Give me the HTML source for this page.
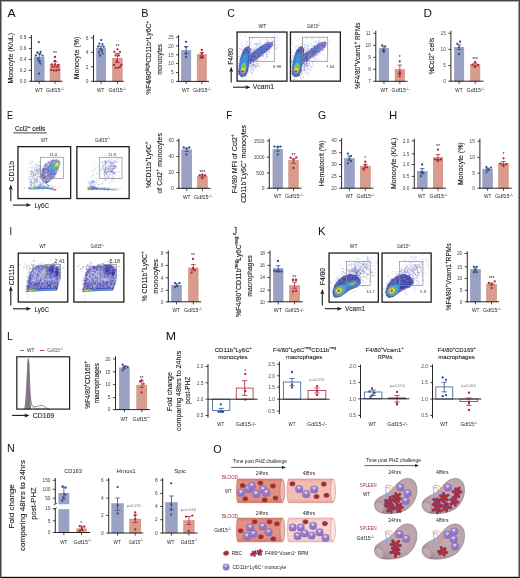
<!DOCTYPE html>
<html><head><meta charset="utf-8"><style>
html,body{margin:0;padding:0;background:#fff;}
svg{display:block;will-change:transform;}
text{font-family:"Liberation Sans", sans-serif;}
</style></head><body>
<svg width="520" height="578" viewBox="0 0 520 578">
<rect x="0" y="0" width="520" height="578" fill="#fff"/>
<defs><filter id="b0_4" x="-100%" y="-100%" width="300%" height="300%"><feGaussianBlur stdDeviation="0.4"/></filter><filter id="b0_6" x="-100%" y="-100%" width="300%" height="300%"><feGaussianBlur stdDeviation="0.6"/></filter><filter id="b0_8" x="-100%" y="-100%" width="300%" height="300%"><feGaussianBlur stdDeviation="0.8"/></filter><filter id="b1" x="-100%" y="-100%" width="300%" height="300%"><feGaussianBlur stdDeviation="1"/></filter><filter id="b1_5" x="-100%" y="-100%" width="300%" height="300%"><feGaussianBlur stdDeviation="1.5"/></filter><filter id="b2" x="-100%" y="-100%" width="300%" height="300%"><feGaussianBlur stdDeviation="2"/></filter><filter id="b3" x="-100%" y="-100%" width="300%" height="300%"><feGaussianBlur stdDeviation="3"/></filter></defs>
<clipPath id="cc1"><rect x="237.40" y="32.40" width="49.20" height="48.40"/></clipPath>
<g clip-path="url(#cc1)">
<path d="M240.4 67.6h0m5.8-6.6h0m-5.2 9.8h0m7.4-8.8h0m-3.8-8.6h0m1-5.2h0m2.6 5.1h0m-3.7-3.7h0m-4.3 22h0m-.3 3.4h0m4.1-11.7h0m-1.4-2.1h0m6.5-7.8h0m-1-.9h0m-.4 17.4h0m-2.1-1.1h0m-5.8-7.9h0m8.8-8.6h0m-5.2 5.1h0m.5 .7h0m.6 3.3h0m.7 8h0m-4.1-4.3h0m4.2 .4h0m-2.6 9.5h0m-.1-10.3h0m-3.5 6.8h0m8.9-13.8h0m-1.2 9.5h0m-3.8-13.5h0m6.3-2.6h0m-10.1 20.1h0m8.8-10.1h0m.8-13.5h0m-7.3 7.5h0m2-3.8h0m4.1 9.7h0m-6.1 15h0m3.4-7.2h0m-1.3-4.6h0m5.3-8.6h0m-3.9-1h0m1.3 18.1h0m-.7-18.6h0m-2.2 21.9h0m6.2-25.8h0m-9.5 22.9h0m6.4-23.1h0m-1.5 6.1h0m-.5-3.2h0m-1.5 15.3h0m5 2.5h0m-8.9-.8h0m1.4-1.6h0m1-.5h0m1.7-12.1h0m6.4-.5h0m-5 8h0m5.6-14.1h0m-4.4 12.8h0m-3.6 6h0m2.7-4.4h0m-5.8 8h0m.1 0h0m8.6-11.5h0m-1.4-.1h0m-1.6-1.7h0m-1.5-5.1h0m-1.9 14.9h0m2.6-14.6h0m-.9 7.8h0m1.3 7.2h0m1.7 1.3h0m.6 3.2h0m.3-5.5h0m-5.6 7.3h0m1.7-9.5h0m-.9-9.4h0m1-5.2h0m2-2.1h0m-3.1 27h0m5.5-15h0m-.5-8.1h0m-4.6 13.7h0m4.3-11.9h0m-5.3 18.3h0m-1.3-5.2h0m.6-2.6h0m1-6.8h0m2 7.4h0m-.7-10.8h0m-2.4 21.6h0m-2-4.7h0m8.4-17.9h0m-3.1 20.5h0m-3.4-15.4h0m4.6-5.6h0m-5.9 21.2h0m8.3-4.4h0m.9-4.8h0m-2.4-4.3h0m2.2-4.1h0m-6.6 .5h0m.3 8.5h0m7.4-17.4h0m-2.6 3.7h0m0 14.5h0m-3.4 1.2h0m4-5.2h0m-8.1 9.5h0m3.4-9.2h0m3.5-11.3h0m1 10.1h0m-6.9 11.1h0m6.5-19.8h0m-1.8 21.6h0m3.2-28h0m-5.5 18.8h0m3.2 4.5h0m.5-18.6h0m2.9 1.4h0m-1.3 16.7h0m1.3-11.9h0m-8.8 5.6h0m8-5.6h0m-4.9 6.9h0m0 1.9h0m4.3 3.4h0m-1.5-15.6h0m-2.7 3.9h0m.7-3.5h0m.6 6.1h0m-6.3 11.4h0m6.9-.7h0m1.9-2.2h0m-.9-4.7h0m.9 7.2h0m-4.6 .5h0m1.6-11.5h0m-1.3 5.3h0m2.6 2h0m-2.8-13.9h0m6.9-1.6h0m-3.7-1.6h0m2.5 3.7h0m-1.9 1h0m-2.3 13h0m-3.5-.8h0m1.5-1.2h0m.4-14.3h0m4.1 6.9h0m-7.2 14.7h0m7.6-9h0m-3.6-2.9h0m2.5 4.2h0m-3.4-9.1h0m4.8 9.1h0m-3.7-3.8h0m-2.9 8.6h0m2.9-17.8h0" stroke="#2c2c9c" stroke-opacity="0.5" stroke-width="0.6" stroke-linecap="square" fill="none"/>
<path d="M241.6 53.6h0m6.4 15.8h0m-2.5 10h0m-4.1-9.3h0m3.2-4.7h0m.2 2.5h0m-2.7-21.9h0m2.2 21.2h0m-1.2-6.8h0m.5 18h0m-.2-17.9h0m-1.2 16.1h0m4.4-10h0m-6.8-15.3h0m-.8 7.3h0m9.6 4.7h0m.9 2.5h0m3.8-14.2h0m-10.1 6.6h0m3.8 2.2h0m6.3-.9h0m-6.6-10.7h0m-1.4 22.1h0m-.7-23.1h0m3.2 17.8h0m-.6 2.2h0m3.5-22.7h0m-5.1 24.8h0m2.2 3.4h0m-6.4-9.2h0m2-11.6h0m-1.6 5.1h0m2.3 16.7h0m-2.4-3.5h0m0-6.1h0m6-.6h0m1.5-8.7h0m-4.4-.5h0m-.6-3h0m3.1-3.1h0m-6.1 18.8h0m-.7-18.4h0m5.1 .9h0m1.9 7.2h0m-2.2-12.7h0m-.1-8.5h0m3.4 20.8h0m.4 5.7h0m-3.8 9.2h0m-1.4-16.4h0m-1.9-6.1h0m9.8-8h0m2.4 9.6h0m-3.6 10.5h0m-4.5-12.1h0m5.9 11h0m-14.2 7.2h0m5.5-.2h0m-.8-1.9h0m4.5-2.9h0m3.1 5.4h0m-2.7 3.2h0m-6 1.8h0m4.9-21.9h0m.4 18.3h0m.1-27.3h0m1.9 19.6h0m-4.9-6.8h0m3-13.2h0m-.6 28.4h0m3.5-11.1h0m-7-12.7h0m-2.9 34h0m9.3-17.1h0m-3.8 7.9h0m-.5-6.6h0m2.5-8.5h0m-5.9-1h0m12.3-8.7h0m-9.6 10.9h0m2.2 .1h0m3.1 1.5h0m-6 10.8h0m9.2-20.6h0m-6.2 5h0m-4.7 16h0m5.3-7.6h0m8.8-3.6h0m-8.7-3.3h0m-7-15.6h0m15.5 7.5h0m-6.3 24.6h0m-3.9 2.5h0m2.6 2.2h0m-2.5-17.3h0m-2.5 8h0m.4-17.6h0m9.5 24.6h0m-2.6-13.8h0m-8-3.9h0m.7-2.1h0m1.8 16.2h0m2.2-16.3h0m4.8 19.4h0m-6.2-2h0m-3.5-2.4h0m-2.6 2.6h0m7.8-.3h0m-.8-8h0m-2.1 6.1h0m-2.9-.7h0m9.8-19.9h0m-5.9 3.9h0m-3.2-4.1h0m-3.5 7.6h0m3.5-14.3h0m-1.1 35.6h0m9.7-16.7h0m-3.5-1.5h0m-1-6.2h0m1.2-2.8h0m-5.3 8.8h0m1.6-10.2h0m2.8 19.2h0m1.7-7.3h0m-9-4.5h0m.4 3.2h0m13.7 .2h0m-10.3 13.4h0m2-19.3h0m.6-3.2h0m2.9 12.6h0m-6.6 2.9h0m10.1-9.6h0m-1.7-4h0m-10.8-4.4h0m8.6 18.1h0m-7.4 1.8h0m2.6-5.1h0m2.1-26.6h0m-1.6 32.2h0m1.2 6.5h0m2.2-29.5h0m4.4 31.8h0m-1.6-25.1h0m1.2-1.1h0m-6 20.4h0m4.2-20.3h0m-2.2 12.6h0m-2.7 11.4h0m-.5-23.4h0m-5.5 22.4h0m5.4 .1h0m1-7.7h0m-2-.7h0m-4.9 5.3h0m.8-17h0m4.2 7.7h0m3.7-11.2h0m4.6-18.4h0m-9.3 27.4h0m-2.3 11.1h0m3.5-4.9h0m-5.4 4h0m13.7-24.3h0m2.1 4.4h0m-15.7 18.6h0m13.1 .9h0m-5.2-16.2h0m-4.6 9.1h0m7.4-11.4h0m3.4-12.9h0m-4.1 13.3h0m.3 6.8h0" stroke="#2c2c9c" stroke-opacity="0.45" stroke-width="0.6" stroke-linecap="square" fill="none"/>
<path d="M258.5 49h0m-14.3 17.7h0m21.6-17.5h0m-17.9 2.8h0m19.1-7.2h0m-7.6-4.4h0m-.6 14.8h0m4.1 1.9h0m5-7h0m-4.1-2.6h0m-11.9 5.9h0m16.1-8.8h0m-23.5 18.7h0m14.4-13.5h0m1.5-2.8h0m16.9-10.3h0m-24.8 20.4h0m10-3.9h0m-.1-.9h0m-3.4-1.5h0m-8.7 4.2h0m6.1-6.6h0m8.2-1.8h0m5 1.2h0m-6 14.2h0m4.7-19.7h0m-6.9 5.3h0m-8.3 9.3h0m4.6-.2h0m-7.8 3h0m19.5-14.1h0m7.9 1.8h0m-27.4 9.5h0m8.6 2.1h0m-7-10.8h0m2.6 5.8h0m3.8-2h0m.1-2.8h0m.2 1.3h0m-2.6 2.6h0m10.3-5.1h0m-3.4-1.9h0m-15.8 13.9h0m18.7-12.9h0m-13.2 2.8h0m7.7-2.3h0m-11.9 13.9h0m14.4-6.6h0m-15-.7h0m16.1 1.3h0m-1.4-3h0m-12.1 7.2h0m-5.2-5.5h0m22-3h0m-12.2 4.6h0m8.3-7.7h0m-2.4 4.3h0m-9.5 .6h0m16.4 3h0m-11.7-3.6h0m16.1-12.6h0m-13.6 21.2h0m7.8-10.9h0m-19.3 16.4h0m13.1-10.7h0m7.5-1.7h0m2.2-1.6h0m-12.2 5.7h0m5.6-11.3h0m-13.6 11.3h0m3.1-3.3h0m2.3-2.6h0m6.1-.9h0m-10 3.2h0m9.3-5.7h0m-5.9 2.5h0m-8.4 9.1h0m6.2-3.8h0m4.5-4.7h0m7.8-7.5h0m4.4 2h0m8.4-11.5h0m-21.5 21.2h0m9.2-9.6h0m.8 1.2h0m-15.7 12.3h0m16.9-11.9h0m-9.7 1.3h0m11 2.3h0m-17.2 9h0m-3.8 .9h0m-7.3 3.5h0m21.6-21.3h0m-11.2 15.1h0m8.3-5.2h0m8.8-13h0m-9.9 3.9h0m-16.6 22.8h0m26.4-19.1h0m-21 9.6h0m.6 2.1h0m7.8 .1h0m5.5-14.5h0m10.9-1.3h0m-4.8 2.6h0m5.5 1h0m-3.1 3.4h0m-3.5-2.3h0m-15.2 .2h0m20.4-2.6h0m-16.6 13.1h0m7.7-8.9h0m14.2-6.3h0m-25.4 14.4h0m19.6-9.6h0m-6.7-1.9h0m-4.4-3.5h0m10.6 .5h0m-14.9 7.9h0m5-4.2h0m-8.8 5.7h0m21.9-12h0m-8 7.9h0m-7.4 7.3h0m.1-7h0m-5.5 5.7h0m7.6 2.2h0m-15.5 10.3h0m30.2-20.1h0m-21 4.7h0m17.7-6.2h0m-10.3 .6h0m-5 2.2h0m19-3.7h0m-15.3 11.1h0m-2.3-12.1h0m5.8 1.4h0m-1.2 2.2h0m-9.5 7.4h0m13.3-13.4h0m-15.6 9.9h0m7.7 5.1h0m9.3-8.2h0m.3 4.1h0m7.6-5.2h0m-22.3 6.2h0m15.2-4.9h0m-11.6 4.2h0m10.7-7.5h0m-11.3 10.3h0m1.9-.3h0m4-6.7h0m-5.4 9.8h0m-1.9-2.7h0m3.7-3h0m1.9 2.9h0m-.8-8.6h0m-6.2 12.5h0m8.7-4.1h0m5.1-3.4h0m-17.2 5.1h0m17.5-16.7h0m-1.3 6.3h0m1.7-2.4h0m-10.5 12.7h0m17-21.3h0m-13 11.2h0m4.2 2.5h0m-12.8 1.2h0m8.8-.2h0m5.9-4.6h0m2 0h0m4.7 0h0m-23.6 11.3h0m13.3-9.5h0m3.5 6.1h0m-13.9-.5h0m3.6 5.2h0m18.8-22.2h0m-.3-2.2h0m-13 16.4h0m-.4-3.5h0m-9.6 9.2h0m15.8-11.6h0m-3.1 5.3h0m4.5-10.2h0m7.4 8.2h0m-21.9 12.2h0m-9.2-2h0m13.2-6h0m-13.1 6.3h0m5.4 3.7h0m3.6-5.7h0m3.7-1.6h0m-16.3 9.4h0m6-8.5h0m17.2-4.6h0m-12.1 2.9h0m22.2-13.5h0m-5.3 8.1h0m-3.8-2.4h0m-4.7 7.8h0m-22.3 8.9h0m25.8-12.8h0m-1-4.1h0m-12.3 5h0m10.4-1.4h0m-5.5-6h0m-1.2 6.1h0m13.7-2h0m-2.5 1.1h0m2.9-3.4h0m-14.6 10.1h0m6.8-4h0m2.6-3.1h0m-2.1 1h0m-5.8-.5h0m-2.2 4.4h0m18.9-12.7h0m-17.8 16.6h0m8.2-9.9h0m1.9-4.5h0m-14.3 12.5h0m6.1-3.2h0m5.2 1.4h0m-.6-1.9h0m-5.3-2.5h0m1.4-.9h0m7-1.9h0m-12.3 9.8h0m7.7-7.5h0m-8.2 6.9h0m3.5-3.5h0m-17.2 11.4h0m40.9-19.2h0m-11.6 .3h0m1.4 2.6h0m-8.4 3.4h0m-3.8-4.9h0m12.8 2.5h0m-6.5 2.3h0m-9.1 4.5h0m-.7-3.6h0m13.8 4.5h0m6.4-14.3h0m-11.9 17.7h0m-9.1-5.8h0m14.9 .8h0m.3-17.6h0m-24 20.8h0m23.2-15.4h0m-9.4 16h0m-1.3 2.6h0m-11.1-1.7h0m22.5-18.1h0m-3.6 11.1h0m2.9-3.9h0m-1.7 2.4h0m-4.9-1.7h0m11.9-11.5h0m-12.7 11h0m1 7.2h0m-15.7-.3h0m18.7-6.4h0m-2.9 1h0m2.5-2.7h0m5-2.6h0m-20.9 10.8h0m14.5-9.5h0m-12.9 15.4h0m13.1-7.6h0m5.6-14.6h0m-5.8 7.3h0m-2.5 7.1h0m1.7-4.1h0m.5 1.7h0m-22.4 19.2h0m27-22h0m-3.7 8.1h0m-3.8-2h0m-8-5.2h0m11.8 1.7h0m-13.5 14.2h0m15.6-16.2h0m-14.5 3.7h0m8.5 .2h0m-1.6 .1h0m6.1-3.1h0m.1-1.6h0m-15.4 13.3h0m16.9-9.3h0m-4.3-6.7h0m5.7 6.6h0m7.7-11h0m-11.9 8.6h0m7.5-3.3h0m10.1-8.3h0m-18.8 18.2h0m3.7-11.4h0" stroke="#2c2c9c" stroke-opacity="0.45" stroke-width="0.6" stroke-linecap="square" fill="none"/>
<path d="M255.4 48.3h0m-8.3 13.8h0m5.5-6.5h0m6.5-10.7h0m2.1 1h0m-3.9 2.3h0m-16.7-4.5h0m8.2 7h0m27.2-12.2h0m-18.8 8.2h0m11.5 4.5h0m-8.9 1.3h0m1.7 11.7h0m11.5-26.1h0m-11.4 13.4h0m12.3-15.1h0m-12.6 17.6h0m-6.7-4.2h0m7.3 2.3h0m-13.1 1h0m9-5.4h0m6.4-8.4h0m-11.3 22.9h0m.7-12h0m9.5-5.3h0m-21.9 14.8h0m22.3-10.6h0m7.1-2.4h0m-5.7 13.4h0m-24.4-24.7h0m23.2 20.3h0m-8.4-11.2h0m11.6 12.6h0m-11.2-12.8h0m-.5 11.6h0m-6.9 9.7h0m3.8 5.1h0m2.5-10.1h0m-2.1-23.5h0m6 7h0m-4.9 11.1h0m-12.1 2.2h0m20.8-1.9h0m4.1-5.4h0m-24.6-5.1h0m21.3 11.7h0m-8.3-6.4h0m-9.8 3.7h0m17.6-4.3h0m-6.6-1.8h0m-7.1 2.3h0m.4 16.8h0m-.7-.1h0m8.6-24.3h0m7.3 9.4h0m-2.4-4.7h0m-10.8 5.1h0m-.9-8.8h0m11.7-1.4h0m9.6 10.5h0m-21.9 2.6h0m-.6 4.8h0m-.4-14.2h0m11.1-3.2h0m8.1 18.3h0m-14.1-11.8h0m-10 14.2h0m8.7-10.8h0m8.6-12.8h0m4.8 18.8h0m-5.8-16.5h0m4.6 2.2h0m4 1.8h0m-10.2-10.8h0m-9.3 1.9h0m6.9 6.6h0m6 7h0m14.1-4.4h0m-20.4-10.2h0m-1.3 8.4h0m.5 7.8h0m9.1 2.3h0m.3-4.7h0m-12.3 4.2h0m7.6-.7h0m-15.3 9.8h0m2.8-1.6h0m.6-18.7h0m7.8 .6h0m6.4 6.8h0m-3.2 7.7h0m-11.7-5.9h0m10.7 4h0m-14.2-23h0m10.2 16.4h0m-7.5-5.1h0m-1.3 11.7h0m14.6-12.8h0m-6 5.8h0m4.6-7h0m7.2 15.4h0m-8.1-13.7h0m0 19.6h0m19.2-23.4h0m-19.1 20.3h0m-2.2-4.3h0m-5.3-2h0" stroke="#8080d4" stroke-opacity="0.55" stroke-width="0.5" stroke-linecap="square" fill="none"/>
<path d="M244.6 64.3h0m-4-6.5h0m12.1 8.3h0m5.1 0h0m-6.4 .3h0m-7.2-14.7h0m8-1.2h0m4.3 10h0m-3.2 10.9h0m-1-6.5h0m-4.9 3.9h0m1.8-9.6h0m4.5 6h0m-5.5-5.6h0m-2.6 1.2h0m-.8-2.3h0m11.4 1.6h0m-7.2 7.5h0m3-1.5h0m-.8-8.4h0m4.8 6h0m-4.6 .9h0m6.1-.6h0m-2.9-10h0m-4.9 7h0m.2-1h0m2.5 7.4h0m.9-2.6h0m.4-2h0m4.3-1.2h0m-6.1-1h0m-1-.6h0m-3.3 2.7h0m5.9-1h0m3.8 1.6h0m-11-1.4h0m9 3.6h0m-4.5-9h0m1 7.1h0m8.3 2.3h0m-8.3-1h0m-.5 1.4h0m-.5-3.7h0m-4.4-1.4h0m.3 .3h0m5.5 6.5h0m-.2-9.1h0m1.2 1.2h0m-9.6 4.4h0m6.7-4.9h0m-.5 6.4h0m2.2-7.8h0m3.2-1.8h0m-.8 1.2h0m-3.6 12.9h0m0-6.9h0m-1.2 .4h0m5.2 .7h0m2.9-3.8h0m-10.5 4.8h0m.9 1.5h0m3.4 5.6h0m1.7-15h0m-4.8 3.5h0m4.6-7.7h0m.7 8.3h0m.6-.8h0m.9 5.2h0m-4.4-5.3h0m-5.3-8.3h0m7.9 1.1h0m.6 13h0m-1.9 1h0m9.9-15.9h0m-10.5 17.5h0m-7.8-14.8h0m6.4 9.2h0m3.7 .8h0m-3.5-1.3h0m.8-3.4h0m7.1 5.2h0m-12.7-.2h0m3-4.2h0m10.6 6.5h0m-8.4-7.7h0m6.2 7h0m1.1-7h0m5.2-3.9h0m-9.4 9.7h0m-3.7-1.8h0m-5.4 .4h0m6.8 8.3h0m.3 0h0m2-8h0m3.2 .7h0m1.1-.8h0m-13.6 4.3h0m1.8 .9h0m5.8-11.1h0m.9-1.9h0m-4.5 3.8h0m6.3 7.9h0m-7-5.6h0m6.6 .3h0m1.9-3.1h0m-.1 7.1h0m-2.4 1.7h0m-8.6-4.3h0m8.1-2.1h0m5.4-7.2h0m-5.7 9.9h0m-2-1.4h0m4.4 3.9h0m-2 2.4h0m.1 .6h0m-2.6-8.6h0m-2.5-9h0m4.8 10.3h0m-2.5-4h0m-2.5 6.9h0m9.2-.7h0m0 5.1h0m-.9-3h0m-5.5-4.6h0m4.5 4.2h0m-5.3-2h0m4.1 .4h0m-1.5-4.7h0m-.7 0h0m2.7-5.3h0" stroke="#2c2c9c" stroke-opacity="0.45" stroke-width="0.55" stroke-linecap="square" fill="none"/>
<path d="M238.3 74.0 L238.8 66.0 L240.3 58.0 L242.8 51.0 L245.8 47.0 L249.0 46.0 L250.8 49.0 L250.0 56.0 L249.0 64.0 L248.0 71.0 L246.0 76.0 L241.5 77.3Z" fill="#2c2c9c" fill-opacity="0.7" filter="url(#b1_2)"/>
<path d="M247.5 57.0 L254.5 51.0 L261.5 45.8 L267.5 42.2 L272.3 41.8 L273.5 45.0 L269.0 49.8 L262.0 55.2 L255.0 60.5 L250.0 63.5Z" fill="#2c2c9c" fill-opacity="0.62" filter="url(#b1_2)"/>
<path d="M239.8 72.0 L240.5 64.0 L242.0 57.0 L244.5 52.5 L247.2 51.5 L248.2 56.0 L247.5 64.0 L246.6 70.0 L244.8 74.5 L241.6 75.3Z" fill="#3a70cc" fill-opacity="0.7" filter="url(#b1_0)"/>
<path d="M239.8 72.0 L240.5 64.0 L242.0 57.0 L244.5 52.5 L247.2 51.5 L248.2 56.0 L247.5 64.0 L246.6 70.0 L244.8 74.5 L241.6 75.3Z" fill="#3aa6e2" fill-opacity="0.75" filter="url(#b1_5)"/>
<ellipse cx="262.00" cy="49.20" rx="6.50" ry="1.90" transform="rotate(-33 262.00 49.20)" fill="#3c86d4" fill-opacity="0.7" filter="url(#b1_0)"/>
<ellipse cx="243.60" cy="67.80" rx="2.70" ry="5.20" transform="rotate(8 243.60 67.80)" fill="#80c84e" fill-opacity="0.95" filter="url(#b1_0)"/>
<ellipse cx="242.90" cy="70.30" rx="1.90" ry="2.60" transform="rotate(5 242.90 70.30)" fill="#efe040" fill-opacity="1" filter="url(#b0_6)"/>
<ellipse cx="242.60" cy="71.20" rx="1.20" ry="1.20" transform="rotate(0 242.60 71.20)" fill="#e2302a" fill-opacity="1" filter="url(#b0_2)"/>
</g>
<rect x="249.30" y="37.40" width="25.40" height="23.90" fill="none" stroke="#8c8c8c" stroke-width="0.7"/>
<text x="277.00" y="67.90" font-size="4.3" fill="#3a3a3a" text-anchor="middle">9.98</text>
<rect x="237.05" y="32.05" width="49.90" height="49.10" fill="none" stroke="#1e1e1e" stroke-width="1.3"/>
<clipPath id="cc2"><rect x="290.80" y="32.40" width="49.20" height="48.40"/></clipPath>
<g clip-path="url(#cc2)">
<path d="M303.7 50.4h0m-3.9 6.4h0m3-3.5h0m-3.6 21.9h0m1.4-27.7h0m1.7 16.7h0m-1.9 1h0m-5.5 10.7h0m.7-5.5h0m-2.1 1.4h0m6.5-20h0m-2 10.4h0m-1.2 4.5h0m6.4-11.1h0m-6.8 8.6h0m-1 .4h0m3.1-5h0m1.6 2.9h0m-4-3h0m.6 15.6h0m6.2-23.7h0m-4.4 5.5h0m-2.7 .3h0m2.6 13.7h0m1.4-18.6h0m.6-4.7h0m-3.6 24.3h0m5.5-10.3h0m-4.1 2.7h0m-.6 4.5h0m2.1-11.7h0m-.4 18.4h0m.3-18.8h0m-5.8 11h0m3.3-13.3h0m5.4-2.7h0m-4.9 .8h0m-1.6 16.5h0m6.3-22h0m-8.1 14.3h0m2.3 8.2h0m4.2-9h0m-.7-9.6h0m-.8-3.6h0m3.1 6h0m-3.9-2.9h0m-2.4 22.6h0m5.9-26.7h0m-5.5 19.7h0m-2.5 5.1h0m2.3 1.5h0m1.9-20.7h0m4.1 10.1h0m-1.8 9.6h0m-3.6 1.8h0m4.4-15.3h0m-1.3-6h0m-3.5 1.3h0m1.8 22.9h0m-4.6-12.8h0m4.7 6.5h0m2 1.2h0m1.7-22.1h0m-4 26.3h0m1.5-6.2h0m-3.6 7.2h0m4-20.3h0m-2.6 .3h0m-3.4 4.5h0m3-3.8h0m5-1.5h0m-3.4 17.9h0m-.4-20.7h0m3.9-3.3h0m-4.3 21.6h0m-1.8-13.2h0m1.5 7.8h0m-5.1 1.8h0m9.5-.5h0m-5.6-12h0m-2.6 5.2h0m7.8-7.4h0m-3.8 13.1h0m-2.1-12.4h0m.4 5h0m2.8-7h0m-1.9 23.2h0m1.9-2.9h0m-3.7 1.4h0m6.5-20.1h0m-3.2 14.2h0m.6-2.5h0m-4.2-1.5h0m1.4 7.7h0m.3 5.7h0m2.6-23.6h0m1.9-5.7h0m-1.6 8.2h0m2.1-5.6h0m-1.2 18.3h0m-3.8-2h0m.8 5h0m-3.5 4.1h0m4.4-24.4h0m-.4 .5h0m-2.8 8.4h0m2.4 7.9h0m1.6-14.7h0m-5 19.8h0m-1.3-1h0m5.9 3h0m1-18.4h0m-2.4 12.4h0m-2.5 2.2h0m1.4-7.6h0m-2.5 10.8h0m4.9-23.4h0m-1.1 7.1h0m-4.7 7.4h0m9.8-7.2h0m-7.1 7h0m6.3-13.9h0m-6.4 14.8h0m-3 5.5h0m3.4 .4h0m1.8-20.8h0m-2.4 18.5h0m6.6-3.9h0m-6.1 1h0m5.4-9.3h0m2-2.7h0m-1.1 7.6h0m1-1.4h0m-7.2 11.9h0m6.5-23.2h0m-7.5 7.3h0m2.3-6.3h0m3 2.9h0m-2.8 16.4h0m-1.1-16h0m-1.4 15h0m1.5-.9h0m-.6-9.8h0m7.6-6.1h0m-8.2 23.9h0m8.4-23h0m-4.3-3.6h0m-2.1 20.6h0m3.4 .5h0m-2.5-10.1h0m.4-10.2h0m-.1 3.2h0m.4-.1h0m.1 8.4h0m.5 5.4h0m1.2-5.3h0m-4.8 9.2h0m1.5 1h0m.9 1.2h0m-1.3-19.5h0" stroke="#2c2c9c" stroke-opacity="0.5" stroke-width="0.6" stroke-linecap="square" fill="none"/>
<path d="M299.6 57.3h0m-5.8 18.3h0m13.4-29.9h0m-12 23.5h0m.9-3.4h0m-2.6 14.1h0m8.6-18.3h0m1.1 9.5h0m3.7-11.5h0m-4.3-15.2h0m-1.9 10h0m-4.4 9.2h0m-3.5-1.6h0m6.9-4.4h0m-6.5 13.6h0m-1.6-10h0m15.7-5.1h0m-14.3-.1h0m2.3-3.3h0m-2 15.3h0m7.7-16.3h0m5.3 1.7h0m-.3 5.3h0m-10.5-1.9h0m9 8.4h0m-2.4-20.4h0m-3 14.3h0m-.4-5.4h0m-5.8 14.2h0m7.7-3.2h0m-3 4.7h0m-.5-8.2h0m2.4 3.6h0m3.7-31.5h0m-2 15.8h0m-.5 27.8h0m-1.8-11.5h0m3.4-25h0m4.6 21.4h0m-9.3 12.8h0m-5-18.8h0m3.6 20.4h0m.2-7.6h0m-1.2-10.8h0m1.7 14.4h0m-2.4-5.7h0m1.2 2.4h0m-2.4 8.2h0m3-26.7h0m9.4 5.5h0m-5.9 14.7h0m-8-12.8h0m4.9 2.9h0m-5.2 2.3h0m10.4-12.2h0m-3.8 14h0m-7-4.7h0m9.6 11.1h0m-5.3-18.1h0m2.2 13.6h0m4.3-2.7h0m1.6-8h0m3.4 6.1h0m-11.4-6.8h0m-3.2-2.8h0m3.7 14.6h0m9.3-13.1h0m-11.7 14.9h0m7.6 2.3h0m1-21.3h0m-2.6-5.1h0m-7.1 29.9h0m13.4-14.2h0m-7.9 16.5h0m-1.2-30.7h0m3.5-7.6h0m1.3 22.8h0m-4.6 .6h0m3.6-.1h0m-9.1 5.5h0m3.9-3.2h0m-.1-3.1h0m-4.1 .4h0m3.4 11.2h0m2.2-21.4h0m9.1-10.3h0m-4.6 20.1h0m-5.2 .9h0m3.1-10.6h0m4.3 1.1h0m-4.2 6.9h0m-2.8-5.5h0m3.8 3.9h0m1.9 14h0m-8.1-.2h0m1.4-25.2h0m11.3-1.5h0m-12.5 19.2h0m9.6-9.6h0m2.9-1.4h0m-3.2 13.9h0m-4.2-8.1h0m-7.8 12.8h0m1.5-11.5h0m7.2 6.8h0m2.4-11.8h0m-10.5 7.3h0m3 10.1h0m5.9-16h0m-10 3.4h0m13.3-5.2h0m-7.9-5.2h0m1.5-8.5h0m14.6 20.7h0m-11.8 13.2h0m-6.3-8h0m8.8 10.4h0m1.1-22.8h0m-9 6.8h0m11.3-6.1h0m-8 19.4h0m3.2-12.3h0m-8 6.2h0m2.2-3.1h0m1.3-9.9h0m1.2-5.1h0m7-2.6h0m-4.6 9.5h0m3.3-12.9h0m-6 17.8h0m4 11.7h0m-2.1-12.6h0m-3.9 11.4h0m6.5-3.3h0m4.3-22.6h0m-6.8 9h0m8.5-12.5h0m-2.4 7.3h0m-3.2-.5h0m1.6 14h0m-8.9-2.8h0m5.1 18.4h0m-1-19.6h0m4.7 5.1h0m-.1 3.5h0m-7 4.2h0m-3.3-11.1h0m1.8 11.8h0m4.3-9.3h0m.6 14.2h0m.3-20h0m10.4-19.9h0m-19 26.5h0m5.7-14.9h0m-4.3 28.9h0m2.9-6.7h0m5-8.4h0m-1.6-7.5h0m-2.5 15.7h0m.1-9.3h0m2.7 1.9h0m3.5-20.5h0m-.1 2.4h0m-2.3 15.7h0m-2.3-12.2h0m4.1 9.7h0m-2.5-16.7h0m5.5 16h0m-14.1 15.7h0m14.1-36.9h0m-11.8 41.2h0m4.5-23.7h0m1.2 16.6h0m-4.1-16.6h0m1 1.8h0m-2.6-2.4h0m10.2-7.4h0m-3.1 21.9h0m-1.7 2.6h0m-1.6-26h0m5.1 17.7h0m-5.3 10h0m-5.2-12.4h0m7.4-8.4h0" stroke="#2c2c9c" stroke-opacity="0.45" stroke-width="0.6" stroke-linecap="square" fill="none"/>
<path d="M308.2 55.8h0m11.3-2.8h0m4.2-2.3h0m-12.1 3.6h0m1.7-3.6h0m.1 7h0m11.6-13.9h0m-32.2 18h0m19-1.4h0m9.8-15.5h0m-1.4 3.5h0m-6.8 3h0m-7.8 1.8h0m5.3-4.2h0m5.4-.5h0m-7.4 8.2h0m-.8-2.5h0m.8 3.8h0m5.8-7.9h0m-1 3.6h0m-6.6-5.1h0m19.3-5.8h0m-8.7 2.2h0m-17.1 11.3h0m16.8-9.1h0m-5.6 3.7h0m-5.4 13.1h0m-1.1-10.6h0m1.3 4.7h0m16.5-12.5h0m-6.7 2.9h0m7.6-3.4h0m-9.2 1.2h0m9.2 .7h0m-14.8 4.9h0m5.3-6.3h0m-1.4 2.9h0m-4.3 11.3h0m-5.9-8.2h0m20.2-9.6h0m-1.4 3.8h0m-17.8 5.9h0m9.2 1.5h0m-4.5 .4h0m-.6 1.5h0m6.3-5h0m-16.4 9.4h0m12-7.4h0m-10.7 7.2h0m.1-4.6h0m15-7.9h0m9.3 2h0m-23.1 13h0m3.1-.8h0m20.2-11.2h0m-4.5-8.7h0m-7.3 4.9h0m6.2 5.5h0m-4.2 3.2h0m-7.6-.3h0m-5.1-2h0m12.7-1.4h0m-9.8 3.4h0m-.2 6.9h0m12.3-14.2h0m-6.6 5.2h0m-1.9 4.8h0m8.2-16.3h0m1.6 3.7h0m-9.8 4.8h0m1.5 4.6h0m7.2 6.4h0m-6.7-7.4h0m2.1 1.6h0m8-4.6h0m-6.5 2.4h0m-16.6 11.5h0m9.9-6.4h0m3.6-1.3h0m2.1-1.3h0m-11.6 10.1h0m5.9-1.7h0m-3.6-4.2h0m3.3-1.9h0m12.4-13.5h0m-1.4 8.6h0m-9.7 7h0m2.8-3.1h0m1.5 9.7h0m-3.8-19.4h0m7.7 1.8h0m-14.6 10.5h0m3.4-.4h0m-.4-4.8h0m10.8-1.9h0m-1.4 .9h0m-.5 .3h0m10.5-4.8h0m-3.3 5h0m-17.1 10h0m-5.2-3.6h0m9.5-1.6h0m14.4-15.5h0m-20 21.4h0m7-15.3h0m20.2-6.8h0m-14.5 9.5h0m-2.7 3.9h0m4.3-.5h0m-14 4.9h0m16.1-16.7h0m-1.5 2.8h0m6 4.7h0m-5.1-2h0m-11.2 5.4h0m8.6-3.5h0m-8.3 6.7h0m.9 4.2h0m11.5-13.7h0m1.5-2.2h0m2.9-.6h0m-23.6 8.1h0m23.2-15.4h0m-8.6 17.3h0m-5.3-3.9h0m3 2.5h0m3.3-1h0m-7.8 8.4h0m9.2-8.3h0m3.8-3.9h0m-17.4 7.2h0m2.3-2.9h0m-.3-2.9h0m8 1.6h0m6.4-6.7h0m5.7-2.3h0m-14.2 11h0m14.4-6.4h0m-10 2.9h0m-8.3 .2h0m4 1.4h0m12.7-9.6h0m-1.2 3.1h0m-10.7 10.3h0m-18.5 2.2h0m33.3-14.2h0m-11.2 5.7h0m-1.7 1.6h0m-1.1 2.1h0m3.4-.9h0m-11.2 3.9h0m19.3-13.8h0m-8.4 8.4h0m-1.4 8.3h0m-.8-15.5h0m4.7-.7h0m-19.8 16.6h0m17-16.5h0m2.2 1.9h0m5.6 3h0m-20.6 1.4h0m5.5-3.2h0m9.4 .6h0m2.6-2.4h0m-13.5 14.3h0m-1.2-1h0m4.9-7h0m-5.9 10.2h0m19.5-18h0m-18.3 13.2h0m-5.6-3.1h0m20.3-5.7h0m-6.5 11.7h0m-1.3-6.8h0m5-6.1h0m-1.7 5.6h0m2.7-2.1h0m5.9-2.3h0m-4.8 3.6h0m-12.9 1.8h0m6.4 4.1h0m-8.8 3.1h0m2.2-5.2h0m-3.4-3.3h0m19.1-7.2h0m-9.3 8.1h0m-17.2 18.2h0m28.4-26.9h0m-8.2 9.2h0m3.2-1.2h0m-1.9-3.4h0m-3-2.1h0m.2 9.9h0m9.2-9.5h0m-6.5 .4h0m1.4 .6h0m-9.8 13.2h0m5.2-8h0m-9.5 5.7h0m12-6.4h0m1-1.2h0m4.2 .3h0m-2.9-6.9h0m-1.9 10.8h0m2.1-8.4h0m-6.3 5.4h0m-2.4-6.6h0m-13.4 16h0m3.5-4.5h0m5.6 .7h0m8.4-.8h0m-1.7-5.6h0m-1.1 1h0m-8.4 1.6h0m17.4-10.4h0m-16.6 9.9h0m.9-1.3h0m-1.5-.6h0m2.5 14.6h0m8.5-13.5h0m8.2-5.5h0m-8.1 2.3h0m3.3-4h0m-8.1 7h0m11.3-6.1h0m-4.4 9.6h0m7.4-9.8h0m-9.9 3.5h0m.5 5.1h0m4.6-1.1h0m-5.2-6.6h0m-10.7 3.2h0m10.8-2.6h0m1.8 .9h0m-2.3 1.7h0m-1.1 4.4h0m-3.2-.5h0m-.5-.4h0m-2-1.5h0m5.8 2.7h0m-.8-4.7h0m-2.7 13.6h0m10.1-20.9h0m-18.4 11.8h0m15.8-12.2h0m-5.7 6.7h0m.3-.1h0m.1 4.1h0m10.4-1.7h0m-5.3-.6h0m4.3-10.9h0m4.3 2.2h0m-12.4 16.1h0m-2.7-3.9h0m11-2.7h0" stroke="#2c2c9c" stroke-opacity="0.45" stroke-width="0.6" stroke-linecap="square" fill="none"/>
<path d="M303.5 60.9h0m8.9-11.5h0m17.8 9.8h0m-12-6.5h0m-14.5 1.1h0m4.6 2.6h0m1.8-9.6h0m-5-.5h0m2.1 7.5h0m3.8-3.1h0m-.1-.1h0m-4.2 9.4h0m-2.8-8.4h0m13.6-3.8h0m.9 12.5h0m-17.8-11.9h0m23.2-8.9h0m-12.1 27.9h0m0-17.9h0m-17.5 10.6h0m12.3-1.6h0m-10.5 3.2h0m26.2-15.6h0m-25.4-5.8h0m7.7 10h0m-6.1-2h0m25.8 6h0m-25-2.2h0m.9-3.2h0m14.5 4.4h0m2.7-5.1h0m-.2 10.6h0m-2.3-6.9h0m-18.7 6.7h0m11.8-4.9h0m9.5-10.3h0m1.2-3h0m.1-1.6h0m-15.5 1.2h0m-10.9 3.2h0m21.1 4.6h0m-20.5 16.9h0m8.4-17.5h0m7 7.7h0m1.4-2.1h0m8.4 2.5h0m-16.4 5.7h0m-5.6-8.2h0m-.9 2h0m24.6-6.1h0m.4-7.3h0m-1.5 13.7h0m-5.2-9.6h0m-8.3 9h0m23.9-5.5h0m-25.9-6.8h0m12.3 .5h0m-2.9-3.8h0m-9.6 19.8h0m13.4-1.8h0m-5.6-6.9h0m3.8-2.2h0m-10.8 7.8h0m18.2-7.8h0m-5 7.9h0m-5.6-11.9h0m-1.8 12.3h0m15.6-11h0m-21.1 11.2h0m2.5-12h0m15.3 21.5h0m-15.7-7.5h0m11.8-11.7h0m-20.7 16.1h0m7.4-12.3h0m8.8 .7h0m9.3 4.2h0m-16.1 5.9h0m4.2-7.2h0m10.5-9.4h0m-19.7 1.9h0m24.5 1h0m-13.8-.9h0m12.9 12.5h0m-.8-11.5h0m-10.1 1.4h0m-5.2 4.2h0m-1.6-.2h0m-2.1 2.1h0m14 2.8h0m-6.8-2.6h0" stroke="#8080d4" stroke-opacity="0.55" stroke-width="0.5" stroke-linecap="square" fill="none"/>
<path d="M304.5 67.7h0m-1.5-10.6h0m-3 2.2h0m4.6 11.2h0m2.4-6.6h0m-6.9-3.8h0m3.4 17h0m7.4-8.1h0m-10.7-7.8h0m3.9 2.6h0m-4.3 2h0m5.2-12h0m-1.1 14.9h0m4.6-2.1h0m-9.3 .7h0m7.3-3.4h0m-6.1-7.1h0m10.5 9.6h0m-.9 4.5h0m-6.4-10.5h0m-3.7 9.2h0m6.5-7h0m-2.8 1.4h0m11.3-3.7h0m-16.3 7.4h0m6.7 4.9h0m1.5-5.7h0m-7.9-5.4h0m4.6 1.9h0m4.2 .2h0m-3.5 6.5h0m4.6 3h0m-5.4-13.6h0m-4.9-.8h0m6.6 11.7h0m-4.5-14.6h0m4.1 5.7h0m2.5-1.1h0m-3.3 1h0m3.3-7.5h0m.3 1.8h0m2.1 4.1h0m-2.2 0h0m-.1 5.9h0m-7.5 2.4h0m6.1-9.3h0m.7-6.4h0m-6 15.4h0m3.7 0h0m2-.6h0m2.6-1.8h0m-2.8-5.5h0m1.3 13.6h0m-3.7-7.4h0m2.2-1.9h0m4.1-6.8h0m3.5 3.3h0m-15-6.3h0m6.8 16.6h0m1-10.7h0m8.6-3.7h0m-9 9.3h0m1.5-.9h0m-5.9 5.5h0m4.4-4h0m-3.6-11.7h0m10.2 8.4h0m-8.6-4.1h0m.2 4.2h0m1-.2h0m.3-6.1h0m1.3 9.1h0m-4.1-5.2h0m3.2-4.5h0m-.2 4.1h0m2.5 14h0m-3.5-16.7h0m2.2 5.2h0m-3.1-1.6h0m.7 4.8h0m0-2.2h0m3.6 5.8h0m-.3-1.7h0m4.6-6.5h0m-1.6 6.2h0m-9.6-7.9h0m7.3-8.9h0m-7.8 19.1h0m6.3-1h0m3.8-11.9h0m-10.1 14.4h0m-2.5-13.8h0m8.7 0h0m-2.7 7.3h0m2.9-3.8h0m1.4 3.8h0m-1.1 .7h0m-3.1-7h0m3.6 .3h0m2.6-3h0m-5.4 13.3h0m-.7-9.2h0m9 5.1h0m-5.3-2h0m2.6 6.7h0m-8-11.8h0m-7.5 4.8h0m12.2 9.1h0m-2.7-5.3h0m-.7-8.6h0m-3.9 1.1h0m9.1 5.4h0m-9.8 3.6h0m6.9-10.6h0m-6.3 10.6h0m5.4-6.8h0m3-7.7h0m-4.2 16.5h0m-1.8-6.8h0m7.7 1.9h0m-5.1-7.5h0m-1.1 2.6h0m4.8-4.7h0m-5.1 7.3h0m6 0h0m-4.1 1.3h0m-3.7 9.2h0m-2.3-11.5h0m2.9 2.7h0m5.7 3.7h0" stroke="#2c2c9c" stroke-opacity="0.45" stroke-width="0.55" stroke-linecap="square" fill="none"/>
<path d="M291.7 74.0 L292.2 66.0 L293.7 58.0 L296.2 51.0 L299.2 47.0 L302.4 46.0 L304.2 49.0 L303.4 56.0 L302.4 64.0 L301.4 71.0 L299.4 76.0 L294.9 77.3Z" fill="#2c2c9c" fill-opacity="0.7" filter="url(#b1_2)"/>
<path d="M300.9 57.0 L307.9 51.0 L314.9 45.8 L320.9 42.2 L325.7 41.8 L326.9 45.0 L322.4 49.8 L315.4 55.2 L308.4 60.5 L303.4 63.5Z" fill="#2c2c9c" fill-opacity="0.527" filter="url(#b1_2)"/>
<path d="M293.2 72.0 L293.9 64.0 L295.4 57.0 L297.9 52.5 L300.6 51.5 L301.6 56.0 L300.9 64.0 L300.0 70.0 L298.2 74.5 L295.0 75.3Z" fill="#3a70cc" fill-opacity="0.7" filter="url(#b1_0)"/>
<path d="M293.2 72.0 L293.9 64.0 L295.4 57.0 L297.9 52.5 L300.6 51.5 L301.6 56.0 L300.9 64.0 L300.0 70.0 L298.2 74.5 L295.0 75.3Z" fill="#3aa6e2" fill-opacity="0.75" filter="url(#b1_5)"/>
<ellipse cx="315.40" cy="49.20" rx="6.50" ry="1.90" transform="rotate(-33 315.40 49.20)" fill="#3c86d4" fill-opacity="0.595" filter="url(#b1_0)"/>
<ellipse cx="297.00" cy="67.80" rx="2.70" ry="5.20" transform="rotate(8 297.00 67.80)" fill="#80c84e" fill-opacity="0.95" filter="url(#b1_0)"/>
<ellipse cx="296.30" cy="70.30" rx="1.90" ry="2.60" transform="rotate(5 296.30 70.30)" fill="#efe040" fill-opacity="1" filter="url(#b0_6)"/>
<ellipse cx="296.00" cy="71.20" rx="1.20" ry="1.20" transform="rotate(0 296.00 71.20)" fill="#e2302a" fill-opacity="1" filter="url(#b0_2)"/>
</g>
<rect x="302.60" y="37.20" width="25.10" height="24.10" fill="none" stroke="#8c8c8c" stroke-width="0.7"/>
<text x="330.30" y="67.90" font-size="4.3" fill="#3a3a3a" text-anchor="middle">7.64</text>
<rect x="290.45" y="32.05" width="49.90" height="49.10" fill="none" stroke="#1e1e1e" stroke-width="1.3"/>
<clipPath id="ce1"><rect x="18.30" y="147.00" width="52.00" height="51.20"/></clipPath>
<g clip-path="url(#ce1)">
<path d="M49.7 173.1h0m1.1 .7h0m-6.2-1.9h0m-1.9 7.4h0m11.7-19h0m-.8 14.2h0m-2.4-13.7h0m-6.5 4.5h0m4.8 14.8h0m1.5-5h0m-.4 .6h0m-.8-9.5h0m-2.7-1.2h0m8.7 4.2h0m1.5-.4h0m-14.9 6h0m13.6-8.8h0m.4-2.3h0m-4.6 6.7h0m-7.1 7h0m-1.2-2.2h0m-.3-5.5h0m1.9-3.7h0m1.8 15.2h0m-1.8-12.2h0m0-3.3h0m10.8 1.7h0m-13.2 6.3h0m3 .5h0m2.5-3.7h0m-2.4-6.5h0m-1 18.8h0m4.3-20.9h0m-3.5 14.8h0m.4 2.9h0m6.5-13.1h0m-8.1 10.6h0m8.5-10.9h0m5.8-1.9h0m-14.3 4.1h0m7.6-5.9h0m-4 18.8h0m6.3-7.6h0m-12.9 1.3h0m8.9 2.3h0m-7.8-4.5h0m5.3 3.4h0m1.3 2.6h0m4-10.1h0m-.9 5.6h0m-9.7 .8h0m12.6-6.2h0m.1 4.7h0m-5.7 6.4h0m-6.9-2.2h0m-1-3.6h0m8.7-9.2h0m4.2 6.6h0m-7.7 4.4h0m2.7 5.3h0m-2.2-5.6h0m-2.5-5.8h0m13.2-1.1h0m-5.7-1.7h0m-8.7 4.5h0m2.7-8.1h0m3.4 2.6h0m-4.6 3.4h0m8 2h0m-6 8.5h0m10.7-19.7h0m-3.1 13.1h0m-7.7 5.5h0m10-13.7h0m-3.9 5.1h0m.1 5.2h0m1-11.3h0m-4-.5h0m4.6 0h0m-8.5 4.1h0m8.2 4.4h0m-1.6 5.8h0m-4.3 .9h0m9.9-17.4h0m-15 9h0m4.8 2.8h0m5.3-8.9h0m-.2 12.6h0m-8.3 4.5h0m6.3-2.7h0m-4.2 3h0m10.3-13.9h0m-14.9 2.3h0m9 8.1h0m5-17.4h0m-.2 2.7h0m-8.9 15.2h0m3.5-1.6h0m8.3-15.8h0m-14 10.9h0m1.3 5h0m6.7-5.1h0m-6.3-3.5h0m-2 11.6h0m7.1-16h0m-.8 7.4h0m1.4-11.7h0m-4 19.1h0m3.2-7.7h0m2.4-10.5h0m-2.9 8.6h0m-5.2 1.5h0m-2.7-1h0m6.7-2.9h0m-5.5 7.5h0m14.2-12.1h0m-2.9-2.6h0m-11.3 5h0m9.6 2.4h0m-6.4 7.3h0m-4.9 2.8h0m.4-5.5h0m2.4-7.7h0m5.4 5.9h0m-2.9-.6h0m2.9-6.3h0m-6.3 11.7h0m8.4-2.5h0m4.2-7.4h0m.9 2.1h0m-11.3 15h0m11-19.5h0m-12.5 14.6h0m11.5-7.5h0m-.9-7.3h0m-7.4 13.8h0m10.9-14h0m-8.9 15.8h0m-.1-1.8h0m.9-4.2h0m.4-9.1h0m6.9-1.2h0m-9 16.5h0m-2.6-7.4h0m3.6-.9h0m-6.4 .6h0m10.8-1.2h0m-2.2 0h0m-.5 2.5h0m-6.6 10h0m10.7-12.5h0m-.9 0h0m-.9-8.3h0m-7.3 9.9h0m5.7 3.8h0m-7.8 7.9h0m8.4-15h0m-.2 5.8h0m-2.4-4.5h0m1.6 8.6h0m-6.9-8.3h0m2.3-7.5h0m-2.5 20h0m5.8-9.9h0m5-10.6h0m-4.1 16.9h0m-8.4-7.1h0m.2 .5h0m8.5-10.8h0m-1.6 13.4h0m-3.1-7.7h0m5.5 6.7h0m-7.1 3.9h0m-2.5 .9h0m4.5 3.6h0m6.9-21h0m-6.1 10.6h0m5.6-.2h0m-2.3-8.8h0m.4 8.5h0m-1.8-8.2h0m-1.7 13.4h0m.3-10h0m2.4 3.9h0m3.8 2.7h0m-.8-7.2h0m-12 16.1h0m4.7-15.3h0m6.3 7.3h0m-1.8 1.6h0m3.1-10.9h0m-9.7 19.5h0m.4-13.7h0m6.8-8h0m-1.5-.7h0m-8.8 14.9h0m8.9-1.1h0m-3.4-3.8h0m-3.1-3.3h0m10.7-3.2h0m-6.6 1.1h0m7.4 2.7h0m-9.3 4.5h0m2-4.5h0m-6.4 12.5h0m9-9.6h0m2.3-4.6h0m1.8-5.5h0m-10.9 14.5h0m9.9 .7h0m-7.1 .8h0m.2-15h0m6.6 11.2h0m1.8-6.6h0m-9.4 2.4h0m-1.3-1h0m2.3 .1h0m.5 .6h0m-3.8 4.3h0m11.6-.5h0m-12 5.3h0m13.6-11.7h0m-16.6 5.7h0m10.1 1.3h0m5-12.4h0m-4.9 17.9h0m-9-3.8h0m1.2 2.7h0m9.7-12.3h0m-8.2 12.8h0m5.8 0h0m-2.5-10.6h0m1.9 5h0m.6 4.2h0m5.4-7.1h0m-7.4-6.8h0m-.9 .5h0m-3.3 6.4h0m1.7 13.5h0m-3.4-8h0m12.8-11.6h0m-13.8 6.9h0m3.3 6.4h0m7-12.2h0m-7.9 1.4h0m-.3 11.8h0m2.7-5.2h0m9.8-1.7h0m-10.8 10.1h0m12.6-13.5h0m-8.3-2.9h0m6.2 4h0m-5.3 3.2h0m2.5-6.8h0m-5.5 13.8h0m6.6-4.7h0m-7.6-8.6h0m-1.1 6.8h0m-2.2 5.8h0m10.9-16.6h0m-4.5 9.2h0m7.2-4.1h0m-1.3 2.8h0m2.5-8.1h0m-1.8 2.9h0m-5.4 7.9h0m-7.5 7.6h0m3-12.9h0m3 10h0m-2.1-.7h0m-4.9-7.3h0m11.7-3.8h0m-2.8 5.4h0m4.5-6.2h0m-3.5 2.1h0m-4.6 6.1h0m-1.5-5h0m1.8 8.2h0m-2.7-11.6h0m9.2 3.2h0m-.1 .1h0m2-5.9h0m-2.9 15.2h0m-9.6-7.6h0m6.4 6.1h0m-2.5-7.8h0m.3 9.1h0m5-2.3h0m-6.1 1.1h0m-4.5-6.8h0m7.7 10.2h0m-6.7-.6h0m3.7-6.5h0m-4.1 5.2h0m1.1 5.7h0m8.3-18.4h0m-1 12.3h0m-4.7 5.7h0m.6-11.5h0m-4.4 10.9h0m7.9-8.5h0m.3-7.3h0m-8.4 13.9h0m3.2 1.8h0m-1-8h0m11.4-9.6h0m-5.4-2.7h0m2.1 5.7h0m.3 10.6h0m-5.6-3.6h0m8.1-14.2h0m-11.6 11.2h0m-1.1-2.1h0m8.2-5.2h0m-1 2.2h0m1 1.7h0m1.4-7.3h0m.6 2.7h0m-3.9 6.6h0m2.9 6.8h0m-4.1-6.3h0m2.3 2.3h0m-1.9 9.3h0m5.8-7.5h0m.4-7.3h0m-3-5.8h0m-9.1 9.3h0m7.3-1.2h0m-8.7 7.4h0m9.2-11.3h0" stroke="#2c2c9c" stroke-opacity="0.5" stroke-width="0.6" stroke-linecap="square" fill="none"/>
<path d="M51.7 174h0m-.4-3.2h0m2.5-14.7h0m-13 14.4h0m6 9.1h0m9.4-7h0m-16.3 4.6h0m18.7-11.5h0m-2.6 2.3h0m-5.9 1.8h0m2.7 2.1h0m-2.4-.3h0m1.4-11.2h0m-2.8 14.5h0m-.5-4h0m10.6-9.8h0m-7.2 13.6h0m3.9-19.3h0m-7.9 18.1h0m6.6 4.9h0m-3.8-11.9h0m-1.4-.8h0m-1.2 7.4h0m3.6-19.9h0m4.1 18.1h0m3-.1h0m-6.7-3h0m-5.3 .3h0m5.5-9.1h0m-4.4 9.9h0m-7.8-1.1h0m8.9 3.9h0m4.2-.7h0m-5.8-2.2h0m5.8 1h0m-11.3 .3h0m7.6 7h0m1.4-14.4h0m2.2 8.4h0m-.3-9.4h0m.8 12.5h0m10.1-12.2h0m-16.5 14.1h0m1.5-5.2h0m-2.7 .7h0m9.6 2.5h0m-1.7-6.8h0m-6.2 .3h0m5.4 6.1h0m6.2-3.2h0m-8.4-2.2h0m-5.6 9.9h0m3.1 3.3h0m-.7-8.9h0m-4.3 2.2h0m6.7 2h0m-2.9-11.3h0m-4.5 13.1h0m2-9.4h0m6.9-2.8h0m-3.1 1.2h0m-2.1 3.6h0m-.3 7.5h0m0-15.2h0m7.9 8.5h0m1-.3h0m-6-.8h0m-6.7 2.6h0m-1.9 2.5h0m12.1-6.3h0m2.2-5.3h0m-7 10.9h0m7.4-.6h0m5.2-12h0m-16.2 11h0m4.4-6.8h0m5.6 1.9h0m-.3-2.6h0m-9.7 5.5h0m9.6 1.8h0m5.2-8.9h0m-5.4 4.9h0m3.6-.6h0m-8.8-7.1h0m6.4 4.2h0m-4.7 7.1h0m.9-5h0m-6.8 9.8h0m7.8-11.1h0m-6.3 11.4h0m7.6-11.6h0m-2.7 .1h0m-1.3 7.3h0m.1-2.3h0m15-15.7h0m-18.9 9h0m7.3 6h0m-6.1 1.3h0m-3.2 9.3h0m6.6-7.5h0m4.5-11.3h0m-.1 2.8h0m-6 4.3h0m2.5 6.9h0m-.8-13.8h0m.7 .8h0m-2.6 15.9h0m.8-1.1h0m4.6-7.7h0m1.9-.9h0m-2.4-.6h0m1.3 1.7h0m-2.6 2.9h0m3.6-11.7h0m-5.4 4h0m-.2 5.3h0m-3.9-2.6h0m4.6 1.2h0m2.9-.4h0m-5.5 11.7h0m-1-13h0m3.1 3.9h0m2.1-7.8h0m-6.5 .3h0m4.7 3.6h0m.9 5.3h0m8.7-10.1h0m-8 13.4h0m-3.3-6h0m.7 2.4h0m3.2-6.2h0m-3.7 2.9h0m2.8 3.7h0m-4-2.2h0m-.7-3h0m-2.4-1.6h0m8.7 1.9h0m.6 5.8h0m-5.1 0h0m1.4-8.8h0m1.8 6.9h0m-.8-2.9h0m4.7-6.5h0m-14.3 12.2h0m11.2-10.3h0m-12.9 4.4h0m16.1 2h0m-17.3-1.6h0m11.5-4.3h0m-2.2 4.3h0m.2 4.7h0m6.4-8.7h0m-3.3 8.6h0m.2-3.3h0m-2.8 4.1h0m8.2-6.3h0m-5.3 1.3h0m-.8 3.9h0m5.5-5.9h0m-11.4-.2h0m4.3 1h0m.1 5.2h0m5.5-8.5h0m.6-.7h0m-10.7 7.3h0m6.3 .2h0m2.9-7.3h0m-2.7-2.7h0m3.2 10.9h0m.6-3.7h0m-17 4.3h0m12.1 1.7h0m4-15.6h0m-10.7 11.2h0m5.2 3.4h0m6.2 .5h0m-4.2-11h0m-.1 3.5h0m5.3 0h0m-4.2 5.3h0m.3-6.7h0m1.3 3.4h0m-6.3-.7h0m7.9-5.7h0m-5.4 9.8h0m-4.5 3.1h0m-1-1.7h0m-2.5 1.2h0m11.4-11.1h0m-1.7 14.4h0m1.3-3.3h0m-8.7-7.6h0m11.8-8.5h0m1.1 8.9h0m-11 7h0m4.3-2.2h0m-3.7-7.1h0m6.5 4.6h0m-1.9 1.1h0m-2.8-.4h0" stroke="#4848b8" stroke-opacity="0.45" stroke-width="0.55" stroke-linecap="square" fill="none"/>
<path d="M31.1 179.5h0m.3-5.6h0m1 9.2h0m1.9-7.9h0m1.7 5.5h0m10.7 1.5h0m-5.8-8.9h0m2.9 4.4h0m2.7 3.9h0m-14.9-9.3h0m9.7 12.4h0m2.1-11.5h0m-1.1-.5h0m6.3 13.1h0m-18.6-6.1h0m5 .4h0m.9-15.5h0m4.5 10h0m-3.6-3.8h0m9 11.7h0m-10.8-9.9h0m7 8.2h0m1.6-4.8h0m-4.3-9.4h0m-3.5-2.2h0m5.1 2.8h0m1.2 2.8h0m-8.3 4.6h0m2.9-4.9h0m2.5 16.2h0m-6-2.8h0m6-10h0m3.6 4.6h0m-8 7h0m12.4 1.2h0m-8.9-3.6h0m-1.8-1.7h0m-1-5.3h0m4.6 6.5h0m5.5-1.6h0m-8.2 1.5h0m9-.8h0m-5.3-11.9h0m-3.9 3.1h0m5.6 9.7h0m-6.1-3.8h0m-.3-7.9h0m-5.4 1.3h0m13.6 4.6h0m-8.2-2.5h0m1.1-2.4h0m2.8 13.9h0m-7-1.6h0m2.4-2.8h0m-4.4 5.1h0m6.7-.5h0m-4.4-12.2h0m1.1 5.9h0m-1.8-7h0m9.4 .4h0m.2-3.6h0m-.6 14.8h0m-2.3-7h0m-8.2 5.9h0m12.1-8.4h0m-.5-.8h0m-5.9-4.1h0m4.5 7.5h0m.6-2.8h0m-.7 3.3h0m-2.7 8.7h0m5.7 0h0m-7.1-2.7h0m-5.7 2.7h0m7.6-16.6h0m-5 12.6h0m4.2-6h0m-3.6 2.4h0m-4.4-2h0m3.6 5.4h0m6.4 2.3h0m-3.8-17.7h0m10.5 16.1h0m-10 .4h0m4.8 1.1h0m-11.5 1.9h0m2.8-7.9h0m-.2 .9h0m3-7.8h0m6.1-.8h0m-.5 9.2h0m1.9-5h0m-7.1-6h0m-1 4.7h0m-3.4 4.9h0m5.8 4.1h0m-.3-8h0m2 10.7h0m-3.3-5.2h0m-2.4-2.8h0m1.1 6.5h0m0-.4h0m8.2-8.8h0m1.4 3.2h0m-6.2-11.8h0m-.6 4.8h0m.5 14.8h0m-3.1-5.7h0m2.4-12.4h0m.2 4.6h0m8.4 11.2h0m-4.8-6.7h0m-10.3 7.7h0m-.2-11.7h0m6 7.9h0m6.2-8.3h0m4.8 13.3h0m-9-12.9h0m-.1-1h0m4.3 6.3h0m6.3 8.2h0m-5.7 .4h0m-6.3-7.5h0m-3.8 7.4h0m-.2-13.7h0m-1.4 .6h0m.5 5.6h0m9.6 2h0m-7.8 1.5h0m10-.7h0m-12.8-6.8h0m8.8 1.4h0m-9 5.7h0m4-6.2h0m-3.7 1.3h0m8.2-6h0m-2.1-5.3h0m-4.1 8.7h0m7.1 .2h0m-3.2 3.4h0m9.6 7.7h0m-14.9-3.2h0m12.2-2.3h0m-12.1-4h0m3 9.6h0m7.2-2.7h0m-11.2 1.6h0m4.6-9.4h0m6.8 8.7h0m-3.2 .4h0m-2.2-13.3h0m-.6 2.8h0m2.3-1.5h0m-1 2h0m-8 8.5h0m10.5-9.6h0m-3.7-1.9h0m2.4-1.8h0m2.3 16h0m-4.8-7.9h0m0-6.6h0m5.1 6.4h0m-6.2-2.1h0m4.2 5.7h0m-5.5-10.7h0m.7 9.1h0m-4.2 6.7h0m4.9-3.7h0m-5.5-1.2h0m10.4 3.6h0m2.7 1.2h0m-4.9-12h0m-6.9-2.6h0m-.1 11.3h0m11.6-6.2h0m-7.5 8.9h0m5.3-.7h0m-7.4-11.2h0m6.9 9.4h0m-8.7 .7h0m6.5-10.9h0m5.1 12.1h0m-3.8-5.2h0m-2.3 1.9h0m-5.9-.8h0m1.3-3.4h0m.7-5.3h0m-.8 .1h0m9 3.7h0m-4.2 1.2h0m4.1-2h0m-6.8 5.5h0m6.6-10.4h0m-10.8 12.4h0m6.6-2.3h0m1.2-2.2h0m2.7 7.9h0m-1.6-16.4h0m-3.8 13.5h0m5.5-6.5h0m-4.9-8.8h0m-2.8 8.5h0m8.6-9.1h0m3.3 10.1h0m2.8 7.5h0m-4.4-12.3h0m-8.4 10.9h0m5.2-13.3h0m-5.1 0h0m-3.4 5.1h0m2.9-4.4h0m.1 4.9h0m12.3 7.6h0m-5.3-6.8h0m2.6-.2h0m-1.5 8.4h0m-12.8 .4h0m6.5-3.3h0m-2.7-7.3h0m2.9 6h0m4.1-8.3h0m-7 13.2h0m-2.6-.2h0m9.6-18.1h0m-1-.9h0m.2 2.4h0m0 3.7h0m-.6-3.5h0m4.3 4.9h0m-4.6-7.5h0m0 10.6h0m-7.4-5.7h0m4.2 8.8h0m12.7 6.1h0m-1.7-.9h0m-5.6-5.5h0m.5-1.6h0m-2 7.6h0m7.4 0h0m-7.4-8.3h0" stroke="#4848b8" stroke-opacity="0.5" stroke-width="0.55" stroke-linecap="square" fill="none"/>
<path d="M37.6 180.6h0m.5 4.7h0m.6-15.9h0m-7-1.7h0m-1 6.7h0m3.7-7h0m2 3.3h0m-6.1 12h0m-.8-20.5h0m1 9.2h0m7.5-4.1h0m-7.7 9h0m.3-3.7h0m0 10h0m-1-18.1h0m1.6 2.7h0m6 9.7h0m.9-3.8h0m-10 6.3h0m2.3-15.3h0m2.4 21.6h0m-.6-17.7h0m7.6 17.7h0m-7.4-23.9h0m5.7 18.1h0m-6.4 .2h0m.6-14.1h0m3 12.8h0m-1.6 2.1h0m-1.4-21.1h0m7.5 2.2h0m-9.9 20.6h0m10.5 1.5h0m-8.6 0h0m-2.8-6.1h0m-.1-1h0m10.5 1.3h0m.9-7.6h0m-8.1-9.3h0m-1.4 22.9h0m.5-21.2h0m-2.6 9.7h0m5.9 1.1h0m3.1-1.2h0m-7.6-12.6h0m1.2 19.2h0m8.6-7.2h0m-10.7-4.8h0m5.8-1.1h0m3.1 19h0m-4.7-10.3h0m5.4-3.9h0m-9.1 13.4h0m8-15.2h0m-8.3 9.4h0m.7 1.8h0m3.9-4.1h0m-.5-13.2h0m2.2 5.2h0m-2.1 7.2h0m-2.2-7.5h0m8 6.3h0m-6.6-1.2h0m.6-5.8h0m6.4-2.8h0m.3 17.4h0m-.8-19.3h0m-5.2 23h0m-3.1-22.8h0m6.1 1.8h0m-1.9-2.2h0m5.1 3.6h0m-11.9 11.2h0m3.5-3.5h0m2.1 10.1h0m.2-15.2h0m-3.4 5.5h0m5-3.2h0m-7.5 1h0m5.4 4.1h0" stroke="#8080d4" stroke-opacity="0.55" stroke-width="0.5" stroke-linecap="square" fill="none"/>
<path d="M48.4 187.3h0m-9.5 .8h0m4.9-.9h0m4.9-1h0m-7.1 3.4h0m-8-1.4h0m-9.8-.1h0m9.1 .2h0m5.3 1.2h0m-3.5-1.3h0m9.2 0h0m5.3-2h0m10.5 .4h0m-23.4 .2h0m2.2-.2h0m5.1 .6h0m1.1-.2h0m-1.9 2.6h0m8.7-2.2h0m-17.3 2h0m-5.8-2h0m24-.6h0m.5 .9h0m6.7 .6h0m-12.9-1.2h0m.2 1.6h0m-3.8-3.3h0m-4.1 2.3h0m2.6-.2h0m9.6-1.2h0m-5.7-.3h0m-20.9 1.9h0m11.4-.5h0m.4 1.2h0m10.3-1h0m-3.1-.4h0m-9.5-.1h0m4.6 0h0m.8 1.4h0m7 .1h0m-12-2.2h0m-1.3 3.5h0m14.4-2.7h0m5-.3h0m2.8-.1h0m-16.6 1.7h0m-6-.4h0m24.7-.8h0m-24.3 .8h0m8.6-.9h0m3.6 1.4h0m-3-.1h0m2-.7h0m-8.4 1.1h0m16.8-2h0m-17.8 1.7h0m7.9 .1h0m3-1.2h0m-15 1.4h0m11.8-2.2h0" stroke="#2c2c9c" stroke-opacity="0.45" stroke-width="0.5" stroke-linecap="square" fill="none"/>
<path d="M42.0 181.0 L41.0 173.0 L43.5 166.0 L48.5 161.5 L54.5 159.3 L59.0 159.8 L60.3 163.0 L58.5 170.0 L55.5 176.0 L50.5 181.0 L45.5 184.0Z" fill="#2c2c9c" fill-opacity="0.25" filter="url(#b1_8)"/>
<path d="M28 187.6 L40 186.2 L47 186.8 L57 189.6 L56 190.6 L46 188.8 L29 189.4 Z" fill="#2c2c9c" fill-opacity="0.55" filter="url(#b0_5)"/>
<path d="M28.5 187.9 L40 186.7 L46 187.3 L56 190 L46 188.5 L30 189 Z" fill="#3aa6e2" fill-opacity="0.95" filter="url(#b0_3)"/>
<ellipse cx="33.00" cy="187.70" rx="3.00" ry="0.85" transform="rotate(-6 33.00 187.70)" fill="#80c84e" fill-opacity="1" filter="url(#b0_4)"/>
<ellipse cx="32.30" cy="187.80" rx="1.40" ry="0.60" transform="rotate(-6 32.30 187.80)" fill="#efe040" fill-opacity="1" filter="url(#b0_2)"/>
<ellipse cx="44.00" cy="187.20" rx="2.50" ry="0.60" transform="rotate(0 44.00 187.20)" fill="#80c84e" fill-opacity="0.8" filter="url(#b0_3)"/>
<ellipse cx="53.50" cy="189.60" rx="2.40" ry="0.65" transform="rotate(15 53.50 189.60)" fill="#f08a30" fill-opacity="0.95" filter="url(#b0_3)"/>
<ellipse cx="54.80" cy="189.90" rx="0.90" ry="0.40" transform="rotate(15 54.80 189.90)" fill="#e2302a" fill-opacity="0.9" filter="url(#b0_1)"/>
<ellipse cx="53.50" cy="167.20" rx="6.20" ry="3.50" transform="rotate(-52 53.50 167.20)" fill="#3aa6e2" fill-opacity="0.8" filter="url(#b1_1)"/>
<ellipse cx="55.80" cy="165.30" rx="4.00" ry="2.30" transform="rotate(-52 55.80 165.30)" fill="#80c84e" fill-opacity="0.92" filter="url(#b0_8)"/>
<ellipse cx="56.80" cy="164.60" rx="2.20" ry="1.30" transform="rotate(-52 56.80 164.60)" fill="#efe040" fill-opacity="1" filter="url(#b0_5)"/>
</g>
<rect x="40.60" y="157.30" width="22.90" height="21.30" fill="none" stroke="#8c8c8c" stroke-width="0.7"/>
<text x="53.40" y="155.70" font-size="4.3" fill="#3a3a3a" text-anchor="middle">11.6</text>
<rect x="17.95" y="146.65" width="52.70" height="51.90" fill="none" stroke="#1e1e1e" stroke-width="1.3"/>
<clipPath id="ce2"><rect x="77.20" y="147.00" width="51.60" height="51.20"/></clipPath>
<g clip-path="url(#ce2)">
<path d="M103.1 169.2h0m2.3-3.6h0m2.5 2.7h0m-2.4 8.7h0m-.5-15.3h0m-1.7 3.7h0m4 6.9h0m1 5h0m1.1-6h0m-.7 .1h0m-3.8 .9h0m1.3-5.1h0m3.9 4.9h0m-5-4.2h0m5.7-.9h0m-3.2 4.4h0m-.5-.2h0m-2-5.3h0m.7 .6h0m1.9 9.6h0m-3.4-5.1h0m-.2-6.2h0m1.5 4h0m-.4-13.7h0m3.7 11.8h0m-4.1 4.8h0m.1-10.7h0m2.2 9.4h0m-2.7 2.1h0m2.5-10h0m2.8 7.1h0m-5.9 1h0m2.6 2.6h0m-3 .4h0m4.6-1.8h0m-.7 3.1h0m.3-6h0m-3.2 5h0m3.7-4.1h0m-1.7 2.1h0m-5.4-2h0m0-.4h0m7.2 8.4h0m-3.1-7.5h0m.9-13.4h0m1.6 11.2h0m-1.4-4.7h0m-.2 5.2h0m2.7 1h0m4.5-3.5h0m-7.6 1.8h0m-1.1 7.9h0m2.9-14.1h0m-1.1 12.3h0m-3.1-5.1h0m2.4 11.1h0m1.3-13.9h0m-1.9 11.6h0m.2 2h0m-2.3-12.5h0m2.7-2.6h0m.1 7h0m-1-10.7h0m4.1 14.7h0m-4.1-5.9h0m-3.8 3.7h0m2.5-8.1h0m7.1-3.6h0m-4.4 1h0m-3.8-.5h0m4.3-.7h0m-1.7 10.3h0m.9-10.3h0m3.3 7.2h0m-.2-5.9h0m.6-1.5h0m-6.9 4.7h0m2.7 3.5h0m-.3 1.8h0m3.8-6.5h0m-5.5 1.3h0m4.5 6.2h0m-2.4-9.2h0m.7 9.9h0m-1.5 1.7h0m1.9-5.1h0m-1.7 5.4h0m1.4-14.4h0m1.5 5.4h0m.6 3h0m-3.5 0h0m.3-5.1h0m1 8.4h0m.1-4.6h0m-1.2 3.3h0m1.6 2h0m.2 5.9h0m-3.9-11.1h0m4.3 4.9h0m-4.2-10.8h0m3 11.5h0m2.3-13h0m-1.9 13.7h0m-.3-11.2h0m-1.5-1.5h0m3.9 5.4h0m-3.3-3.1h0m.6-.2h0m-1.7 4.4h0m1.5 2.5h0" stroke="#4848b8" stroke-opacity="0.55" stroke-width="0.55" stroke-linecap="square" fill="none"/>
<path d="M112.9 174.2h0m-.4-4.7h0m.5-5.4h0m2 1.3h0m-5.6 9.1h0m4.5-9.1h0m.6 7.7h0m-.5-10.8h0m-1.1 .7h0m-1.6 2.4h0m-.4 5.3h0m.1 .6h0m1.9-6.2h0m0 6.6h0m2-4.8h0m1.2 4.2h0m-1-9.7h0m-4.7 12.9h0m1.7-3.7h0m2.9-9.7h0m-1.5 17.1h0m.7-9.3h0m-.5-.5h0m.4 6.6h0m-2-3.7h0m1.1 .9h0m1.1-9.2h0m.6 9.8h0m-4.5-5.8h0m-.8-.1h0m3.6-4.3h0m-2.2 1.4h0m.2 .5h0m-.8 6.8h0m1.7-7h0m2.5 1.3h0m-.2-3.4h0m1 3.9h0m-4.7 4.4h0m-.8-7.5h0m3.2 3h0m.3 3.1h0m-.3 0h0m.9-.7h0m.8 4.8h0m-6.2-13.6h0m7.1 6.6h0m-2.7 1.6h0m.1 11.7h0m-1.9-10.8h0m1.4-5.7h0m-1.8 4h0m1.7 3.3h0m-3.9-9.8h0m7.3 7h0m-1.7-1.2h0m-3.1 12.7h0m-1-15.2h0m3.8 4.7h0m-4.6 .6h0m4.7-8.4h0m-2.5 11.6h0m4.9-15.6h0m-5.2 11.8h0m-.5-4.7h0m.9 7.2h0m-1.2 1.7h0m3.8 0h0m1.5-6.9h0m-3.2 7.6h0m2.6-.3h0m-3.4-7.2h0m-1.8 .3h0m.9-.3h0m1 6.7h0m2.5-4.5h0m-4 0h0m3.1 4.6h0m-.4-.3h0m-1.7-.8h0m2.8-5h0m-3 8h0m-.5-2.8h0m1.4-5.2h0m.1-.4h0m.4 11.1h0m3-9.6h0m-2 5.2h0m-1.8 4.7h0m.9-6.1h0m-1.9-8.7h0m-.1 2.3h0m4 1.7h0m-.3-.5h0m-3.6 2.9h0m1.1-9.1h0m.9 14.2h0m-.5-11.9h0m-1.1-.1h0m1 1.3h0m.2 5.6h0m2.9-6.6h0m-6.7 13.9h0m4.9-9.9h0m.2-2.9h0m-1.7 8.1h0m0-2.8h0m1.5 0h0m-1.3 1.9h0m3.1 3.8h0" stroke="#4848b8" stroke-opacity="0.55" stroke-width="0.55" stroke-linecap="square" fill="none"/>
<path d="M100.1 171.7h0m17.7 1.1h0m-18.1-9.5h0m17.4 16.1h0m-11.4 .8h0m-9.4-7.3h0m20.7-11.9h0m-9.2 2.2h0m7 18.3h0m-6.2-11.3h0m-9.1-1h0m-9 14.6h0m14.2-10.1h0m.9-.5h0m9.5-4.8h0m1.7-9.7h0m-3.3 14.1h0m-18.5-3.4h0m18.6 9.5h0m-8.8 .9h0m4.9 2.5h0m-.9-14.1h0m10.4-6.3h0m-11.9-.1h0m11.6 11.1h0m-25.2 8.2h0m1.4-11.8h0m14-3.4h0m-2.9 11.7h0m5.8 3.5h0m0-15.1h0m.2 4.1h0m-4.3-2.1h0m-16.9 3.7h0m10.3-4.6h0m4.8 6h0m10.9-6.7h0m-1.1 .4h0m2.1-7.2h0m-19.8 24.5h0m11-6.3h0m9.5-18h0m-25.1 10.3h0m20.6 6.9h0m5.7 2.8h0m-17.9 3.7h0m7.1-12.1h0m-14.6-7.3h0m8.8 19h0m14.5-10.7h0m-8.2-1.3h0m3.2 6.7h0m-3.1-3.3h0m-16.3-3.3h0m8.9-8.9h0m-7.8 7.2h0m-.9 6h0m4.9 10.2h0m11.4-13.2h0m-8-3.5h0m-7.5 16h0m22.8-8.8h0m-8.4-14.2h0m-3.5 .7h0m-6.9 11.7h0m13-2.8h0m5.1-9.1h0m-25.7 21.8h0m16.7-6.9h0m-1.7-15.2h0m13.5 9.7h0m-2.2-9.8h0m-20.3 11.3h0m-.9 8.7h0m-2.7-16.5h0m16.2 4.3h0m-20.1 11.4h0m12.6 .8h0m9.6-20.2h0m-13.9 1.9h0m4.4 20h0m12.9-10.8h0m-17.4 7.2h0m19.8-21.5h0m-18.6 26.2h0m-2.2-2h0m-.1-4.7h0m-4.6-1.8h0m1.6-1.7h0m7.6 9.9h0m9.3-1.8h0m-14.1-3.3h0m-.9 4.6h0m14.4-1.9h0m7.6-13.2h0m-7 7.3h0m-.2-15.7h0m6.3 1.8h0m-14.1 14.9h0m9.5 3.8h0m-13.8-14.8h0m13.3-7h0m4.7 7.5h0m-15.4 0h0m10.2-3.9h0m-18.6 12.5h0m27.4-17.2h0m-16.8 9.8h0m-4.9-.4h0m-6.4 2.3h0m.8 14.1h0m21.7-5.3h0m5.5-1.5h0m-8.4-15.2h0m2.2 11h0m5.7 2.4h0m-7-7.5h0m-8.7-6.1h0m-9.6 10.1h0m8-8.7h0" stroke="#8080d4" stroke-opacity="0.55" stroke-width="0.5" stroke-linecap="square" fill="none"/>
<path d="M107.4 189.5h0m-2.5-.5h0m-4.1-.2h0m1-1.4h0m-3.6-.5h0m8.5 2.6h0m-6-.5h0m3.6-.4h0m9.1 .1h0m-7.9 .1h0m11.6-1.3h0m-12.5 .3h0m-6.4 .3h0m10.4-.1h0m-12.4 .6h0m.4-.6h0m17.6 .3h0m-16.6 1.6h0m6.2-.2h0m-11.9-1.1h0m14.6 .4h0m.5 .8h0m.3-.1h0m1.1-1.5h0m-3.8 1.7h0m-8-.6h0m11 .6h0m-16 .8h0m.8-1.9h0m28.5-1.1h0m-2 1.3h0m-2.3 1h0m-12.3-1.8h0m-3.2-.4h0m-7.5 1.3h0m-.5 0h0m9.6-.4h0m-6.7-.9h0m12.8 .3h0m-9.6 .6h0m8.8 1.7h0m8.9-.9h0m-9-.1h0m-6.1-.7h0m-10.6 .6h0m8.5-.2h0m19.2 .4h0m-7.6 0h0m-12-1.2h0m-6.3 .1h0m11.4 1h0m2.8-.9h0m-11.9 .4h0m10.1-1.7h0m-1.6 .5h0m-3.8 1h0m-3.7-.3h0m6.9-.4h0m4.8 1.3h0m-1-1.3h0m-5.2 .6h0m2.2 .8h0m-4.5-.6h0m9.4-.2h0m-.7 .2h0m-14.9 0h0m10.9-.3h0m12.3 0h0m-23.6 .2h0m8.7 .5h0" stroke="#2c2c9c" stroke-opacity="0.45" stroke-width="0.5" stroke-linecap="square" fill="none"/>
<path d="M98.4 184.4h0m-4.3-1.9h0m-4.4 0h0m1.9 .6h0m.4-.5h0m-2.9-.3h0m4.9-.8h0m0 6.1h0m-4.3-1.6h0m4.4-7.8h0m.1 7.3h0m-4.1 2.4h0m-2.5-1h0m5.1-5.1h0m-.4-1.1h0m1.3 4.5h0m1.5 1.9h0m-4.8-2h0m.2-7.4h0m3.9 8.9h0m-1.8 1.3h0m-.7-7.7h0m-1 3.2h0m1.8-.3h0m-6.2-1.8h0m5.2 5.2h0m-1.3-5.3h0m.4 4.8h0m4.4-4.1h0m-1.5 5h0m.3-5.3h0m-.5 1.3h0m-2.7 5.4h0m1.1-3.2h0m3.2 2.6h0m-2.4-5h0m-.8-.2h0m-.2 1.3h0m-3.4-1.5h0m.2 1.6h0m5.5 1.7h0m-1.5-3.7h0m-.6-.9h0m1.6-.4h0m-3.1 7.2h0m2.7-5.9h0m-1.6-.1h0m-1.5 1.3h0m-.1 1.3h0m4.8-2.3h0" stroke="#4848b8" stroke-opacity="0.5" stroke-width="0.5" stroke-linecap="square" fill="none"/>
<path d="M87 188.8 L91 186 L95 186.8 L100 188.4 L116 189.6 L116.5 190.6 L100 189.6 L88 190 Z" fill="#2c2c9c" fill-opacity="0.55" filter="url(#b0_5)"/>
<ellipse cx="90.50" cy="187.60" rx="2.60" ry="1.10" transform="rotate(-20 90.50 187.60)" fill="#3aa6e2" fill-opacity="0.9" filter="url(#b0_4)"/>
<ellipse cx="90.00" cy="188.00" rx="1.60" ry="0.75" transform="rotate(-20 90.00 188.00)" fill="#80c84e" fill-opacity="1" filter="url(#b0_3)"/>
<ellipse cx="89.30" cy="188.40" rx="0.80" ry="0.50" transform="rotate(0 89.30 188.40)" fill="#efe040" fill-opacity="1" filter="url(#b0_2)"/>
<ellipse cx="88.60" cy="188.70" rx="0.70" ry="0.40" transform="rotate(0 88.60 188.70)" fill="#e2302a" fill-opacity="0.9" filter="url(#b0_1)"/>
<ellipse cx="111.50" cy="189.30" rx="2.40" ry="0.60" transform="rotate(8 111.50 189.30)" fill="#f08a30" fill-opacity="0.85" filter="url(#b0_3)"/>
<ellipse cx="104.00" cy="188.90" rx="5.00" ry="0.60" transform="rotate(5 104.00 188.90)" fill="#3aa6e2" fill-opacity="0.6" filter="url(#b0_4)"/>
</g>
<rect x="99.30" y="157.30" width="22.70" height="21.30" fill="none" stroke="#8c8c8c" stroke-width="0.7"/>
<text x="112.00" y="155.70" font-size="4.3" fill="#3a3a3a" text-anchor="middle">11.8</text>
<rect x="76.85" y="146.65" width="52.30" height="51.90" fill="none" stroke="#1e1e1e" stroke-width="1.3"/>
<clipPath id="ci1"><rect x="18.60" y="253.50" width="48.80" height="48.20"/></clipPath>
<g clip-path="url(#ci1)">
<path d="M40 282.4h0m-5.5 1.9h0m-2.9-.4h0m17.6-15.4h0m-4.3 7.9h0m13.8-1.1h0m-25.4-1.9h0m5.7 16h0m-5.3-18.9h0m12.9 8.5h0m-7.9-8.8h0m-11.2 13.5h0m28.8-2.1h0m-22.3 3.7h0m17.5-15.4h0m-3 .7h0m-10.5 4.5h0m10.7 11.2h0m-11.7-16.8h0m10.9 9.4h0m1.7-11.5h0m-16.5 21.1h0m14-5.8h0m-17.3-7.5h0m27.9 6.4h0m2.8-11.6h0m-18.4 15.4h0m-.3-.3h0m4-17.1h0m-15.9 22.1h0m8.1-6.9h0m17.8-6.1h0m-12.2 8h0m-7.6-10.6h0m11.5 6.7h0m-16.3 2.3h0m21.6-12h0m-13.4 .7h0m-8.6 14.9h0m-2.6-6.4h0m5.4-10.8h0m21.1 2.7h0m-21.9 4h0m17.5 1.8h0m5.7-3.2h0m-11.5 8.1h0m-2.2 0h0m.2-14.9h0m-11.8 16.6h0m21.3 4h0m-1.8-9.2h0m-18 7h0m-1.6-11h0m.7-1.1h0m5.7 1.2h0m13.9 2.9h0m-16.1 6.1h0m16.9 1.2h0m5.5-14.5h0m-23.8 14.2h0m5.6-10.6h0m15.5-.4h0m-21.2-4.3h0m5.1 12.3h0m.7 1.9h0m8.8-7.5h0m-4.3 11.7h0m-7.6-19.3h0m.7 7.5h0m2.8 7.2h0m-2.7 4h0m9.6-13h0m6.8-4.4h0m-5.9 15.7h0m-2.2-13.4h0m-15.3 6.4h0m3.1-5.1h0m12.2 14.5h0m4.5-10.8h0m6.3-5.3h0m-16.1 9.4h0m5.7-11.6h0m-4.9 15.3h0m-5.8-3h0m-6.6 6.3h0m21.8-16h0m-9.5 5.4h0m1.1-10.1h0m-14.3 16.9h0m14.3-8.3h0m1.3 5.3h0m14.5 3.6h0m-6-12.5h0m4.6-7.1h0m-10 21.7h0m-8.4-13.3h0m3.2 14.2h0m9.2-2.7h0m-22.2-2.8h0m14.2-8.4h0m12.5 8.6h0m3.2 0h0m0-7.9h0m-12.1 9.1h0m-3.5-16.5h0m4.5 18.7h0m9.8-19h0m-16.8 2.6h0m-1.4 18.7h0m2.7-16.5h0m-5.1 3.2h0m13.7-2.5h0m-16.6-2.9h0m2.5 17.3h0m-3.1-3.9h0m-2.1 .8h0m5.4-.1h0m5.7-17.9h0m-11.6 18.4h0m15.4-8h0m-6.5 5.2h0m4.4-16h0m4.1 6.4h0m8.4 6h0m-2.5-10.9h0m-2.2 12.5h0m4.9 6.9h0m-10.3-7.4h0m7.4-8.4h0m-7.6 13.4h0m1.7-6.3h0m.6-10h0m12.3 8.3h0m-15 8.7h0m11.5-17.2h0m-14.2 1h0m.2-1.2h0m14.3 5.7h0m-16.7 13.8h0m14.8-14.3h0m-11.1 8.3h0m12.3-12.8h0m-5.1 14.7h0m-4-10h0m9.1 11.3h0m-27 2.8h0m19.4-15.5h0m6 14.2h0m-15.9-17h0m-1.7 16.3h0m7.4-16.8h0m-12.7 20.7h0m24.7-6.8h0m1.3-9.7h0m-22.3 13.9h0m12.2 1.3h0m-8.5-13h0m12.3 12h0m-18.9-15.8h0m26 7.8h0m-26.6 3.1h0m17.2-14.9h0m9.1 14.1h0m-14.6-8h0m-11.3 3.1h0m7-6h0m9.7 11h0m-6.2 1.4h0m-3.1-7.2h0m-1.4 9.4h0m21.1-8.5h0m-29.9 3.2h0m17.5 2.2h0m6.4-5.6h0m-7.8 7.8h0m13.6-12.4h0m.9-.1h0m-17.8-3.1h0m5.2 6h0m2.8 14.4h0m-19.1-7.6h0m16.2-9.8h0m-19.4 16.9h0m22.6-8h0m-20.3 7h0m10.2-11h0m5.4-.5h0m13.6 .5h0m-9.5 7.8h0m8.8-15.4h0m-20.3 19.9h0m9.1-14.7h0m9.4-6.5h0m-7.2 9.4h0m-12.6-1.2h0m-1.7 6.9h0m17.4-8.4h0m3.7-8.6h0m-10.4 2.8h0m-15.4 10.3h0m.6-4.6h0m23.9-2.2h0m-24.3 12.2h0m14.3 2.9h0m-10.8-10.5h0m15.9-6.2h0m-5.7 15.2h0m10.1-3.2h0m-7.2-11.4h0m10.7 8.2h0m-10.8 7.7h0m3-12.3h0m-3.6-7.9h0m-11.4 6.7h0m18.6 8.1h0m-6.6-6.8h0m-8.6-.3h0m19.1 11h0m-22.7-8.1h0m17-7.6h0m-13.3 9.9h0m-5.8 8.2h0m-5.7-.7h0m22.3-12.4h0m-13.1 12h0m14.5-16.7h0m-13.5-3h0m10.7 8.4h0m-10.7 7.1h0m-2.2-14.3h0m18.6 19h0m.4-8.4h0m-3.1 7.8h0m-12.4-3.3h0m-.7 .8h0m-2.7 4.6h0m6.1-9h0m6.7 5.9h0m-2.3-15.6h0m-4.2 8.9h0m-12.6 6.8h0m8 2.4h0m2.3 .8h0m12-14.3h0m-.7-10h0m-21.2 14.9h0m7.7-4.5h0m13.6 1.7h0m-3.2 6.8h0m7.7-16.2h0m-.3 16.3h0m-11.7-12h0m-10.9 17.8h0m12.9-18.7h0m12.5 4.6h0m2.6 2.3h0m-25.1-8.2h0m-8.1 16h0m10.6-2.2h0m17.7-8.3h0m-11.4 8.1h0m4.5-9.1h0m-15.2-2h0m15.2 12.4h0m-6.9-1h0m4.1 3h0m-.3-4.5h0m1.7-12h0m-18 15.7h0m21.1-7.9h0m7.6-8.4h0m-6.2 8.2h0m1.5-.6h0m-16.3 .1h0m2.3-6.4h0m10-5.3h0m-6.4 23.1h0m9.7-7h0m2.6 7.6h0m-19.2-.2h0m21.4-11.5h0m-26.1 1h0m3.8 4.7h0m17.6-3h0m-16.3 7.8h0m-.9-1.2h0m21.7-8.3h0m-18.3 1h0m15.4-13.4h0m-2.1 1.6h0m-1-2.5h0m-12.3 23.3h0m17.8-22.2h0m-16.7 21.9h0m-7.2-11.6h0m2.9-4.2h0m7.8-4h0m-11.5 21.4h0m20.9-9.7h0m-4.9 .5h0m-20.9 8.9h0m12.5-17.7h0m8.9 16.4h0m-9.8-10.3h0m0 8.9h0m22.1-14.2h0m-4.8-.5h0m4 3.2h0m-9.8 7.6h0m-3.5-16.7h0m2.9 19.2h0m-.9 2.5h0m11-6.7h0m-20.8-3.4h0m-6-7.2h0m27.4 5.6h0m-17.6 11.3h0m11.3-21.5h0m-13.2 12.5h0m-6 5.9h0m13.2 2.1h0m-10.8-8.4h0m-1.8-.1h0m3.2-11.5h0m16.4 12.2h0m2.6-.5h0m-1.4 2.2h0m-12.5 8.5h0m-4.6 .9h0m7.8-.7h0m-17-10.4h0m7.6 7.1h0m20.4 1h0m-17.9-20h0m20.1 3.4h0m-5.1 9.8h0m-3.2 2.9h0m-17-8.2h0m5.1 8.1h0m5.2-9h0m-14.3 2.4h0m16.3 6.2h0m1.4 2.5h0m10.5-16.5h0m-7.3 7.9h0m-4.7 6h0m-6.3-1.9h0m16-9.1h0m-3.2 16.9h0m-12.8-9.3h0m-7.7 3.9h0m22.9-6.8h0m-14.8-1.5h0m-3.1-1.3h0m8.3 2.3h0m1.1 .4h0m3.8 7.6h0m-11.5-.8h0m-4.7 3h0m11.4-14.9h0m-12.5 4h0m4.7 7h0m4-16h0m-4.7 10.7h0m9.9 13h0m-15.9-18.1h0m4.4 7.3h0m20.8-4.8h0m-19.3 3h0m21.4 .9h0m1.2-5h0m-14.8 8.2h0m5.8 5.2h0m-21.1-1.6h0m13.3-7.1h0m-15.7 7.8h0m32.7-8.1h0m-9.9 8.1h0m-9.9 1.8h0m-2.6-13.8h0m19.3 4.5h0m-16.1 7.8h0m.1-12.8h0m-2.9 7h0m12-2.3h0m1.3 11.3h0m-23.6-6.1h0m6.6-1.2h0m-1.7-13h0m22.6 13.1h0m-7.2-5.7h0m3.9-9h0m-22.3 13.6h0m7.1 4.2h0m-5-7.1h0m8.5-6.8h0m-2.7-1h0m-1 6.4h0m3 5.5h0m16.8-3.9h0m-23.4 .1h0m-1.6 8.4h0m26.6-6.6h0m-25.7 6.5h0m-3.5-3.6h0m3 1.6h0m1.1 5h0m24.5-7.1h0m-20.6-11.6h0m8.7 13.7h0m11.6-3h0m-15.9 7h0m-9.2 .2h0m27.9-9.7h0m-8.1 1.9h0m-1.7 1.6h0m-.2 0h0m-7.1-12.5h0m-5.2 3.5h0m12.2-4.9h0m.1 8.6h0m7.9-1.2h0m-6-7.1h0m-20.7 18h0m23.3-15.5h0m-13.8 13.3h0m-11.6-2.1h0m21 6.8h0m-19.8-3.4h0m1.5-13.7h0m22.5 5.5h0m-13.5 10h0m14.6-15h0m-5.7-2h0m-5.1 8.7h0m-8.5 4.7h0m22.8-10.4h0m-27.5 11.3h0m22.4-8.7h0m-27 11.8h0m32.1-4.7h0m-9-8h0m-13.2 8.3h0m16.7-16.5h0m-2.9 10.2h0m-21.6 .5h0m29.5 6.8h0m-7-3.3h0m-18.3-2.4h0m8.5 10h0m-4.5-7.6h0m15 4.3h0m-23-10h0m17.3-2h0m-10.8-4.2h0m2.6-1.9h0m-8 14.2h0m29.6-6.4h0m-22.8-.2h0m17.8 .7h0m-10.2-1.5h0m-2.4 10.8h0m7.4-16.2h0m-14.2 12.8h0m8.3-3h0m-2.3 9.3h0m-.5-18.2h0m-.4 10.5h0m11-.3h0m-3.9 .1h0m-15-10.3h0m10.6-3h0m-3.9 14.1h0m6.8-12.3h0m-.2 13.7h0m-12.1 3.8h0m-.9-4.6h0m19.3-9h0m-11.6 15.2h0m2.5-17.5h0m-5.2-3.4h0m21.2 7.9h0m-16.3-8.2h0m4.9 2.5h0m-14.5 15.7h0m9.7-5.5h0m-5.2-4.4h0m19.2 8.5h0m-14.9-4.2h0m8.5 4.9h0m1.8-11.7h0m-12.5 0h0m-.6 13.7h0m2.5-19.8h0m9.9 7.5h0m-.9 14.6h0m6.6-9h0m-30.4 8.8h0m28.9-5.7h0m-8.4-12.7h0m-12.6 3h0m19.2-1.8h0m-7.7 15.8h0m-16.7-11.4h0m5.2 4.6h0m2.8 9.6h0m0-2.5h0m2.5-9.3h0m11.8 5.9h0m-3-12.7h0m-7.1-4h0m-7.9 9.9h0m22.9 10.3h0m-21.4-3.8h0m20.6-6.8h0m-2.1 4.1h0m-9-3.9h0m1.5 1.3h0m-1-11.9h0m5.5 3.6h0m-20.8 18.2h0m24.6-2.5h0m-13.8-16.5h0m-1.7-.7h0m2.4 3.2h0m-.5 16.5h0m17.5-18.9h0m-11.8 18h0m13.1-8.2h0m-7.8-10.9h0m-15.5 15.7h0m19.8-15.2h0m-.6 18.1h0m-26.4-5.5h0m7.1 5h0m2.9 1.9h0m11.3-16.3h0m-7.5 7.8h0m-2.7 7h0m-9.7 1.2h0m27.4-14.7h0m-8.6 8.2h0m7.9-11.7h0m-1.9 14.7h0m-3.6-6.7h0m-7.1-12h0m-14.2 16.9h0m26.4 2.4h0m-26.1-11.6h0m14.8 4h0m9 5.2h0m2.1 4.9h0m-4.2-2h0m6.2-15h0m-18 18h0m-3.2-14.3h0m-8.3 8.2h0m26.7-12.4h0m-21.6-.7h0m20.5 1.3h0m1.6 18.9h0m-8-.3h0m7.8-11.2h0m-10-9.1h0m10.6 20.1h0m-27.4-5.9h0m30.6-11.5h0m-15 12h0m-15.1-9.4h0m17 11.9h0m9.6 2.2h0m-6.7-17h0m6.4 11.2h0m-9.2-10.3h0m-11.6 17.2h0m9.1-11.5h0m-10-6.1h0m-3.2 12.5h0m15.6-10.1h0m-10.4 5.6h0m1.2 6.9h0m21.9-11.3h0m-6.2 0h0m-2.3 5.9h0m8.4-11.9h0m-24.6 9.7h0m19.3 3.3h0m-20.4-3.5h0m20 9.1h0m-7.2-9.9h0m-11.2 1.4h0m2.8 5.5h0m18.7 .9h0m-26.2 2.3h0m-3.6-1h0m7.7-18.1h0m-3 6.7h0m16.4-7.9h0m-2.3 4.3h0m-13.3-3.3h0" stroke="#2c2c9c" stroke-opacity="0.5" stroke-width="0.6" stroke-linecap="square" fill="none"/>
<path d="M32.6 289.7h0m14.3-23.2h0m7.6 8.3h0m-6.4 3.2h0m-17.1 .6h0m7.5 9.9h0m1.4-17.5h0m-1.4-2.9h0m19.6 14.7h0m-19.9-16.2h0m-5.1 18.5h0m16.2-5.9h0m-1.7-5.5h0m-5.7-5.8h0m-4.3 12.5h0m19-10.3h0m-12.2 7.5h0m11.4 4.4h0m-15.8-15.7h0m17.8 4.2h0m-9.1 15.5h0m-3.8-8.9h0m2.5-8.8h0m11-1h0m-3.4-1.5h0m-.2 11.2h0m-.3 3.4h0m-1.6-9.1h0m-4.6-.6h0m-2.2-4.4h0m11 19.7h0m-6.7-17.8h0m1.5 3h0m1 17.9h0m-11.9-9.8h0m-9.8-6.4h0m13.1 .7h0m14.1-.9h0m-7.3 15.3h0m2.1-1.1h0m1.1-4.5h0m-21.7-2.7h0m26.4 .7h0m-21 4.1h0m-3.7-11.3h0m6.5-.2h0m-8.8 14.7h0m8.8-15h0m6.5 15.2h0m-2-12.3h0m14.1-2.4h0m-20.8-2h0m13.7 8h0m4.9-10.3h0m-26.4 13.2h0m2.5 6.9h0m7.9-5.1h0m8.8-16.5h0m-11.5 14.8h0m6.1 2.8h0m-12-10.5h0m14.3 8.3h0m1.3-15.3h0m-13.2 22.2h0m6.4-11.7h0m15.7 2.5h0m.3-11.4h0m-10.4 8.7h0m-3.2 5.8h0m12.9-15.3h0m-21.4 .2h0m-4 20.7h0m2.9-16.2h0m12.7-6.1h0m-14.2 2.2h0m-2 7.8h0m15.4 1.1h0m12.5-3.1h0m-6.1 .2h0m-14.9 4.6h0m7.2 7h0m-6.3-13.2h0m8.1 4.4h0m-6.5 8.6h0m-6.7-14.2h0m-.8 15h0m27-8.1h0m-27.7 6.1h0m27.3-4.2h0m-5.8 7.3h0m-12.4 .9h0m11.4-12.7h0m-1.9-5.9h0m6.9 14.7h0m-2.5-11.1h0m-26.6 11.4h0m7.1-17.6h0m16.4 1.3h0m.6 4.2h0m-19.4 15.9h0m7.7-.6h0m10.9-10.3h0m-12.8-9.3h0m13.3-1.5h0m2.7 7.6h0m-18.7 9.5h0m19.7-.6h0m-12.5-3.2h0m9.3-13.4h0m-5.5 12.9h0m-1.5-8h0m-8.3 1.9h0m18.7 .4h0m-17 2.8h0m1.1-1.5h0m9 4.7h0m-1.7-9.3h0m-7.1 8.6h0m6.6 4.3h0m-8.9-10.2h0m1.3 11.8h0m11.6 3.1h0m.4-4.5h0m-6.6-16.7h0m11.9 11.9h0m-6.2-4.5h0m-2.7 14.3h0m-12-16.2h0m13.7 11.8h0m-20.7 2.1h0m21.4-9.4h0m-12.6-11.5h0m-2.8 20.6h0m1.5-3.5h0m.3-3.9h0m9.5-14.6h0m.4 16.9h0m-2.7-.3h0m17-8.8h0m-30.2 3.3h0m-2.3 11.5h0m25.9-.6h0m-20.5-11h0m24.2 9.1h0m-12.4-17.3h0m11.5-1.1h0m-18 5.6h0m-10.3 15.6h0m23.3-4.1h0m1.8-11.8h0m-5.9 9.5h0m-.2-14.3h0m.2 6.9h0m6.9 2.3h0m-25.8 13.8h0m22.3-5.5h0m-22.2-4.3h0m8.1 6.8h0m7.1-20.1h0m4 10.8h0m-1.7 0h0m-2.3 2.4h0m15.1-12.1h0m-22.2 3.5h0m13.4 4.4h0m-6.8 7.1h0m-1.9-14h0m5.5 0h0m-.3 14.4h0m-1.7-7.5h0m2.3-10.2h0m-16 4.9h0m8.8-.7h0m3.3 13.9h0m-6.2-12.8h0m.4 16.7h0m10.2-3.8h0m-10.4-9.5h0m8.2-6.1h0m-15.1 7h0m-.4-3h0m4.5 15.8h0m-3.9-11.3h0m25.5-5.3h0m-12.6 14.7h0m-5.1 1.9h0m3.2-6.1h0m-11.9 2.1h0m12.6-6.5h0m2 6.9h0m-11.3-6.1h0m6.9 6.1h0m11.6-3.7h0m-16.3-7.9h0m6 10.6h0m-6.6-15.1h0m9.3 18.4h0m-11.2-11.8h0m22.3 4h0m-.8 1.5h0m-5.5 .8h0m-.8 7.3h0m-2.5-8.7h0m.7 3h0m-4-2.6h0m-5.5-12.8h0m15.9 2.7h0m-10.6 19.3h0m10.4-4.1h0m-9.4-.8h0m-6.5-10.9h0m19.9 3.3h0m-20.5 5.9h0m.3-3.4h0m17.1-12.1h0m2.8 20.4h0m-12.6-.3h0m4.2-21.7h0m-15.6 10.9h0m9.8 10h0m18.4-12.2h0m-14.5 .8h0m-8.8-8.7h0m9.8 4.7h0m-8.7 15.5h0m-.6-3.6h0m4.4-6h0m15.5-10.8h0m-10.4 6.6h0m-10.1 13.2h0m15.9-15.8h0m-.6 12.9h0m-21.6-6.2h0m2.9 12.4h0m14.2-3.6h0m-.2 0h0m-5.4-19.5h0m-10.1 12.6h0m21.3 1h0m-16-6.1h0m3.5 6h0m16.5-12.9h0m-7.1 7h0m2.6-7.7h0m-11 10h0m.6-2.1h0m8-8.6h0m4.7 7.1h0m-11.5 6.9h0m5.9 7.7h0m5.4-.1h0m-22.6-16.6h0m11 3.8h0m9.4 10.6h0m-11.3-.9h0m15.2 4.2h0m-2.6-7.9h0m-10.7 3.3h0m-3.9-15.8h0m-1.2 20.8h0m-2.2-21.5h0m7.3 8h0m-1 14.1h0m-6.8-18h0m0-.6h0m-6.9 6.7h0m28.4 11.2h0m-17.5-14.7h0m-10.9 15.1h0m18.2-15.3h0m-3.9 14.1h0m.5-21.8h0m-4.1 15.2h0m2.5-9.7h0m-2.9 13.6h0m19.3-4.3h0m-11.7 6.4h0m-7.4-16.3h0m3.1 12.1h0m8.8 2.9h0m5.9-3.6h0m-7.2-7.3h0m7.7 .8h0m.9-3.6h0m-18-6.4h0m10.9 6.9h0m1 6.1h0m-3.5 2.9h0m2.7-4.9h0m5.1-9.4h0m-14.1 16.1h0m-13.3-.4h0m7.2-1h0m17.7 .1h0m-16.4 .2h0m6.9-8.9h0m4.5 10.6h0m-3.1 .5h0m-10-2.6h0m-6.5-3.9h0" stroke="#4848b8" stroke-opacity="0.5" stroke-width="0.55" stroke-linecap="square" fill="none"/>
<path d="M30.8 288.4h0m5.6-3.2h0m-2.4-.4h0m21.6-.1h0m-3.6 3h0m4.3-3h0m-26.4 5h0m17-4.9h0m-15.5-1.1h0m24.8 4.1h0m-3.9-5.3h0m-25.3 7.1h0m19.9-1.2h0m-16.2-6.6h0m4.7 6.5h0m-7.9 .2h0m27.3-6.4h0m-10 7.5h0m12.5-3.1h0m-22.2-1.4h0m20.1 2.9h0m-17-5.9h0m12.1 6h0m-15.2-4.6h0m12.3 .3h0m-14.1-.1h0m19.7 1.9h0m-17.3 3.5h0m-5.5-4.9h0m24.8 3.9h0m-17.1-3h0m1.9-1.4h0m-.2 .1h0m-2.5 .9h0m8.1-1.7h0m-15.3 1h0m14.8-3.3h0m-3.3 3.9h0m-12.9-2.7h0m19.1 2h0m-13 5.9h0m-4.2-8.1h0m23.4 6h0m-20-2.6h0m22.9-.5h0m-.4-1.4h0m-13.2 3.4h0m-13.2-.5h0m8.1-.4h0m2.8-3.9h0m-.1-.9h0m12.5 1.2h0m-2.9 7.4h0m-17.1-2.6h0m22.2-.3h0m-5.5-2.5h0m-13.2 4.7h0m19.1-2.3h0m-6-.3h0m-12.1-2.9h0m-10 6.5h0m21-3.8h0m-.8-1.4h0m-4.3 3.7h0m9.3 .5h0m-13.4-5.2h0m10.6 1.1h0m-17.2-2.7h0m-2.8 3.3h0m5 1.4h0m21.4-2h0m-23.1 1h0m8.6 3.3h0m3.4 .6h0m-3.2-2.2h0m-13.9 2.4h0m9-9.3h0m10.1 1.5h0m-6.3 4.4h0m11.8 1.7h0m-22.1 1.5h0m25.2-1.1h0m-12.5-1.4h0m4.1-3.9h0m-8.7-.8h0m-6.7 3.2h0m10.4-2h0m7.2 .2h0m-14-1h0m7.2 5.6h0m5.1-2.5h0m-15.4 .4h0m24.7-.7h0m-11.1 2h0m-12.1 .4h0m10.4-6.3h0m-4.3 7.9h0m-.7-1.4h0m17.9-5.8h0m-20.9 3.7h0m16.9-.9h0m.1 .9h0m-.3 .4h0m-3.5-3.1h0m-16.1-.3h0m20 4.8h0m-4.4-2.8h0m4.4-1.6h0m-5.2 2.8h0m7-2.4h0m-8.8 3.9h0m-10.3 .3h0m14-.5h0m-19.7-1.5h0m8.2 3.5h0m-2.9-1.7h0m11 .7h0m-18.5-.6h0m26.8-2.6h0m-7.4-3.4h0m-8.2 6.1h0m12.1-3.3h0m-6.6-3.6h0m.4-.5h0m-16.9 6.4h0m19.2-4.2h0m-16.1 7h0m3.3-5.2h0m.7-1h0m21.2 4.5h0m-23.6-.7h0m12.3-.9h0m-6.6-.5h0m18.7-2.2h0m-22.6 .4h0m-6.4 3.3h0m8.5-1.3h0m11.7 .7h0m-.7-1.9h0m3.1-2.1h0m-14 4.6h0m16.7-3.3h0m-19.3-.4h0m16.7-1.7h0m.5 6.5h0m-1.7-1.3h0m.8-2.1h0m3.9 2.1h0m-.1-4.9h0m-5.7 7h0m.1-2.9h0m5.7-.6h0m-13.1-.3h0m11.3-4.1h0m-19.5 .7h0m18.3 .3h0m-.8 5.4h0m-10.9-.4h0m-1.4-5.1h0m11.3-.9h0m-2.2 6.2h0m-14.1 .7h0m1.1-.6h0m10-5.8h0m-.5 5h0m-4.5-1.2h0m7.6-1.1h0m-10.1-.4h0m1.3 5.1h0m-10.5-4.3h0m11.9 0h0m-10 3.6h0m7.2-6.8h0m19.5 2.1h0m-24.3-1.7h0m18.3 2.7h0m6.5 1.2h0m-22.9-.1h0m13.3-.7h0m-8.3-5.1h0m-.4 4.6h0m-8.3 4.3h0m17.1-5.6h0m-6.3-1.1h0m3.5 5.5h0m5.4-2.1h0m-13.8-5.1h0m3.2-.4h0m-4.1 2.3h0m-.7 2.7h0m-6.3 2.4h0m16.1-1.9h0m13.1-3.7h0m-29.2 4.1h0m9.4 3.4h0m7.7-5h0m-14.2-.6h0m9 4.9h0m-11.9-3.1h0m8.7-.8h0m10 2.5h0m-12-2.1h0m7.1 2.9h0m-13.6-5h0m20.5 3.1h0m3.9-2.5h0m3.3 3.3h0m-27.1-1.1h0m8.2-1h0m2.9 3h0m10.8-1.6h0m-16.1-3.3h0m13.5 1.4h0m4.1-2.1h0m-10.5 .6h0m-1.2 6.1h0m16.1-2.9h0m-6.9-2.8h0m-.9 .9h0m-15.9-1.6h0m16.7 2.7h0m-18.4 3.4h0m9-8.3h0m13 5.9h0m-4-3.9h0m-7.5 2.8h0m-.8 4h0m-.7-1.6h0m-11.5-1h0m18-3.2h0m-15.7 3.7h0m12.4-1.1h0m-1.4 3.1h0m-2.2-6.9h0m17.2 1.7h0m-21.9-3.6h0m5.4 3.8h0m-2.9 2.4h0m7.3-5.4h0m1.4 1.5h0m-11.9-1.4h0m5.6 7.9h0m12.9-2.5h0m1.9-4.5h0m-13.5 4.2h0m-1.5-.4h0m-8.7-1h0m10.1-1.6h0m-2 3.8h0m15.4-1h0m-4.8 .9h0m-.3 .1h0m-.3 .8h0m.1-6h0m6.6 5.4h0m-.7 1.2h0m.9-2.6h0m-2.9-1.4h0m-17.2-.4h0m.4 2h0m11-2.3h0m.2 2.3h0m7.3 1.1h0m-17.9 .6h0m10-3.6h0m-5.8 .6h0m3.3 1.8h0m7.3-3.7h0m-4.1-1.6h0m1.6 2.7h0m.5 5h0m4.1-2.5h0m-17.2-3.9h0m-9 5.1h0m15.5-1.9h0m-14.7-2.8h0m19.8 2.9h0m.5-.7h0m-15.5-1.3h0m2 4.2h0m-7.7-1.2h0m6 1.1h0m.6-2.8h0m-5.6 3.5h0m24-5.9h0m3.7 5.5h0m-13.7-6h0m-3.7 7h0m3.2-6h0m-2.2 5.4h0m-2.7-.2h0m14.9-5.3h0m4.3-1.7h0m-23.6 6.1h0m-.4-5.4h0m23.4 5.4h0m-11.1 .7h0m-11.4-1.2h0m-2-6.1h0m5.1 7.2h0" stroke="#2c2c9c" stroke-opacity="0.55" stroke-width="0.6" stroke-linecap="square" fill="none"/>
<path d="M54.9 264.4h0m-2 8.7h0m-.2-2.7h0m-1.8 4.8h0m4.7-6.7h0m-2.2 7.3h0m-2.1-1.8h0m-3.5-9.5h0m9 14.2h0m-5.5-7.9h0m3.3 4.9h0m-1.6-4.7h0m1.2-7.2h0m-1 5.9h0m-2-.9h0m.8-4.2h0m.8 12.9h0m-5.2-8.4h0m3.4-2.4h0m0 2.7h0m-3.2 .9h0m4.8-3.4h0m1.6 5h0m-.8-4.3h0m-2.5 3.1h0m1.7-1h0m-.2 8.7h0m-.3-8.6h0m1.4-5.5h0m-2.7 5.4h0m3.1 1.7h0m-5.3-.8h0m3.8 6h0m.8-7.1h0m5.2 8.5h0m-5.7-9.8h0m1.3 6.7h0m-2.4-8.4h0m3.8 2.1h0m-5.1-2.7h0m1.2 5.7h0m-.3 4.4h0m-1.6-1h0m3.1-9.1h0m-.1 2.4h0m.4-.5h0m-5.3 3.6h0m.4 .6h0m9.4-4.8h0m-4.8 .4h0m-2.1 4h0m.9-5.6h0m-.2 4h0m-1.8 1.7h0m2.5 .3h0m-3.2-4h0m1.9 7.2h0m4.9-3.9h0m-7.3-1.7h0m5.6-1.5h0m-4.6 5.6h0m.4-4.8h0m5-7.1h0m-5.5 14.9h0m3.5-6.5h0m-2.3 .4h0m5.4 .3h0m-4.3 2.2h0m-.7-6h0m1.6-1h0m-.5 2.8h0m-1.2-9.3h0m2.4 3.8h0m-2.4 9.5h0m.8-3.7h0m2-3.3h0m-2.1 2.1h0m-1.2 7.9h0m1.3-8.3h0m-2.3-.1h0m4.4 5.6h0m-4.8-3.7h0m-.4 4.5h0m6.1 1.3h0m-4.9-4.5h0m3.6-.5h0m-.1-1.1h0m-3.7 .9h0m4.3-5.4h0m-3.6 3.3h0m2.5-2.7h0m.8 6.8h0m1.4-6h0m-4.8 4.8h0m-.2 1h0m6.8 7.8h0m-5.8-5.3h0m2.4-5.3h0m-5.7 4.5h0m6.3 2.4h0" stroke="#2c2c9c" stroke-opacity="0.6" stroke-width="0.6" stroke-linecap="square" fill="none"/>
<path d="M54.1 264h0m2.3 11h0m1.3-1.1h0m-2.9 .4h0m2-1.3h0m2.3-4h0m-3 .2h0m1.1 3.7h0m.1 5.7h0m-3.1-5.3h0m2.4 3.2h0m.4-4.9h0m2.5 1.5h0m-4.9-.9h0m2.4 1.2h0m-.2 .6h0m.3 2h0m.7-4.4h0m0 .7h0m-2.7 .2h0m2.8-1.2h0m-.6 4.2h0m-.4-5.8h0m2.5-4.4h0m-3.8 5h0m1.2-2.4h0m-.1 3.5h0m-1.2 .5h0m3.1-.9h0m-2.5-.1h0m1.3 2.2h0m-1.1 .2h0m.8-5.2h0m-.5 3.4h0m1.1 4.9h0m-.2 .5h0m-.7-2.8h0m.2 .2h0m.3-1.4h0m.3 .5h0m-2.2-10.9h0m.1 14.8h0m.6-1.8h0m1.5-3.6h0m1.3-6.4h0m-.5 6.4h0m-3.5 4.1h0m3-3.1h0m-2.2 1.7h0m3.8 3.7h0m-4-9.8h0m4.3-1.9h0m-.3 10.6h0m-1.4-7.6h0m-1.9 2h0m.7 4.1h0m.6 .1h0m.4-2.2h0m-.8-1.1h0m-.5 7.3h0m2.7-5.4h0m-4 2.3h0m.6-3h0m1.2 3.5h0m-.7-13.8h0m-1.1 13.5h0m1.8-2.6h0m-.7 4.5h0m-.1-9.4h0m1.9 5.7h0m-1.4-6.9h0m-1.2 3.8h0m0 6.4h0m-1-3.6h0m1.7 .7h0m1.9-3.5h0m-.9-1.6h0m-.6 4.7h0m.3-2h0m1.4-5.1h0" stroke="#2c2c9c" stroke-opacity="0.6" stroke-width="0.6" stroke-linecap="square" fill="none"/>
<path d="M43 263.1h0m-14 2.2h0m21.5 3.9h0m-5.1-2.2h0m4.7-.7h0m-4.2 .1h0m-20.2 1.7h0m9.2-1.1h0m-1.6-1.9h0m17.3 1.8h0m-.7 1.6h0m-5.1-1.5h0m1.6 .6h0m-10.2-2.2h0m-16.8-1.4h0m17.1 5h0m19.2-6.4h0m-22.5 2.3h0m30 2.2h0m-7.1 .8h0m-14.6-.8h0m-7.2-.4h0m17.6 1.1h0m-22.9 .8h0m-1.8-1.2h0m15.8 0h0m-5.4-.9h0m-6-2.3h0m16.6 3h0m-12.6 .4h0m-1 .3h0m1.1-2.6h0m9.3 4.6h0m12.9-1.9h0m-16.8-2.6h0m1.9 .8h0m16 1.3h0m-25.6-.3h0m16.5 .2h0m2.2-1.4h0m-10 0h0m-6 .2h0m13 3.7h0m-11.6-2.5h0m17.2 .6h0m-15.9-1.9h0m14.2 2.5h0m-15.6-2h0m3.9 3.4h0m-2.4-6.6h0m-12.2 6.3h0m12.2 1.1h0m6-6h0m-3.8 2h0m17.7-.2h0m-15.6-2.4h0m.8 1h0m6.5 2h0m-5.4-.7h0m-8.5 0h0m18.5 2.6h0m-20.8-.4h0m6.2 1.5h0m2.2-5.1h0m9.7 6.3h0m2.2-5h0m-15.6-.8h0m-.5 2.1h0m20.8-1.3h0m-13.8 1.9h0m9.4-3h0m-3.1-2.2h0m-19.5 4.3h0m.9-1.5h0m4.3 2.3h0m6-2.8h0m-16.3 1.2h0m18.4-1.7h0m.2 1h0m-7.1 2h0m-14.9-.9h0m14.7-1h0m-3.3 2h0m13.9 .9h0m-16.1-3.1h0m-3.6 .1h0m21.9-.5h0m-10.5-2.8h0m6.1 2.7h0m-2.2 1.6h0m-6.1-1.3h0m-2.4 .7h0m5.3-.9h0m-3.9 1h0m.5 .9h0m-2.1 1.3h0m16-2.6h0m-14.2 1.6h0m11.3-3.6h0m2.6 2h0m3.3 1.3h0m-.8-2h0m-15.3 1.2h0m14-2.3h0m-12.9 3.9h0m6.8-1h0m-.8-.3h0m.8 2.4h0m-13.6-1h0m-7.1-2.8h0m25.3 3.9h0m-14.2-3.3h0m.8 3.8h0m11.8-3h0m-9.6 1.6h0m-11.1 .7h0m21.7-.5h0m-3.9-1h0m-6.6-.4h0m0-2.1h0m-15.5-.9h0m14.8 4.9h0m-4.5-2.5h0m-3.1-1.3h0m7 0h0m13.9 0h0m0 1.5h0m-.8 3.4h0m-20.7-2.4h0m8.7-3.1h0m-19.8 .5h0m32.4 4.5h0m-13.2-1.5h0m7.4-.3h0m-19.8-1.8h0m32.6 2.6h0m-27.1-2.3h0m30.2 1.8h0m-24.6-2.9h0m19 3.2h0m-28 2.8h0m18.5-5.1h0m-8.7-.9h0m-14.7 2.1h0m17.7-1.9h0m4.9 1.9h0m-5.2 2.2h0m1.8-.8h0m-6-.9h0m7.7-.3h0m15.1-.8h0m-6.7 .9h0m-9.2-.7h0m-3.5-1.1h0m6.8 2.2h0m7-2.7h0m-11.7 2.1h0m2.4-2.1h0m-15.9 2.3h0" stroke="#2c2c9c" stroke-opacity="0.5" stroke-width="0.55" stroke-linecap="square" fill="none"/>
<path d="M29.5 277.5h0m1.7 2.6h0m.3-1.3h0m-2.1 9.7h0m5-27.8h0m-5.7 25.7h0m3.9-18.4h0m-.9 3.7h0m-2.4 3.2h0m-.9 15.7h0m-1.3-8.6h0m5.3-12.4h0m-6.5 19.3h0m3.2-3h0m-.6-9.5h0m2.1-.1h0m-.8 13.1h0m.5-15.1h0m-3.9 2.4h0m.9-.5h0m1 6.3h0m2-6.1h0m-4.5 9.7h0m4.5-18.1h0m.4 10.3h0m-.8 2.4h0m-.7-8.9h0m1.7-7.7h0m-2.5 16.6h0m-.5-.2h0m-.2 7.4h0m0-15.2h0m-.3 8.3h0m2.6-.9h0m.9-.4h0m-1.9 3.2h0m-.8-9.1h0m-1.7 12.2h0m2.6 8.6h0m-1.5 3.3h0m1.1-18.8h0m.2 7.7h0m1-8.7h0m1.4-8.2h0m-1 10.8h0m-2.3 5.1h0m2-3h0m.9-6.7h0m.1 3.2h0m1.6-4.5h0m-1.6 4.7h0m-1-5h0m1.9 5.4h0m-3.8 6.6h0m.1 3.2h0m3.2-17.5h0m-1.3 4.3h0m1 .9h0m-1.4 5.4h0m.9-7.6h0m-.8 1h0m-.5-3.1h0m.1 17.6h0m4.6-29h0m-6.3 20.4h0m1.5-4.6h0m.4 13h0m1.8-14.9h0m-4.4 12.2h0m2-9.1h0m-2.7 13.4h0m5.5-17.8h0m-3.6 12.8h0m3.3-14.1h0m-2.3 12.2h0m-.1-3.7h0m1.8 6.4h0m-4.6-4.7h0m.9 3.1h0m2.2-8.4h0m.9-8.7h0m.6 3.4h0m-.7 11.7h0m3.2-8.1h0m-3.5 1.6h0m-.5-.2h0m.6 4.2h0m.7-3.8h0m.6 4.8h0m-3.8-5.2h0m.2 3.9h0m6-20.9h0m-4 17.4h0m-4.1 12.4h0m2.7-2.5h0m2.6-14.5h0m-4.1 7.1h0m0 5.7h0m5.8-15.3h0m-1.4 11.4h0m-1.3 7.4h0m.1-16.9h0m-3.1 15.4h0m1.7-3h0m-.1-6.3h0m.7 5.7h0m-1.3 1.9h0m5.9-22h0m-5.8 15.2h0m.9 .6h0m.4-2.5h0m.1-5.7h0m.7 11.2h0m3-7.9h0m-2.8 8.3h0m-.6 3.8h0m.4-12h0m3.4-7.3h0m-4.1 12.2h0" stroke="#2c2c9c" stroke-opacity="0.5" stroke-width="0.55" stroke-linecap="square" fill="none"/>
<path d="M26.5 290.5 L27.2 284.0 L28.3 278.0 L30.0 272.5 L33.0 268.5 L38.0 266.0 L45.0 265.0 L52.0 265.0 L58.5 266.5 L60.8 270.0 L60.5 279.0 L58.5 286.0 L57.0 289.5Z" fill="#4848b8" fill-opacity="0.3" filter="url(#b1_0)"/>
<ellipse cx="51.50" cy="270.50" rx="2.80" ry="4.60" transform="rotate(10 51.50 270.50)" fill="#2c2c9c" fill-opacity="0.55" filter="url(#b0_8)"/>
<ellipse cx="57.00" cy="272.50" rx="1.50" ry="3.80" transform="rotate(0 57.00 272.50)" fill="#2c2c9c" fill-opacity="0.6" filter="url(#b0_7)"/>
<path d="M26 291.6 C32 288.6 45 288.2 57.5 287.8 L57 290.6 C45 291 32 291.6 26 292.2 Z" fill="#2c2c9c" fill-opacity="0.75" filter="url(#b0_5)"/>
<path d="M26.5 291.3 C32 289.1 45 288.8 56.5 288.5 L56 290.1 C45 290.4 32 291 26.5 291.7 Z" fill="#3aa6e2" fill-opacity="0.95" filter="url(#b0_3)"/>
<ellipse cx="31.50" cy="290.40" rx="5.00" ry="1.00" transform="rotate(-3 31.50 290.40)" fill="#80c84e" fill-opacity="1" filter="url(#b0_35)"/>
<ellipse cx="29.80" cy="290.80" rx="2.40" ry="0.65" transform="rotate(0 29.80 290.80)" fill="#efe040" fill-opacity="1" filter="url(#b0_25)"/>
<ellipse cx="28.40" cy="291.00" rx="1.00" ry="0.50" transform="rotate(0 28.40 291.00)" fill="#e2302a" fill-opacity="1" filter="url(#b0_1)"/>
</g>
<rect x="46.60" y="264.50" width="14.00" height="13.10" fill="none" stroke="#8c8c8c" stroke-width="0.7"/>
<text x="59.70" y="262.70" font-size="5.4" fill="#3a3a3a" text-anchor="middle">2.41</text>
<rect x="18.25" y="253.15" width="49.50" height="48.90" fill="none" stroke="#1e1e1e" stroke-width="1.3"/>
<clipPath id="ci2"><rect x="74.20" y="253.50" width="49.30" height="48.20"/></clipPath>
<g clip-path="url(#ci2)">
<path d="M93.1 288h0m6.6-4.6h0m-13.6-5.4h0m25.5 .3h0m-3-10.1h0m3 18.1h0m3.8-16.2h0m-20.6-.9h0m-1.5 19.5h0m-4.9-2.9h0m19.6-6.3h0m-5.6 5.1h0m.4-13.8h0m-8.8 .4h0m3.3-4.4h0m1.8 18.9h0m-1.1-2.8h0m7.4-16.7h0m-12.3 8.6h0m-10.2 14.5h0m23.4 0h0m-6.7 0h0m12.7-8.5h0m-11.6-2.8h0m-10.3-3.4h0m17.1-4.6h0m4.4 8h0m-8.5 8h0m1.5-17.5h0m-21.3 20.8h0m19.4 .4h0m6.5-16.6h0m-11.1-6h0m-4.8 2.1h0m1.6-2.1h0m-5.3 17.8h0m12.8-7.6h0m11.1-2.7h0m-2.9-8.7h0m4.9 3.8h0m-8.4 12.5h0m1.6-7.6h0m-22.4-1.5h0m4 3.2h0m7.6 11.8h0m-6.8-9.1h0m21.6-1.2h0m-4.5-10.9h0m-8.5-.2h0m-11 23.5h0m27.2-18.9h0m-22.6 11.9h0m6.5-13.5h0m.1 14.5h0m7.3 4.3h0m-11.9-11.4h0m8.9 1.2h0m-17.4-6.3h0m2.7-2h0m-4.1 5h0m4.5 11.6h0m3.5 3h0m16.8-17.7h0m-22.5 7.7h0m11-1h0m-12.1-.1h0m21.8-2.1h0m-17.2 12.1h0m14.8-23.4h0m-8.3 3.7h0m11.7 6.9h0m-24.1 13.6h0m24.5-8.8h0m-7.9-13.6h0m14.2 5.8h0m-15.7 4.8h0m-1.8-12h0m14.4 12.1h0m-17.1 9.3h0m16-3.6h0m1.6-9.4h0m-27.5 0h0m17 11.2h0m4.6-4h0m-4.6 .9h0m-.9-16.6h0m-1 6.6h0m-16.2 8.6h0m26.3-8.4h0m-5.8 8.8h0m.4 6.2h0m.5-20.2h0m-2.7 6.9h0m-6.9 8.3h0m-8.3-1.2h0m26.2-14.1h0m-3 16.2h0m-15.3 1.4h0m1.4-5.6h0m18.7-9.2h0m-12.2 6.5h0m-2.7 12.8h0m-15-2.7h0m21-14.5h0m-21 12.2h0m25.2-10.2h0m-24.6 5.4h0m18.3-5.1h0m-8.9-6.5h0m11.9 .5h0m-19.2 8.7h0m.4-5.7h0m18.1-.1h0m-6-3.8h0m-1.5 15.6h0m-2.4-13h0m-1.4-2.2h0m.6 10.4h0m-12.4 3.9h0m30.6 1h0m-17.4 3.3h0m17-1.8h0m-21.3-16h0m5.6 14.5h0m-7.5-8.7h0m-.3 12.4h0m4.8 3.1h0m-7-18.8h0m15.1 3.5h0m7.9 12.4h0m2.8-3.7h0m-17.7-9.7h0m-8.1 2.8h0m7.6 12.7h0m-7.4-6.1h0m18.2-1h0m-4.1-15.7h0m-16 12.1h0m15.7 11.3h0m6.3-19h0m-21.9 14.2h0m-4.7 3.6h0m2.6-8h0m26-13.2h0m-25.5 14h0m21.2-15.8h0m-8.6 19.9h0m10.5-10.2h0m-8.2 .8h0m2 4.1h0m-3.9-.9h0m2.8 5.7h0m7.8-19.1h0m-.2 5.6h0m-12.4-.7h0m-3.9 4.7h0m5-7.5h0m-5.5 8.9h0m3.1 1.9h0m-10.8 .7h0m28.6 4.6h0m-11.9 1.7h0m-6.1-16h0m8 1.7h0m-11.6 13.4h0m8.1-15.1h0m-10.1 14.2h0m14.9 4.2h0m3-15.6h0m-1.2 15.2h0m6.1 .8h0m-25.2-16.9h0m.9 14.4h0m17.9-6.6h0m-17.1-3.7h0m17-9.7h0m6.9 17.2h0m-12.9-10.3h0m-4.7 4.7h0m7.8-5.4h0m-10.9 6.1h0m15.5-12.7h0m5.5 16.2h0m-13.7-2.5h0m11-3.2h0m-17-8.6h0m.3-.8h0m-2.8 14.9h0m3.6 6.8h0m3.8-1.9h0m-9 3.6h0m22.1-1.8h0m-1.6-9.9h0m-22.3 8.3h0m27.5-9.8h0m-6.5 4.2h0m.1 7.3h0m-4.1-19.5h0m-7.3 10.1h0m-7.3 4.2h0m3.5-15.8h0m1.1 16.5h0m9.5-10.4h0m-7.4 9.3h0m14.8-14.9h0m-22.4 7.8h0m.7-5.9h0m2.9-1h0m4.6 12.1h0m1.3-8.5h0m4.9 4.1h0m-.9 12.4h0m7.5-4.2h0m-2.2-2.4h0m7.6-3.5h0m-19.8 2h0m-6.9 4.5h0m11.4-11h0m5.3 9h0m-2.2-10.1h0m-3.2-7.7h0m2.6 1.7h0m-12.4 17.9h0m16.2-14.2h0m-23.2 18.7h0m13.8-22.9h0m3.2 19.3h0m2.4-13.4h0m-2.8 2h0m-10.5 6.2h0m20.6-10.4h0m-22.8 9.3h0m17-3.7h0m-3.4 4.5h0m5.4-12.8h0m-12.3 1.3h0m-4 19.5h0m13.7-2h0m-7.4-15.8h0m-11 14.3h0m26.6-1.1h0m-21.9 .8h0m23-11.7h0m-23.7 8.8h0m19.7-2.2h0m4.8-1.6h0m-25.8-3.6h0m5.2 3.7h0m2.1 8.3h0m8.6-.8h0m-.9-18.6h0m3.9 7.4h0m3.7 13.5h0m1-5.9h0m-12.3 3.5h0m13.3-18.3h0m-9.4 6.2h0m2.9 11.1h0m4.8 4.4h0m-22.6 .3h0m-3.5-8.5h0m24.2-12.6h0m-17.5 14.6h0m5.5-14.7h0m-12.9 12.7h0m7.3-1.9h0m.7-7.2h0m16 5.4h0m1.2 11.9h0m5.6-17.7h0m-9.2-2.5h0m-5.1 .7h0m-8.1 14.1h0m10.8-15.5h0m-7 12.8h0m-5.7-11.6h0m9.7 19.1h0m-7.4 1.5h0m-9-9.4h0m20.7 9h0m-17.6-5.1h0m10.1 3.7h0m17.3-7.1h0m-10.5-12.8h0m-10.9 20.3h0m11.4-16.6h0m-15.4 14.2h0m20.6-4.4h0m.7-11.1h0m-11.2 16.9h0m8.1-12.3h0m-11.5 12.2h0m10.2-17.4h0m-11.9 1.6h0m.5 5.3h0m13.1-.4h0m-3.1-2.5h0m-15.1 13.5h0m20.7-9.4h0m-4.7 4.3h0m-3.4-8.6h0m-6.6-2.5h0m-.9-4h0m15.2 5.6h0m.6 7.4h0m-14.3-.8h0m7.1-10.9h0m5.7 18h0m-7.9 3.4h0m-10.5-18.6h0m-1 16.6h0m22.4-17.3h0m-4.5 3.4h0m2.8-1.2h0m-6.5 8.1h0m-.6 6.2h0m.3-15.9h0m-8.4 .9h0m5.2 4h0m-.6-2.8h0m10.5 3.4h0m-11.5-.1h0m1.1-2.4h0m-1.1-8.5h0m1.3 5.1h0m-4-2.8h0m7.9-2.7h0m10.2 5h0m-20.8 1.4h0m15.9-3.9h0m-17 20.3h0m5.6-18.9h0m-1.6 7.9h0m9.5 5.4h0m-6.1-11.4h0m3.1 11.1h0m-4.5-14.7h0m-2.5 11.1h0m-1.4 6.4h0m12.8-8.6h0m.4 9h0m-24.7 4.2h0m25.8-3.7h0m-18.4-14h0m22.8 5.7h0m-.1 3.3h0m2.7 .6h0m-20-8.9h0m5.9-1.2h0m12.1 13.5h0m-1.5-3.8h0m-22.3-3.8h0m15.5 7.4h0m9.5-1h0m-1-11.1h0m-22.6 4.7h0m2.7 3.1h0m19.2-3.4h0m-10-7h0m11.3 13.7h0m-6.3-8.7h0m1-4.3h0m3.5 10h0m-12.3-4.9h0m-7.7-1.7h0m1.4 5.2h0m16.2-10.4h0m-19.2 15.7h0m2.4 5.1h0m11.8-20.2h0m-10.5 6.2h0m15.9 6.1h0m-11.7-9.9h0m-13.8 18.3h0m9.6-22h0m2.4 .1h0m-.9 2.3h0m7.8 7.6h0m-10.8 2.1h0m-5.9 10.1h0m24.6-14.1h0m-4.1-5.7h0m-14.3 7.5h0m-2.3-7h0m15.7-.1h0m-14.1 2.8h0m-9.2 15.3h0m21.3-22.6h0m-17.5 5.2h0m20.9 15.4h0m.5-21.4h0m-1.6 17.1h0m-4.1-12.8h0m.2-1.6h0m-2.8 17.6h0m7.5 .5h0m6.2-13.6h0m-23.8 1.2h0m16.4-2.2h0m-20 9.3h0m22.8-15.3h0m-7.5 8.1h0m-6.8 8.6h0m15.4-8.3h0m-21.6-3.5h0m26.6-1.5h0m-14.3 5.4h0m8 .8h0m-22.7 4.3h0m27 6.3h0m-1.4-3.8h0m-11.4-9.9h0m.5-4.7h0m1 9.5h0m-4.7-2.4h0m14.6 1h0m-9.6-5.8h0m8.3 11.5h0m-15 5.4h0m-3.9-9.7h0m-2.6 7h0m7-17.8h0m3 3.6h0m11.4 14.4h0m-9.5-8.3h0m-15.7 14.2h0m7.3-11.3h0m.4 4.7h0m19.6-9.6h0m-21.2-6.6h0m6.4 5.9h0m-12.7 7.3h0m29.6 3.3h0m-24.5 .3h0m12.7 2.1h0m-.7-16.2h0m-14.1 1h0m11.8 15.6h0m3.9-9.5h0m-.1-3.7h0m-11.1 7.6h0m7.9-13.2h0m13.6 4.7h0m-23.1-.5h0m21.4 15.9h0m-8.2-22.5h0m-3.9 4.8h0m-10.3 14.2h0m-5.4 2.4h0m3.3 2.8h0m17.3-3.2h0m-12.6-6.6h0m14.1 8.3h0m-7.4-20.3h0m3 7.7h0m2.3-6.8h0m-18.8 4.3h0m2.5-3.8h0m6.8 9.1h0m20 2.6h0m-30.3 7.9h0m22.3-8.3h0m-1.7 2h0m-12.2 .6h0m17.1-9.4h0m-23.1 11.9h0m13.8 4.1h0m3.7-12.6h0m-13.3 1.8h0m22.1-6.1h0m-5.2 .8h0m-.3 4h0m-20.7 5.1h0m11.4 3.8h0m-1.9-1.1h0m3.1-3.6h0m4.4-4.9h0m-.4-6.1h0m2.5 3.4h0m-17.2 12.9h0m10.2 1.6h0m-4-11.2h0m18.9 .2h0m-22.6-8.5h0m18.2 3.5h0m.7 5.8h0m-19.3 10.6h0m15.5-2.7h0m-20.8-.1h0m2.8-12.8h0m-4.8 5.4h0m21.6 5.3h0m-9.4 1.5h0m-5.4 2.3h0m.3-12.3h0m14.4-5.3h0m7 16.9h0m-13 1.6h0m-11.1-5.2h0m15.4-.6h0m3.9-13.5h0m-3.5 13.4h0m7.2 5.3h0m-23.2-5.6h0m7.6-14h0m14.8 4.1h0m-18.8 9h0m-4.2 5.7h0m5.9-14h0m11.3-4.4h0m5.1 16.3h0m-12.2-3.5h0m1.4-12.9h0m13.3 12.2h0m-.3 6.8h0m-.9-4.9h0m-14.9 2.4h0m-4.1 2.4h0m11-18.2h0m-10.5 11.3h0m-3.9 1.3h0m6-13.4h0m13.9 20.4h0m1-8.4h0m-12.8-3h0m10.9 10.2h0m.3-11.9h0m-23.9 9.4h0m8.3 3.8h0m13-12.6h0m-14.1 2.9h0m21.6-2.5h0m-1.2 6.8h0m-5.8-2.2h0m-18.9 6.8h0m-4.2-1.3h0m8.4-5.3h0m18.4-13.5h0m-23.4 14.4h0m15.4 5.2h0m1.8-7.1h0m-10.6-11.2h0m6.6 4h0m14.2 10.1h0m-4.2-.4h0m-18.3 6.6h0m7.9-11.7h0m-4.9-6.5h0m13.7 10.4h0m4.9-1.7h0m-20-5.8h0m11 14.7h0m-10.2-18.3h0m1.4-2.6h0m18.3-.8h0m-1.1 14.9h0m2.1-.9h0m.3-1.9h0m-1.5-.1h0m-15.6 7.8h0m11.3-8.5h0m-12 7h0m7.5-10.8h0m-7.5 .4h0m-7.3-5.6h0m23.9 16.4h0m-12.3-7.1h0m-3.8-6.2h0m-13.4 12.2h0m1.9-9.6h0m9.1-1.5h0m19.2 7.8h0m-3.9 5.3h0m2.5-17.7h0m-6.5 2.3h0m-15.5 11.1h0m-8.4 6.9h0m20.1-20.9h0m11.8 15.6h0m-12.5-9.7h0m2.7-2.3h0m6.7-1.8h0m-9.8 13.9h0m2.2-13.9h0m.8 12.3h0m3.8 3.9h0m-22.9-7.8h0m19.1-14.3h0m-4.7 10h0m12.8 10.5h0m-15.4-1.8h0m15.6-6.3h0m-23.8-8.1h0m19.5-3.3h0m-14.2 6.5h0m6.4-2.4h0m-8.7 11.2h0m8.1 3.6h0m.4-9h0m-7.7-2.2h0" stroke="#2c2c9c" stroke-opacity="0.5" stroke-width="0.6" stroke-linecap="square" fill="none"/>
<path d="M112.2 266.5h0m-4.8 11.9h0m-7.1-10.8h0m8 7.6h0m-1.8-4.3h0m4-4.7h0m-17.3 2h0m19.1 9.9h0m3.6-3h0m-16.8 14.1h0m12.2-16.9h0m-4.4 9.1h0m-.8 4.6h0m-20-13h0m6.6-2.3h0m-1.1 18.9h0m11-7.5h0m-1.7 7.3h0m10.2-6.1h0m-5.7-13.4h0m-6.6 16.9h0m-4.6-15.4h0m14.5 16.1h0m-9.1-16.2h0m-7.3 8.6h0m.7-12h0m10.3 13.7h0m5.7-15h0m-7.7 11.5h0m4 .4h0m-14.1 2.5h0m8.8 3.8h0m-7.5 2.4h0m18.7-6.4h0m-20.6 .7h0m24.5 1.3h0m-1.9 4h0m-18.8-10.4h0m-1.6-1.6h0m23.8 3.2h0m-13.1-2.9h0m-8.8 14.1h0m14.5-5.3h0m-16.7-2.5h0m-7.3 2.3h0m13.3 1.6h0m-10.1-6.5h0m16.7 3.5h0m-11.7-2.9h0m17.6-5.5h0m-27.3 12.4h0m10-19.9h0m1.2 11.7h0m2.2-2.7h0m-7.5-2.6h0m20.5 7h0m5.1-9.6h0m-27.5 4.8h0m.7-3.4h0m-1.9 8.9h0m13.4-15.1h0m-.1 3.7h0m4.3 8.5h0m5.7-9.9h0m1.2 12.6h0m-.6-13.9h0m-.6 5.3h0m-22.5 11.5h0m-2-7.4h0m14.3 9.4h0m12.9-5.9h0m-3.2-7h0m-10.3 16.9h0m2.2-1.6h0m8.1-15.8h0m3.7 8.4h0m-15.9-7.6h0m2.3 11.9h0m11.3 .9h0m-19.2 3.7h0m16.2-6.8h0m1.9-4.2h0m2.4-1.8h0m-23.8 3.2h0m13.9 8.1h0m-14.6-3.5h0m19.3-2.5h0m7.4 4.6h0m-29.5 .6h0m22.7-11.1h0m-7.4 4h0m7-12.2h0m-17 21.2h0m15-21.3h0m-21.1 14.7h0m7.4-7.9h0m7-1h0m-1.2 10.6h0m8.6-16h0m-8.9 9.9h0m-6.7 1.3h0m7.4 .5h0m14.2 9.6h0m-2.4-22h0m1.7 12.8h0m-1.6 7.2h0m-7.9-18.3h0m6.4 2h0m-7.2 3.2h0m-8.2-.3h0m13.5 15.9h0m-5.2-23.4h0m1 6.1h0m6.4 5.2h0m-11.1-9.1h0m9.8 15.1h0m6.8-5.4h0m-9.5-1.9h0m-4.3 13h0m8.2-4.9h0m2-16.2h0m-16.7 .6h0m-3 4h0m15.6-1.6h0m-6.1 17.3h0m-4.3 .5h0m14.5-9.5h0m-1.5-14.1h0m2.4 12.1h0m3.7 1.5h0m-2.8-7.7h0m-17 16.1h0m3.7-16.4h0m-12 4.9h0m9.5 2.4h0m18.3 1.8h0m-7-12.7h0m-10.3 2.7h0m6.3 19.5h0m8.9-12.1h0m-27.2 6h0m8.4-7.3h0m11.8 12.7h0m11-9.2h0m-16.2 4h0m7.6-5.8h0m7.2-.5h0m-4.1-10.6h0m-2.8 12.2h0m-3.5-10.3h0m7.7 6.9h0m-13.7 12.9h0m6.3-11.6h0m3.1 8.4h0m3.9-17.7h0m-11.6 10.8h0m-8.1-4h0m11 10.1h0m-3 1.6h0m0-13.5h0m3.2-1.4h0m-17.7 13.3h0m20.7-12.7h0m.8 .5h0m-17.8-3h0m16.5 2.9h0m-22.2 16.7h0m15.3 .9h0m5-6.1h0m-4.4-9h0m9.1 13.3h0m-10.3 1.8h0m-11.5-2.8h0m2-17.7h0m13.4-1.9h0m-.1 12.9h0m-11.8-.1h0m7.2-3.4h0m-6.1 3.1h0m11.6-10.9h0m4.8 6.6h0m-6.3 2.2h0m2.2 5.3h0m-16.9-10.2h0m7.7-6.1h0m2.8 10.4h0m-10.1 10h0m21.7-16.5h0m1.6 18.9h0m.1-7.5h0m-11.8-14.7h0m9.6 2.9h0m-19.2 16h0m-.9-3.3h0m3.4-13.6h0m17.6 4.5h0m-20.2 6.7h0m17-9.1h0m4.6 12.2h0m-23.3-12.6h0m2.6 13.1h0m5.3-12.1h0m12.9-.3h0m-1.1 17h0m-19.6-3.3h0m15.4 0h0m4.4-15.1h0m8-.7h0m-3.3 8.8h0m1.2 11h0m-25.7-14.6h0m20.4-5.1h0m-7.1 6.2h0m1.2-8.1h0m-16.7 14.4h0m6.8-14.6h0m-6.6 22.7h0m25.9-16h0m-8.1 8.7h0m-11.7 6.4h0m21.5-21.4h0m-28.2 16.9h0m4.6-1.9h0m20.7 3.8h0m-25.4-1.4h0m10.6-10.2h0m5.6 2.5h0m-1.4-.2h0m8.5 .1h0m-16-3.6h0m-1.6 3.4h0m-2.7-6.8h0m22.1-1.5h0m-20.7 4.4h0m-2.6 13.5h0m21-1.6h0m-7.9-4.2h0m2.4 7.5h0m-11.2-12.9h0m-3.6-3.2h0m.1 13.6h0m22.4-11.5h0m-16.5 14.7h0m-6.7-16.1h0m9.5-4.8h0m6 19.6h0m1.4-22h0m-13 23.5h0m3.6-1.9h0m.8-15.4h0m-3.3 14.9h0m9.4 .5h0m7.8-1.6h0m-13.5-9.3h0m-4.9-6.7h0m2.8 4.4h0m-.4 11.6h0m19.1-7.2h0m-10 9.3h0m-1.5-20.6h0m9.3 19.4h0m.3-19.3h0m-4.9 19.7h0m9.3-14.2h0m-7.5 4h0m5.6-3.1h0m-9 12.6h0m3.4 .3h0m-10.8 2.4h0m-3.5-22.2h0m-5.5 15.6h0m5.3-11.5h0m-5.5 1h0m10.5 15.9h0m6-21h0m-6.7 2.5h0m.8-.9h0m-1.5 2.9h0m-3.5 15.4h0m11.8 .6h0m-7-10.1h0m4.2 3.1h0m-12.6-8.2h0m25.6-1.7h0m-28.5 9.9h0m6.3 8.6h0m5.9-15.3h0m2 .8h0m-7.1-6.7h0m-7.9 19.7h0m29-4.1h0m1-8.5h0m-19.8 8.4h0m-11.8 .6h0m28.4-11.7h0m-12.2 3.9h0m-5-.7h0m14.7 12.6h0m4.8-6.3h0m-14.6 5.9h0" stroke="#4848b8" stroke-opacity="0.5" stroke-width="0.55" stroke-linecap="square" fill="none"/>
<path d="M96 284.3h0m11.4 .2h0m-16 .1h0m7.1 4.7h0m-11.3-4h0m19.3 .1h0m2.5-.5h0m-5.1-1.8h0m1.6 0h0m-9.9 .5h0m7.4-1.3h0m-15.9 7.5h0m11.2-1.9h0m-4.9-7.1h0m-.4 8.6h0m-1.1-2.8h0m8.8 2.7h0m4.9-4.6h0m-6-1.5h0m2.2 1.1h0m-11.9 1.8h0m15.4 2.1h0m-17.3-1.9h0m8.7 .7h0m-6.6 1.6h0m17.3-1.7h0m-9.8 1.9h0m-3.5-5.5h0m2.2 3.5h0m-11.4-3.1h0m28.8-1.8h0m-10.9 1.7h0m.2 .2h0m-18.7-.1h0m-.2 5.1h0m9.6 .6h0m6.6-6.6h0m-7.9 6.9h0m-4.9-3.4h0m19.4-1.6h0m-18.2-.1h0m2.1 3.8h0m-5-1.6h0m9.4 .4h0m2.4-3.3h0m-8.1 3.8h0m19.5 .7h0m-23.2-1h0m19.1-4.5h0m8.7 4.7h0m-15-2.5h0m-1.3-1.5h0m-9.4 .8h0m18 2h0m.9-2.4h0m-3.1-2.8h0m-8.3 1.6h0m-4.6 2.4h0m15.9-1.3h0m-14.9 1.1h0m-6.6-1.7h0m3.5 5.4h0m-.2-1.9h0m24.5 2.6h0m-10.8-6.9h0m-9.7 4.1h0m13.4-3.5h0m.6-1.1h0m.3 4.8h0m-16.3-.5h0m10.1-5.5h0m-1.5 2.9h0m12.8 0h0m-13.4 4.6h0m5.7-2.7h0m-.5 1.4h0m-9.8 2.5h0m5.7-4.3h0m-2.9 3.1h0m-11.8-2.5h0m21 3.6h0m1.9-.5h0m-21.4-.4h0m1.1-1.3h0m12-3h0m12.1-1.9h0m-11.2 3h0m2.8-3.9h0m-9.5 7.2h0m-6.3-.3h0m4.7-.1h0m11.3-5h0m-9.6 0h0m6.4 1.3h0m9.2 2.9h0m-1.6-.2h0m-19.4-4h0m10 1.6h0m-1-1.7h0m-8.4 6.4h0m20.1-6.9h0m-21.9 6.6h0m4.2-.6h0m5.8-6.7h0m-1.4 7h0m14.7-1.2h0m-10.6-6.7h0m-.2 3.9h0m-6.8 2.9h0m4.1 1.6h0m-9-4.9h0m8.4 4.5h0m16.7-2.5h0m-11.7-2.7h0m13.1-.6h0m-18.1 3.1h0m3.4 .8h0m-5.5 1.7h0m11.7-4.5h0m7.8 1.2h0m-1.1 3h0m-14.8-6.5h0m-7.5 2.6h0m-5-1.7h0m25 1.3h0m-20.5 2.4h0m10.2 .9h0m-10.3-6.1h0m8 2h0m5.7 2.6h0m-8-2h0m-10.9 1.2h0m17.8 1.2h0m-1.4-5.8h0m-9.5 2.1h0m-4.6 2.8h0m-2.2-3h0m9.2-.8h0m13.3 2.2h0m-2.3 3.9h0m1.1 1.6h0m-19.4-5.2h0m14.2 2.6h0m2.8-2.5h0m-3.8-.7h0m-2.5-1.3h0m-.9 6.1h0m-10.9-5.8h0m17.7 4.2h0m4 2.2h0m-22-6.6h0m23.8 .5h0m-20.7 1.3h0m-2 2.1h0m-2 .6h0m12.7 .7h0m-2.8-4.4h0m11.3 .9h0m6-1.5h0m-7.1 3.9h0m-16.9 2.7h0m6-3.9h0m-4.3-2.9h0m13.4 .9h0m-1.9-2.7h0m-12.2 6.5h0m5.3-1.6h0m2.6 2.6h0m15.1-2.8h0m-7-.3h0m-18.2 3.7h0m8.6-1.2h0m-6.9-.1h0m15.4 .8h0m-12.7 .3h0m3.3-5h0m15.3-.7h0m-7 2.7h0m7.3 1h0m-18.4 2.2h0m5.5-.3h0m17-2.9h0m-1.4-2.9h0m-28.1 2.8h0m13.7 2.2h0m9.6-.4h0m-3.3-1.4h0m-9.9-2.2h0m16.4-2h0m-22.1 5h0m18.1-3.6h0m-11.2-2.2h0m18.1 6.3h0m-23.6 1.6h0m-4.8-5.7h0m6.1 2.7h0m16.6 3.7h0m-7.2-6h0m-17.2 4.1h0m23.3-2.7h0m-4.4 2.6h0m-16.1 1.3h0m27.7-3.4h0m-5 2.4h0m-7.6-1.2h0m-3.7-2.4h0m10.8 3.7h0m-16 .8h0m.6-4.3h0m-3.7 4.7h0m-3 0h0m25.2-3.8h0m-16.6-2.6h0m8.3 5h0m.5-6.3h0m-14.9 2.9h0m7.6-4h0m16.8 7.4h0m-20.4-6.7h0m17.6 3.8h0m-15.1-3.4h0m3.5 1.6h0m-9.5 5h0m13.2-1.8h0m-10.3-3.2h0m1.5 .4h0m14.7-1.9h0m-22.8 5.1h0m13.9-2.7h0m8.5-.9h0m-10.4-1.9h0m4.4 1.3h0m-8.9 5.1h0m-6.4-5.4h0m1 5.3h0m21.4-4h0m-23.9 .3h0m21.5 3.1h0m-15.4-3h0m-4 5.3h0m9.4-8.8h0m16.3 4.2h0m-12.1 2.7h0m10.2-2h0m-10.8 .7h0m-13 2h0m14.1-2.6h0m-8.8 1.3h0m-2.1 1.9h0m4.7-4.1h0m-3 4.7h0m10.3-3.7h0m5.7-3.6h0m-1.6 1.5h0m3 .9h0m-2.4-.7h0m-21.4 1.8h0m-.9 2.4h0m25.8-4.6h0m-18.6 4.7h0m2.3-5h0m15.6 4.6h0m-8-4.2h0m-5.4 2.4h0m-.7 3.3h0m-3.7-3.2h0m2.5-4.2h0m.6 2.5h0m9.6 3.3h0m-15.7 1.3h0m3.4-3.3h0m1.2 .2h0m6.8 3.1h0m-.5-1.3h0m-7.5-1.8h0m2.3-3.2h0m-5 3.4h0m14.5-1h0m6.6-2.6h0m-19.5 2h0m3.6-2.8h0m13.7 8.3h0m-2.6-6.6h0m.4 2.7h0m-4.2 3h0m-9.7-5.1h0m-1.4-2.5h0m6.7 6.1h0m-5.7 .8h0m6.3-5.6h0m15.5 2.5h0m-5.1 .1h0m-5 0h0m6.9-2.2h0m-3.8-.2h0m-22.2 2.8h0m12.6 .1h0m12.8-.7h0m1.1-1.2h0m-3.2 4.5h0" stroke="#2c2c9c" stroke-opacity="0.55" stroke-width="0.6" stroke-linecap="square" fill="none"/>
<path d="M112.5 268.1h0m-2.3-1.3h0m-4.9 1.8h0m3.1-1.2h0m.2 .4h0m-1.1-2.6h0m3.4 .2h0m-.3-2.4h0m-2.9 8.5h0m5.1 1.5h0m-2.8-8.8h0m-4.7 6.5h0m1.8-.4h0m3.3 10.8h0m-5.3-8.4h0m7.7-.4h0m-2-7.6h0m-4 12.7h0m-.6-5.9h0m1 4h0m2-5.6h0m1.9-1.9h0m-4.5-1.5h0m3 6.8h0m1.9 3.2h0m-.8-11.9h0m-1.5 5.5h0m-2.5 1.4h0m-1.3 1.6h0m2.1 1.1h0m5.2-5.2h0m-3.1-4.4h0m3.4 1.6h0m-7.6 3.2h0m1.1-3.9h0m1.7 .1h0m6.3 4.7h0m-2.3 2.9h0m-6.1 3.7h0m.4-11.2h0m.2 3.4h0m.5 .4h0m-1.2 .6h0m.7 4.8h0m-.8-1.2h0m-3-6.4h0m7.3-1.9h0m-4.7 4.6h0m3.4-.2h0m-1.8 .2h0m2.7-8.8h0m-.7 12.1h0m-1.3 .5h0m.3 2h0m-3.7-3.8h0m4-1h0m-2.8-.3h0m4.6-3.9h0m-5.4 2.5h0m4.6-1.6h0m1.7 2.7h0m-5.1-5.2h0m1.3 2.6h0m3.8-1.4h0m-6.2 7.1h0m2.4-4.4h0m.7-2.4h0m1.7 7.4h0m-1.6-.9h0m0-3.8h0m.1 5h0m-2.6-9.4h0m2.4 0h0m-1.3 10.3h0m1.7-3.7h0m2.3-5.1h0m-5.7-.1h0m3.1-1.3h0m-3.8 9.7h0m2.2-8.2h0m2.9 5.6h0m-1.1-1.7h0m1.5-8.1h0m-3.9 8h0m1.8 2.3h0m.1-10.9h0m2.4 12.3h0m-.7-2.1h0m-.7-10.7h0m3.6 7.7h0m-5 .2h0m1.7-4.9h0m4.3 2.1h0m-2.7 2.7h0m-.9-3.9h0m-2.1 3.9h0m-3.1 7.1h0m3.3-6.9h0m2.1-1.4h0m-4.2 5.3h0" stroke="#2c2c9c" stroke-opacity="0.6" stroke-width="0.6" stroke-linecap="square" fill="none"/>
<path d="M111.6 274.6h0m3.4 7.6h0m-.9-9.4h0m.2 1.1h0m-1 .7h0m-.3-2.5h0m-1.5-3.5h0m1 5.4h0m-.9-.4h0m.7-3.1h0m-1 3.6h0m2.2 4.2h0m.2-13.4h0m-1.4 8h0m-.2 3h0m-1-3h0m1.9 .3h0m-.1 .4h0m1.2 3.9h0m-.8-7h0m-2.4 7.4h0m1.6 2.5h0m-2-17.3h0m5.3 8.2h0m-4 8.9h0m-.5-8.2h0m1.3-1.3h0m1.9-.9h0m1 2h0m-1.5 2.4h0m-2.5 3.5h0m2.5-2.9h0m.5-1.3h0m-1.3-9.4h0m-1.7 2.9h0m4.6 8.7h0m-4.8-8.7h0m3.6 12h0m-.8-5.7h0m-1 3h0m1 2.7h0m-1.1-5.7h0m.5 2.2h0m0-3.2h0m0 1h0m-1.4-3.3h0m3.2 2.6h0m-2.9-5.1h0m-1.3 4.6h0m-.8 3.8h0m3.9-5.2h0m-1.4-2.7h0m-1.5 2.4h0m4.7 4.8h0m-.6-3.8h0m-1.4 .8h0m-1.5-4.9h0m1.1 2.5h0m-1.8 .1h0m2.7 2.5h0m-.5-.2h0m-1.4-.1h0m.8-2.7h0m-1.8-1.2h0m1.1 6.2h0m-.2 .8h0m2.7-5.7h0m-1.7 5.4h0m.6-7.6h0m-.5 8.9h0m.6-3.8h0m-2.4 .2h0m2.5 1.3h0m-.7-5.2h0m5.1 2.6h0m-2.4 4.2h0m-4.1-2.1h0m.9 4.6h0m1.6-10.5h0m.2 2h0" stroke="#2c2c9c" stroke-opacity="0.6" stroke-width="0.6" stroke-linecap="square" fill="none"/>
<path d="M83.6 266.6h0m22.6 0h0m6.6-.3h0m-19 1.2h0m13.2 .4h0m-17.6-.3h0m8.5-1.6h0m3.5 1h0m3 4h0m-3.3-6.7h0m-5.9 7h0m-3.2-.8h0m1.7-4h0m21.4 2.6h0m-29.8-2.5h0m26.8-3h0m-24.7 2.4h0m9.6 2.2h0m18.4-2.4h0m-11.7 2.2h0m-21.1 .2h0m23-.4h0m-6.7-.7h0m11.3 2.1h0m-3-1.9h0m2-1.2h0m-8.4 1.3h0m6 .8h0m-9.5 1.1h0m9.9-.7h0m-20.1-3.3h0m6.8 1.7h0m-13.2 1.7h0m22.7-4.8h0m-4.3 2.7h0m12.1-.1h0m-.3 1.5h0m-24.6 .5h0m18.6-3h0m-7.8 1.9h0m-14.8 4h0m-4.1-4.8h0m24.5-3.1h0m3.9 3h0m-7.3-.5h0m-6.3 .9h0m1.8-.4h0m6.4 2.6h0m-2.6 1.4h0m5.8-3.7h0m-9.9 .1h0m-4.4 1h0m13.5-4.4h0m-6.8 6.1h0m12.1-3.2h0m.6-1.7h0m-22.9-.5h0m11.3 .3h0m10.6 .8h0m-18.7 .5h0m-9.8 3.6h0m36.1-2.5h0m-15.8 2.1h0m.3 .8h0m20.9-1.6h0m-34.4-.2h0m19.5-1.4h0m2.5 1.7h0m-14.1-.6h0m-3.6-3.7h0m14 3h0m-18.1 2.5h0m9.8-3.9h0m14.7 0h0m-.5-.2h0m-5 .8h0m12.7-.5h0m-36.4 1.5h0m24.9-1.6h0m-7.8-.8h0m2.5 1.6h0m-11.7 1.8h0m27.9-2.1h0m-13.5 .9h0m-22-.8h0m17.2 .6h0m-19.2 2.6h0m9.3-2.4h0m2.3-.3h0m8.7 1.2h0m-4.3 2.8h0m2.7-6.1h0m.4-.7h0m-8.7 1.6h0m-.1 .7h0m-1.2 .9h0m15 .9h0m1.5-1.2h0m-2.8-1.3h0m-1 2.2h0m-4-2.4h0m-.2 1.3h0m-2.5 2.6h0m1.3-4.5h0m-3.2 2.6h0m7.2-1.5h0m3.7-.5h0m-15-2.9h0m-10.4 2.7h0m13.4 1.7h0m1.3 2h0m6.2-2.3h0m-17.2 .6h0m5.8-.4h0m30.3 .4h0m-24.5 1h0m-2 .3h0m-4.8-1.7h0m9.6-.7h0m6.7-.6h0m.9 3.5h0m1-3.6h0m-9.9 4.3h0m5.2-5.6h0m-8.1 1.9h0m-15.6 .9h0m16.2-.1h0m-2.8 1h0m-.5-1.2h0m6.6-1.2h0m-1.6 1.6h0m1 .8h0m14.5-1.3h0m-19.6 1.9h0m9.8 .2h0m-14.7-1.6h0m5.8-3.9h0m14.4 3.6h0m6.1 2.1h0m-6 .8h0m-12.3-2h0m3.1-1.5h0m-3.2 .1h0m-2.1 1.2h0m5.1 .7h0m3.2-1.2h0m4.4-5.1h0m-10.1 6.2h0m-9.6-1.2h0m19.5-1.5h0m-5.4 1.9h0m2.4 3h0m2.5-2h0m2.2-1.8h0m-3.8 3.3h0m-2.2-2.9h0m14.3 2.5h0m-23.2-3.7h0m-3 .3h0m7.2 1.8h0" stroke="#2c2c9c" stroke-opacity="0.5" stroke-width="0.55" stroke-linecap="square" fill="none"/>
<path d="M85.7 289.5h0m3.5-16.2h0m-4 5.1h0m-1.6 1.8h0m.7 18h0m2.8-17.9h0m-2.5-2h0m3.7-7.7h0m-3.3 10.2h0m1.1-.7h0m4-16.4h0m-4.3 24h0m-1.7 1.9h0m-1.4 .4h0m3.7-18.7h0m-1 20.7h0m.7-12.4h0m3.9-9.6h0m-3 3.2h0m-2 7.9h0m2.6-2.6h0m-2.7 4.5h0m.5-2h0m3.7-14.2h0m-1.6 3.8h0m-.8 11.5h0m-3.3 5.6h0m1.9-6.9h0m3.6-12.9h0m-1.5-3h0m-.5 10.6h0m2.2-5.8h0m-3.3 6.2h0m1.4-.1h0m1.1-3.8h0m-1.3 .9h0m2.5-2.3h0m.2-1.8h0m-3.2 8.4h0m2.6-6.3h0m-4.3 29.6h0m1.4-22.9h0m1.8-2.6h0m.8-3.5h0m-2.9 11.6h0m-.4-8.1h0m2.2 7.1h0m-1.4-7h0m-3.8 9.8h0m3.9-7.5h0m-1.7-1.3h0m-1.5 4.9h0m3.1-11.2h0m-.5 17.7h0m3.1-10.9h0m-2.6-7.3h0m1.2 4.9h0m-2.2 10h0m1.6-5h0m1.1 1.3h0m.8-7.2h0m-.7 10.7h0m-1.4-8.6h0m-1.1-2.9h0m.1 2h0m-1.4 21.1h0m3.2-24h0m-1 1.5h0m-2.3 15.6h0m4.6-18.5h0m-2.1 1.3h0m1.6 .6h0m-3.2 8.8h0m0 3.8h0m.7-7.9h0m1.7-11.3h0m-.4 8.9h0m-2.2 10.8h0m1.4 0h0m1.2-10.9h0m-4 3.4h0m6.3-6.5h0m-1.2 8.5h0m1.2-2.5h0m-2.2 5.4h0m-4.6-4.3h0m-3.7 11.4h0m7.6-11.2h0m.5 5.2h0m-1.5-9.5h0m3.1-4.2h0m-5.5 20h0m5.5-20.9h0m-3.6 13.7h0m1.1-14h0m-3.2 15.8h0m5.5-20.1h0m-2.5 10.8h0m.8-.9h0m-1.1 8.3h0m-.1 3.9h0m-.7-11h0m0 8.5h0m1.2-3.6h0m-.6 3.5h0m-.6-.6h0m5.5-21.2h0m-2.4 10.4h0m-.8-3.2h0m-1.6 4.2h0m-.2 2.7h0m1-6.9h0m-1.2 10.8h0m4.1-7.8h0m-8.1 8.3h0m7.9-3.5h0m-3.7 13.3h0m-3-1.8h0m3.8-10.9h0m-3.5 5.4h0" stroke="#2c2c9c" stroke-opacity="0.5" stroke-width="0.55" stroke-linecap="square" fill="none"/>
<path d="M82.7 290.5 L83.4 284.0 L84.5 278.0 L86.2 272.5 L89.2 268.5 L94.2 266.0 L101.2 265.0 L108.2 265.0 L114.7 266.5 L117.0 270.0 L116.7 279.0 L114.7 286.0 L113.2 289.5Z" fill="#4848b8" fill-opacity="0.3" filter="url(#b1_0)"/>
<ellipse cx="107.70" cy="270.50" rx="2.80" ry="4.60" transform="rotate(10 107.70 270.50)" fill="#2c2c9c" fill-opacity="0.55" filter="url(#b0_8)"/>
<ellipse cx="113.20" cy="272.50" rx="1.50" ry="3.80" transform="rotate(0 113.20 272.50)" fill="#2c2c9c" fill-opacity="0.6" filter="url(#b0_7)"/>
<path d="M82.2 291.6 C88.2 288.6 101.2 288.2 113.7 287.8 L113.2 290.6 C101.2 291 88.2 291.6 82.2 292.2 Z" fill="#2c2c9c" fill-opacity="0.75" filter="url(#b0_5)"/>
<path d="M82.7 291.3 C88.2 289.1 101.2 288.8 112.7 288.5 L112.2 290.1 C101.2 290.4 88.2 291 82.7 291.7 Z" fill="#3aa6e2" fill-opacity="0.95" filter="url(#b0_3)"/>
<ellipse cx="87.70" cy="290.40" rx="5.00" ry="1.00" transform="rotate(-3 87.70 290.40)" fill="#80c84e" fill-opacity="1" filter="url(#b0_35)"/>
<ellipse cx="86.00" cy="290.80" rx="2.40" ry="0.65" transform="rotate(0 86.00 290.80)" fill="#efe040" fill-opacity="1" filter="url(#b0_25)"/>
<ellipse cx="84.60" cy="291.00" rx="1.00" ry="0.50" transform="rotate(0 84.60 291.00)" fill="#e2302a" fill-opacity="1" filter="url(#b0_1)"/>
</g>
<rect x="103.00" y="264.50" width="13.50" height="13.10" fill="none" stroke="#8c8c8c" stroke-width="0.7"/>
<text x="114.70" y="262.70" font-size="5.4" fill="#3a3a3a" text-anchor="middle">5.18</text>
<rect x="73.85" y="253.15" width="50.00" height="48.90" fill="none" stroke="#1e1e1e" stroke-width="1.3"/>
<clipPath id="ck1"><rect x="329.40" y="253.40" width="48.60" height="48.40"/></clipPath>
<g clip-path="url(#ck1)">
<path d="M343.4 279.5h0m-6.2 16.4h0m11.8-5.3h0m-.7-7.4h0m5.1 4.6h0m3-3.3h0m-3.3-6.5h0m-1.9 10.9h0m-17 3.9h0m-.8 2h0m23.1-15.6h0m-20.4 10.9h0m-.1 5.8h0m14.2-7.3h0m-12.5 6.7h0m18.9-14.1h0m-19.9 8.8h0m7.4-.1h0m2.5-6.4h0m-1 8h0m-1 .4h0m6.6-10.2h0m-17.6 13h0m2-4.8h0m.5 5.4h0m13.8-11.3h0m-10.5 .5h0m4.8 .3h0m15.9-4.2h0m-21.6 9.9h0m1.9 5h0m11.1-20h0m-12.2 12.1h0m-2.4-5.7h0m2.1 8.3h0m9.2-4.3h0m2.5 .4h0m.3-8.1h0m-16.5 8h0m15-3.8h0m8.8-1h0m-21.5 13.1h0m20.5-13.8h0m-8.1 .6h0m-9.9 4.7h0m10.1-6.4h0m-11.7 5.8h0m-3.1 .5h0m-.6 7.9h0m-.7-1.6h0m4.8 1.1h0m3.6-10.5h0m-4.3 12h0m1.4 .1h0m8.3-17.3h0m4.1 9.1h0m-17.9 7.1h0m10.2-15.3h0m4 9.6h0m4.7-2.4h0m-5.9 6.4h0m-1.3-1h0m-10.6 2.9h0m19.5-11.1h0m1.3-6.9h0m-12.1 6.4h0m14-4.2h0m-.6 3.4h0m1.7-.1h0m-1.9-2.8h0m3.7 1.9h0m-17.6-2.6h0m15.7 7.3h0m-11.8-5.2h0m5.8 6.7h0m-11.8 3.8h0m18-10.7h0m-10.9-1.3h0m4.1 2.2h0m-11.9 13.7h0m1.6-10.8h0m-2 12.6h0m6.1-6.6h0m-4.4-6.8h0m-3.5 1.2h0m-2.4 3.5h0m10.5-11.6h0m3.2 8.9h0m-3.9-4.4h0m-11.3 8.3h0m16.6-12.7h0m7 10.8h0m-13.6-1.6h0m3.8 1h0m4.8-5.4h0m-11.9-.4h0m6.3-4.4h0m.9 1.7h0m8.7-1.8h0m-.7 4.4h0m-8.8-4.4h0m-8.8 9h0m10.2-5h0m-1 4h0m-4.5 1.5h0m-.1-2.2h0m11.9-5.7h0m-19.1 7.1h0m5.6 .7h0m-1.7-3.1h0m.8-2.5h0m11.7 8.4h0m-4.7-8.7h0m-11.6 4.8h0m8.8-7.2h0m1 2.8h0m-1 14.2h0m15.9-10.5h0m-19.2-.1h0m.3 12h0m-3.3-5.2h0m12.7-15.5h0m-8.7 19.3h0m4.1-7.1h0m0-2.9h0m-.7 .6h0m9.2-5h0m-8.2 12.5h0m-12.3-2.1h0m16.3-15.3h0m-7.3 10.3h0m-.8-5.1h0m1-.5h0m-8.6 8.2h0m9.4 5.7h0m8.7-8.4h0m-19.9 6.1h0m11.1-4.3h0m-8.3 2.2h0m.8 1.1h0m1.5 1h0m16.5-13.3h0m.3 .5h0m-19.9 18.6h0m24.3-16.7h0m-1.7 2.2h0m-1.5-5.4h0m3.5 7.7h0m-20.1 0h0m6.8 3.6h0m-3.9-8h0m-9 15.7h0m19.3-15.7h0m-1.7 4.5h0m3.4-6.3h0m-8.9 11h0m1-13.9h0m5.6 3.5h0m-11.1 7.4h0m19.3-4.5h0m-18.9 10.6h0m3.2-16h0m2.9 13.7h0m2-16h0m-9.3 16.2h0m13.5-8.7h0m-.2 .2h0m-13.9 11.4h0m4.3-1.3h0m6.1-11.1h0m-9.2 15.2h0m7-5.2h0m3.1-7h0m1.6 3.3h0m-8.3-.2h0m-8.4 2.4h0m-.7 7.4h0m24.4-17.9h0m-7.8 6.4h0m-15.8 2.5h0m22.5-2.1h0m-9.9-8.3h0m4.3 10.4h0m1.1 .2h0m-13.9-4.5h0m18.3-4.6h0m-12.3 9h0m-6.8-7.4h0m18.8-2.2h0m-1.5 6.9h0m-4.1-1.9h0m-7.6-2.2h0m.2 10.7h0m-2.2-1.2h0m4.5-11.3h0m10.9 3.7h0m-15.5-5.4h0m12.9 .5h0m-19 13.3h0m16.2-15.3h0m-10.4 10.5h0m2.1-7h0m-7.1 10.2h0m3 4.9h0m1.2-10.9h0m3.5-.1h0m11.1-5h0m-17.4 4.6h0m16.4-5.2h0m4.2 0h0m-20.5 6.9h0m2.2 11.1h0m5.6-7.6h0m-10.3 6.4h0m22.2-11.4h0m-17.9 10.5h0m6.3-5.7h0m.5-3.4h0m-2.2-5.7h0m-.4-.3h0m-8.6 16.6h0m4.2-14.7h0m-2.6 8.4h0m11.7-7.3h0m-13.9 10.9h0m24.1-11h0m-18.1 4.7h0m1.8 5.3h0m3-6.3h0m-2.9-5.6h0m-4.8 3h0m14.5-.5h0m-7.9 5h0m-4.9-4.2h0m-5.9 11.7h0m.7-5.2h0m-1-2.7h0m5 6.3h0m6.1-3.8h0m-.7-10.7h0m10.4 7.2h0m5-3.9h0m-18.6 3h0m-.3 5.4h0m12.9-5.2h0m-9.7-2.3h0m-5.8 7.4h0m18.8-5.9h0m-21.3 2.8h0m4.9-5.6h0m14.8 5.6h0m-5.3-5.3h0m-9.2-4.2h0m-2 10.8h0m5.4-1.7h0m8.1-9.5h0m-1.3-1.4h0m-2.2 10.6h0m3.4-7.4h0m-5.9 4.7h0m-3-4.6h0m-4.7 9.4h0m7.9-3.7h0m1.1-7.2h0m-10.3 18.5h0m8.3-10.7h0m-7.1 3.4h0m4.6-1.5h0m6.7-7h0m-7.8 5.7h0m5.2 1.6h0m-2.4-11.3h0m6.5 2.5h0m1 2.9h0m-9.8 12.4h0m16.6-11h0m-18.3-.1h0m-2.7 1h0m6.3 1.2h0m-10.8 7.1h0m10.8 .9h0m-10-1.4h0m6.4-8.4h0m8.6-1.8h0m-7.8 11.9h0m9.1-7h0m-9.7-3.8h0m-1.1 4.6h0m15-12.3h0m-16.1 17h0m-4.5 4.4h0m10.4-7.5h0m-9.3-4.5h0m10.2 8h0m3.6-15.1h0m-.3-.8h0m-12.2 5.6h0m2.4 6.2h0m14.3-11.1h0m-3.2 5.6h0m-4.4-4h0m-.3 3.6h0m-6.1 3.4h0m1.5-1.6h0m13.6-1.2h0m-18.9 1.6h0m21.6-1.5h0m-16.2 3.4h0m-6.7 4.6h0m11.9-3.3h0m10.1-6.9h0m-10.8-4h0m7.9 4.3h0m3.9 4.6h0m-17.4-4h0m.8 9.9h0m4.4-1.8h0m2.4-1.4h0m-7.6 6h0m2.3-10h0m-6.5 1.6h0m2.5 10.4h0m6.8-17.2h0m6.2-2.3h0m-4 7.5h0m2.2 5.3h0m-12.3 2.4h0m5.5-.2h0m-3.8-12.5h0m-4.1 6.5h0m22.4-3.8h0m-20.5 7.2h0m6.1-1.2h0m2.5-9.7h0m-7.7 6.2h0m-4.3 11.1h0m13.2-10.8h0m3.4-3.8h0m-5.9 2.5h0m-5.4-2.7h0m14.1-1.1h0m-9.9-1.3h0m8.1-4.4h0m-9.5 13h0m14.6-5.3h0m-3.9-5.3h0m-3 8.6h0m-7.7-2.6h0m1.6-1.9h0m14.5 .3h0m-16 2.5h0m2.5 1.1h0m-7.4 .8h0m8.7 4.3h0m11.2-4.5h0m.8-6.9h0m-15.2-1.6h0m7 3.7h0m1.3-1.6h0m-11.5 1.7h0m16.1 .1h0m-6.3-4.5h0m6.3 6.5h0m-13.9 6.6h0m8.8 .1h0m-.1-3.2h0m1-6.1h0m-8.6-.9h0m5.9 8.1h0m8.8-3.8h0m.2-5.9h0m-10.9 11.4h0m-2.7 2.2h0m6.4-14.9h0m-1.3 3.7h0m-6.2 6.7h0m-4.8 2.3h0m2.5 4.6h0m-.9-3.2h0m13.9-6.1h0" stroke="#2c2c9c" stroke-opacity="0.5" stroke-width="0.6" stroke-linecap="square" fill="none"/>
<path d="M345 285.5h0m19.6-2.3h0m-7-4.4h0m3.2-5.9h0m-14.1 8.6h0m-5.9-1.1h0m2.5-4.1h0m5 12h0m-14.8 2.5h0m29.7-26h0m-19 14h0m22.5-5.5h0m.4-4.6h0m-11.9 11.1h0m-8.8-1.6h0m-1.2 8.8h0m9.4-11h0m.1 8.3h0m-8.6-5h0m9.7-4.7h0m.2 4.9h0m1.8-2.1h0m-1.2-2h0m-6.2 0h0m-10 7.1h0m7.4-5.5h0m8.9-4h0m-2 1.2h0m1.2 12.6h0m-15.4 2.8h0m12.6-20.7h0m-10.2 3.8h0m13.2 2.4h0m3.9-8.5h0m7.6 7.4h0m-20.5 .9h0m-1.3 10.6h0m4.7-11.3h0m-8.4 14.3h0m-2-3.1h0m20.4-6.8h0m-6.9 13.2h0m9.2-5.4h0m-15.7-4.5h0m-2.1 3.8h0m10.9-3h0m-18.6 2.4h0m7.2-3.5h0m9.2-10.3h0m9.7-.7h0m1.1-3.8h0m-16.1 4.2h0m5.9 8.2h0m-2-11h0m-9.5 13.9h0m-11.2 .9h0m25.3-5.5h0m-13.7 4.3h0m4.3-5.1h0m7.5 2h0m3.9-4.8h0m-26 18.7h0m25.3-16.5h0m-2.8-3.2h0m-1.9 3.9h0m-12.8 .6h0m-4.9 2.7h0m19.4-14.1h0m-7.5 9.5h0m-8.2 13.3h0m7.4-6.9h0m.9 3.8h0m2.3-4.5h0m-6.4 .1h0m-.9-1.1h0m-4.6-2.9h0m4.1 5.8h0m2.5-4.9h0m-2.1-9.2h0m9.1 1.7h0m4.9-.5h0m-8 8.9h0m-2.1 5.8h0m6.2-7.4h0m-8.1 3.1h0m-6.9 13h0m19.5-17.8h0m-20.9 7.7h0m12.4-2.6h0m-2.4 .1h0m8.5 2.6h0m-2.8-4.6h0m.6-3.2h0m-5-5.7h0m2.6 8h0m17.9-3.3h0m-27.4 12.2h0m15.8-10.8h0m3.2-3.5h0m-8 15.2h0m-2.3-13.5h0m7.3-1.3h0m-.2 4.4h0m-5-6.2h0m3.3 2.7h0m-5.3 .5h0m-10.6 .8h0m-7.1 15.8h0m8.3-10h0m9.2-7.3h0m.6 9.5h0m3.6-4.9h0m-16.6 6.9h0m35-12.6h0m-26.3 9.5h0m10.5-7.9h0m-1.9 1.6h0m-4.1-3h0m5.2 2.7h0m-11.6 7.5h0m-3.5 1.3h0m17.6-7.1h0m-4.7-2.7h0m-7.6 4.6h0m.5 1.8h0m-10.4 16.5h0m18.9-19.4h0m-5.7-.8h0m5-5.1h0m-23.2 10.6h0m18.2 4.8h0m7.2-1.5h0m-16.1-6.3h0m9.1-5.5h0m-5.7 6.9h0m-3.1 7.2h0m25.2-21.4h0m-23.9 7.4h0m-4.2 16.6h0m19.2-8.2h0m-5.4-8h0m-8.9 9.3h0m10.9-12.6h0m.1 11.4h0m16.1-2h0m-14.7-.6h0m-4.1-8.5h0m6.4 6h0m.3-5h0m5-9.8h0m-21.8 21.1h0m8.6-5h0m11.7 .3h0m-9.3-9.6h0m2.1 2.1h0m2 18.2h0m-9.3-9.4h0m-1-5.5h0m4.2 1h0m-8.8-8.8h0m.5 25.2h0m-2.8-14.4h0m8.7 5.6h0m-4.6-10h0m9.2 5.2h0m-8.3 11.3h0m22.3-13.2h0m-15.1-.1h0m-1.4 5.6h0m-.3 2.9h0m20.9-12.4h0m-16.4 8h0m4.8-5.3h0m-3.4 4.8h0m-1-10.3h0m-8.9 13.8h0m-10.2 2.6h0m10.7-7.7h0m2.6-1.5h0m-4.9 6.9h0m18.8-7h0m-6.9 5.7h0m1.5-11.8h0m-11 5.3h0m3.3-2.8h0m11.6 9.5h0m-17-1.1h0m-2.1-1.4h0m5.7-3.1h0m5.5 8.6h0m-8.2-4.1h0m-1 2.1h0m13-12.2h0m-7.3-.6h0m-17.4 16.5h0m10.8-9.9h0m1.5 6.6h0m-5.1-1h0m3.8-12.2h0m7.8 7.1h0m12.3-8.4h0m3.2-2.8h0m-29.6 18.4h0m19.2-10.2h0m-12.2 5.5h0m-5.3-2.9h0m11.6 7.8h0m1.6-15.3h0m-8.1 5.2h0m3.9 12.9h0m-3.1-1.8h0m19.2-11.2h0m-5.6 1.8h0m-5.5 .9h0m-7.7-5.3h0m15.2 2.3h0m-5.6-5.9h0m-2.7 10.2h0m-7.1-3.8h0m-7.7 7.8h0m18.1 12.1h0m-3.7-15.9h0m-1.2-11h0m4 2.1h0m-8.4 3h0m12.8 3.9h0m-10.9 6.5h0m-1.3 3.6h0m12.2-9.3h0m-2.1 7.5h0m-5.5-9.6h0m5.6-8.8h0m3.4 8h0m-15.4 4.6h0m-9.8 11.8h0m9.5-14.9h0m17.1-4h0m2.4-.2h0m-11.7 9.2h0m5.8-10.6h0m2.4 3.3h0m-9.7 4.1h0m1.4 9.5h0m-15.1-5.1h0m15.4-2.1h0m6-6.2h0m-2.4-7.3h0m-11.8 12.1h0m-4.3 1.1h0m4.2 3.9h0m11.3-.3h0m-11.5-3h0m24.1-6.9h0m-25.9 14.3h0m26-21.8h0m-11 13.5h0m6.7-15.9h0m-8.3 18.1h0m3.5-18.5h0m-15.2 6.7h0m29.7 3.8h0m-28.2 4.5h0m16.1-11h0m-6.2 10.8h0m-1.6 9.2h0m.2-16.9h0m-.7 2.5h0m17-16.8h0m-15.6 22.3h0m2.3-4.3h0m-5 8.5h0m-7.5-15.5h0m6.5 12.5h0m-4.5 .7h0m-6-1.1h0m18.8-13.7h0m-27.7 22.2h0m16.8-12.4h0m.5 3.7h0m10.4-10h0m-7.6 8.9h0m13.3-7.4h0m-9.2-4.2h0m8.5 8.8h0m-15.5 4h0m-11.1-1.4h0m13.4 7.5h0m14.5-14.7h0m-11 7.4h0m2.4-21h0m-.3 11.7h0m-11.8 17.5h0m3.2-5.1h0m18.3-18.2h0m7.2 8.1h0m-17.5 12.8h0" stroke="#2c2c9c" stroke-opacity="0.45" stroke-width="0.6" stroke-linecap="square" fill="none"/>
<path d="M356.9 266.1h0m.9 9.7h0m1.6-7.4h0m12.1 1.3h0m-19.6-5h0m5.3 10.9h0m-11.2 1.3h0m22.4-8.2h0m-9.2-.3h0m-7.4 5.6h0m11.3-5.1h0m2.2-3h0m-10.4 3.3h0m-6 2.9h0m4.7 5.7h0m-4.1 8.4h0m2.8-11.4h0m9.4-6.8h0m-.3 3.4h0m-1.1 2.2h0m-.9-2.2h0m-.6-2h0m0 6.1h0m9-10.4h0m-12.8 3.4h0m5.9-6.6h0m3.9 4.2h0m-6.2 4.2h0m8.7-10.1h0m-8.8 5.8h0m-1 8.2h0m-8.1-12.7h0m6 11.2h0m-5.2 6.1h0m4.8-15.9h0m.3 14.4h0m-.2-6.8h0m1 2.9h0m-6.6 .8h0m9.7-3.1h0m-2.6 5.5h0m14.1-9.3h0m-15.6 12.3h0m-.6-3h0m1.8-3.6h0m-7 5.9h0m16.1-10.9h0m9 5.2h0m-19.1-1.8h0m21.8-8.8h0m-19.5 15.7h0m-2.3-13.6h0m11.2 .4h0m-15.6 8h0m16.1-14.6h0m-17.7 23.3h0m8.8-10.1h0m7.7-8.4h0m1.8-7h0m-4.9 25.1h0m3.2-.3h0m.3-25h0m-9.8 25.3h0m-3.7 4.3h0m2.4-10.5h0m-7.9 0h0m15.4-4.1h0m-8.6-6.5h0m-1.3 5.8h0m.2 5h0m-2.6-.2h0m3.9-7.6h0m1.9 12.1h0m20-17.2h0m-20.8 7.8h0m11.4-1.8h0m-1-1.2h0m-4-3h0m-2.8 21.8h0m-8.3-22.3h0m.1 1.1h0m-2.1 4.9h0m7 .5h0m2.5-7.1h0m10.1 2.4h0m4.8 9.9h0m-18.9-4h0m8.5-.7h0m-10 1.3h0m4.4 3.4h0m-7.9-10.5h0m-4.3 7.7h0m23-6.3h0m-20.4-1.1h0m8.9 2.9h0m-7 11.8h0m14-9h0m.3-7.3h0m-3.4 9.4h0m-10.8-1.9h0m7.3-3.4h0m-1.5 .3h0m.3 3.8h0m16.2 0h0m-12.4-1.6h0m5.9-7.9h0m.4 2.9h0m-19.9 16.9h0m5.6 .9h0m1.3-13.3h0m4.2 3.8h0m3.5-5.6h0m6.8 11.1h0m-3.9-14h0m-6.5-2.9h0m-.9 7.8h0m4.9-2.9h0m-4.5 9.7h0m1.8-14.1h0m-8.7 7.6h0m19.4 3.6h0m-13.9 8.3h0m2.7-10h0m2.6-6h0m11.4 5.9h0m-2-5.8h0m-2.8 3.2h0m-10.6 8h0m-5-1.5h0m12.3-11.1h0m-12.9 5.6h0m2.6-1.1h0m6 1.7h0m9.5-12.5h0m-14.9 6.3h0m5.6 13.3h0m12-6h0m-13.6 1.9h0m9.7 2.2h0m3.8-15.1h0m-22.1 10.8h0m9 4.7h0m-1.7-1.6h0m-5.2-8.8h0m1.6 3.4h0m-2 8.7h0m1.9-.8h0m2.3-5.8h0m7.3 1.9h0m-10.7-4.3h0m1.3 6.7h0m6.7-7.8h0m2.5 2h0m6.5-1.3h0m-4.5 2.4h0m5.5-10.4h0m-17.2 14.9h0m10.1-8.7h0m-2.3 2.7h0m1.3 9.6h0m-10.8 7.9h0m2.5-8.2h0m10.2-13.2h0m9.7-2.4h0m-17.3 11.9h0m-13.6 3.1h0m18.7-9.1h0m3.5-1.5h0m-12.9 7.7h0m9.9-8.8h0m-7.8 7.6h0m3.6-1.7h0m-12.3 4.6h0m2-.6h0m23.1-6.4h0m-15.2 10.8h0m2.7 0h0m14.6-18.5h0m-3.7-.2h0m-6.9 8.7h0m-2.5-6.9h0m4.1-.8h0m8 8h0m-8.5 .1h0m-9.6 7.4h0m7.4-9.3h0m0 .9h0m.3 2.1h0m-7.3 .6h0m4.7-2h0m-4.3-7.7h0m12.8 7.2h0m-6.3 8.9h0m-9.4-7.5h0m13 0h0m-7.5-6.7h0m1.7-6.9h0m16.7 1.7h0m-7.1 .2h0m-6.9 2.9h0m-4 9.1h0m1.7-2.1h0m-10.5-3.9h0m7.9 6.8h0m1.4-.3h0m3.4-6.8h0m8.4-3h0m-19.8 12.9h0m11.9-6.5h0m-5.1 2.2h0m1.6 0h0m.1-.8h0m6.7-15.6h0m.4 12.4h0m1.7 7.5h0m-12.5-8.4h0m1.5 12.1h0m4.5-3.1h0m-20.9-13.9h0m18.7 10.8h0m8.3-7.7h0m2 .6h0m-12.6 5h0m8.5 2.3h0m-2.1-7.9h0m-4.4 6.1h0m3.3 3.2h0m-6 1.6h0m4.5 4.2h0m.3-6.8h0m-3.2-.3h0m6.6-11.7h0m-10.9 17.5h0m15.9-9.7h0m-25.5 2.6h0m24.7-7.8h0m-10.5 4.3h0m-17 14.1h0m27.6-15.7h0m-7.6-3.6h0m-.8-.9h0m6.9 10.3h0m-13.7-.7h0m8.1 5.5h0m2-12.7h0m-6.7 13.3h0m19.5-8.7h0m-17.3 6.3h0m-9.2-10.9h0m26.6 1.1h0m-26 9.7h0m5.6-9h0m2.4 12.4h0m-1.7-9.8h0m1.6 1.3h0m-2.2 4h0m7.5 6.6h0m-6.5-3.4h0m-3.7-1.5h0m21.7 .6h0m-16.3-2.3h0m9.8-17.1h0m-11.9 24.7h0m-.5-16.3h0m16.8 9.9h0m-20 5.2h0m6.5-3.2h0m6-15.7h0m-11.2 20.4h0m10.6-8.3h0m-6.3-11.2h0m-9.5 13.4h0m21.2-5.3h0m-12.8-.2h0m-1.7-2.2h0m-2.7 2.5h0m5.4-1.5h0m-3.1 .8h0m5 4.9h0m0-12.5h0m-5.2 13.4h0m3.2-1.3h0m3.2 2.6h0m4.6-.1h0m-1.5-8.2h0m-3 4.1h0m-9.4 1.9h0m-4.3-4.3h0m19-1.5h0m-5.5 7.4h0m-6.5-3.8h0m-1-4.5h0m7 8.8h0m5.5-14.2h0m-10.1 5.7h0m-.3 1.3h0m5.2-3.1h0m7.2-3.9h0m-21.5 5.9h0m11.4-6.9h0m-.1 3h0m-1.9 3.1h0m1.6-2.5h0m1.7 7.4h0m-8 5.5h0m5.9-2.9h0m.3-1.8h0m2.2 4.6h0m-2.9-4.9h0m-.4-9.6h0m6.6 13.5h0m4.9-18.5h0m-16.6 13.6h0m14-8.3h0m-7.1 9.3h0m10.2-6.1h0m-21 2.5h0m20.3-11.5h0m-7.8 13.9h0m8 2.4h0m-3.9 5.7h0m-5.6-9.7h0m-3 0h0m6.4 3.2h0m-8.3-3.7h0m11 .8h0m6.9-1.8h0m-21.5 9.4h0m9.6-8.1h0m-.2 7.4h0m9.6-18.4h0m-12.4 8.6h0m12.3-7.2h0m-12.8 14.2h0m8.7-7.5h0m-3.2 6.8h0m-6.2-10.1h0m19.8 17.6h0" stroke="#4848b8" stroke-opacity="0.45" stroke-width="0.55" stroke-linecap="square" fill="none"/>
<path d="M359 258.6h0m-1.7 12.4h0m6.4-14.2h0m2.5 20.2h0m-11.6-22.4h0m-6.3 20.6h0m6.8-2.9h0m11.6-.3h0m-2.4 .5h0m3.5-5.5h0m-12.4 3h0m-7.3-3.7h0m16.5-1.4h0m-7.7 9.9h0m6.2-10.5h0m1.5 11.8h0m-24.3 3.8h0m11.1-14.4h0m19.4 9.3h0m-15.4-2.9h0m6.4 .4h0m7.5-.5h0m-33.4 .7h0m18.1 2.2h0m16.6-1.5h0m-6.9-11.1h0m-15.9 17.1h0m11.7-4.6h0m-8.9-9.3h0m11.5 17.7h0m-13.8-12.9h0m21.6-4.5h0m-16.5 17.2h0m-4-12.8h0m23.3-3.6h0m-9.2-1.1h0m-4 3.2h0m-12.3 4.5h0m-7.3-7.7h0m17.4 6.3h0m16-17.7h0m-28.1 17.9h0m19.7-4.5h0m2.3-3.4h0m-21.3 5.3h0m20.8-.2h0m-29.6 7.9h0m28.4-2.9h0m-17.8 14.2h0m5.5-8.8h0m10.3-18.1h0m-8.4 1.6h0m3.8-3h0m3.3 4.7h0m-2.9 6.1h0m11.4-7h0m-17.1-2.9h0m13 4.3h0m-3 8.2h0m-.2-11.6h0m-6 21.8h0m-15.3-15h0m10.7 6.4h0m2.8-8.1h0m12.8 1.6h0m2.4 4.7h0m-19.8-4h0m-4.3 8.4h0m15.8-10.2h0m-1.2-3.7h0m-9.8 5h0m6.4 8.6h0m13.5-18.4h0m-1.6 5.3h0m-23.1 13.9h0m13 1.7h0m15.8-7.3h0m-19.4-2.1h0m8.5 7.1h0m-11.1 6.3h0m-2.8-3.9h0m12.9 4.5h0m-11-4.7h0m-18.5-8h0m24.3 8.4h0m10.3-.8h0m-1.9-.9h0m-4.1-9.2h0m-4.2 2.6h0m2.4 2.2h0m4.9-4.2h0m2.8-10.6h0m-17.9 18.3h0m7.8-8.1h0m11 7.4h0m-4.4 11.6h0m-5.2-23.1h0m14.5 .4h0m-19.7-4.9h0m-3.2 3.2h0m-6.1 16.6h0m29.8-5h0m-28.9 13.1h0m15.5-25.3h0m-6.9 20.5h0" stroke="#8080d4" stroke-opacity="0.5" stroke-width="0.5" stroke-linecap="square" fill="none"/>
<path d="M333.0 296.0 L332.5 291.0 L334.5 285.0 L338.0 280.0 L343.5 276.0 L350.0 274.0 L356.0 275.5 L360.0 279.0 L361.0 283.0 L357.5 287.0 L350.0 290.0 L345.0 293.5 L340.0 297.0 L336.0 298.0Z" fill="#2c2c9c" fill-opacity="0.65" filter="url(#b1_6)"/>
<ellipse cx="340.50" cy="290.30" rx="7.80" ry="5.20" transform="rotate(-40 340.50 290.30)" fill="#3a70cc" fill-opacity="0.7" filter="url(#b1_2)"/>
<ellipse cx="340.50" cy="290.30" rx="7.00" ry="4.60" transform="rotate(-40 340.50 290.30)" fill="#3aa6e2" fill-opacity="0.85" filter="url(#b1_0)"/>
<ellipse cx="351.50" cy="284.00" rx="7.00" ry="2.60" transform="rotate(-20 351.50 284.00)" fill="#3aa6e2" fill-opacity="0.9" filter="url(#b0_8)"/>
<ellipse cx="352.50" cy="283.50" rx="3.50" ry="1.20" transform="rotate(-20 352.50 283.50)" fill="#80c84e" fill-opacity="0.8" filter="url(#b0_5)"/>
<ellipse cx="339.20" cy="290.50" rx="4.50" ry="3.80" transform="rotate(-35 339.20 290.50)" fill="#80c84e" fill-opacity="0.95" filter="url(#b0_8)"/>
<ellipse cx="338.80" cy="290.70" rx="2.70" ry="2.30" transform="rotate(-30 338.80 290.70)" fill="#efe040" fill-opacity="1" filter="url(#b0_5)"/>
<ellipse cx="338.70" cy="290.70" rx="1.30" ry="1.20" transform="rotate(0 338.70 290.70)" fill="#e2302a" fill-opacity="1" filter="url(#b0_2)"/>
</g>
<rect x="346.50" y="261.30" width="23.70" height="24.20" fill="none" stroke="#8c8c8c" stroke-width="0.7"/>
<text x="370.40" y="292.60" font-size="4.3" fill="#3a3a3a" text-anchor="middle">14.7</text>
<rect x="329.05" y="253.05" width="49.30" height="49.10" fill="none" stroke="#1e1e1e" stroke-width="1.3"/>
<clipPath id="ck2"><rect x="382.40" y="253.40" width="48.40" height="48.40"/></clipPath>
<g clip-path="url(#ck2)">
<path d="M403.7 274.6h0m-10.4 4.8h0m-1.6 6.7h0m12.3 1h0m-12.2 1h0m3.4-10.4h0m17.6 4.4h0m-16.5 5.1h0m9.3-12.1h0m-13.6 5.8h0m11.6 1.9h0m-7.5-3.8h0m-3 17.5h0m10.9-7.9h0m-13.6 2.9h0m-.2-8.4h0m11.2 7.3h0m-6.9-10h0m-3 16.2h0m19-15h0m-6.3 1.9h0m7.4 1.5h0m-18.6-5.1h0m8.5 .4h0m-4.6-1h0m-8.3 9.8h0m19.5-5h0m-22.3 7.2h0m19.1-4.4h0m-11.8 2.5h0m-4.4-5h0m21.8-4.1h0m-10.7-2h0m-5.8 11h0m8.9-11.6h0m4.3 9.2h0m.5-.2h0m-19.8-1h0m-.4 6.6h0m19.8-15.2h0m-8.3 10.1h0m-5.9 7.7h0m4.5-15.8h0m-6.4 2.4h0m6.8 4.9h0m-2.9 1.7h0m-3-8.8h0m-4.6 9.8h0m4.5 6.6h0m.3-5.6h0m16.2-11.5h0m-20.2 5.7h0m9.3 .9h0m-.6-3.1h0m13.1-2.1h0m-19.2 4.8h0m6.6-4.1h0m-4.9 15.5h0m8.6-21h0m8.5 2.8h0m-10.4 1.1h0m-6.2 13.7h0m5.4-8.6h0m-11.4 3.8h0m2.9 9.1h0m12.5-6.9h0m8.4-10.3h0m-8.5 9h0m-5-.9h0m-6.1 3.2h0m1-7.7h0m12.3-2.3h0m-10.1 10.8h0m-6.9-7h0m5.5 11.4h0m2.9-18.6h0m12.8 3.4h0m-20.2 6.1h0m4.7 1.2h0m12.7-9.6h0m-2.4 1.4h0m6-4.1h0m-12 4.4h0m6.1-.3h0m2.9 6.9h0m-19 8h0m6.7 .4h0m16.8-16.6h0m-14 9.9h0m-7.2 7.4h0m-3.7-4.6h0m22.4-11.3h0m-.7-3.8h0m-16.1 17h0m6.8-12.3h0m9.6-1.8h0m-13.3 15.2h0m18.2-14h0m-9.3 2.9h0m9.1-3.2h0m-24.3 4h0m17.7-2.9h0m-3.5 4.8h0m-6.3 1.5h0m-3.7 3.2h0m8 .3h0m3.6-9.4h0m-10 12.5h0m11.6-13.2h0m-11.7 2.6h0m2.7-2.7h0m-7.9 3h0m5 3.1h0m3.7 .7h0m6.4-2.7h0m-6.1-6.1h0m10.1-1h0m-20.3 8.3h0m15.6-4.4h0m1.2-2.6h0m-12.2 6h0m4.8 3.7h0m-6.3 1.6h0m8.6-10.8h0m-11.1 4.3h0m2 12.8h0m9.8-21.8h0m-7.7 19.2h0m13.4-8.3h0m3.2 1h0m-10.2-6.9h0m-6.5 9.1h0m14.8-2.8h0m-3.9-5.9h0m-10.2 1.1h0m7.7-4.4h0m-8.8 13.4h0m13.5-15.2h0m-8.5 11.5h0m.2-8h0m-1.8 13.1h0m1.9-.2h0m3.7-3.4h0m-6 1.8h0m1.9-12.3h0m1.8-.9h0m4.4-2.5h0m-6.5 12.9h0m-10.4 1.9h0m3.1-4.3h0m2.1-3.3h0m15.7 1.3h0m5.4-4.3h0m-23.5 11.3h0m12.5-10.9h0m-11.3 9.4h0m16.5-11.9h0m-12.4 13.6h0m18.4-6.8h0m-6.9-7.7h0m-.7 13.3h0m-16.8 3.4h0m.6 5.1h0m18.8-15.3h0m-10.1 .6h0m2.2-.7h0m-11.4 14.9h0m17.2-12.6h0m-12.5 8.9h0m7.6-7.8h0m-2.9 5.9h0m-4.8 2.9h0m16.1-18.3h0m1.4 3.8h0m-11.9 8.7h0m11.1-10.2h0m-18.3 14.7h0m3.7 2h0m10.3-14.5h0m-17.6 10.7h0m11.5 .9h0m5.8-10.9h0m-3.1 4.1h0m-1.5-1.2h0m6.2-2.3h0m-1.3-1.4h0m-6.2 10.9h0m1.4-10.8h0m4.7-3.6h0m4.9 8.8h0m-11.4-1.2h0m10-1h0m-21.3 5.5h0m13.9-7.8h0m6.5-1.9h0m-7.6 5.4h0m2.8 3.8h0m1.1-10.8h0m-1.9 3.2h0m-10.3 10h0m13.4-6.1h0m-7.9 2.2h0m11.5-11.4h0m-18.9 5.7h0m16.6 6.3h0m-7.2-11.8h0m-4.9 4.1h0m-6.6 17.1h0m16.6-16.6h0m-18.1 11.7h0m12.3-2.6h0m12.7-11.2h0m-9.4 10.8h0m-2.7-13h0m-4.1 5.8h0m-.5 8.6h0m13.8-3.4h0m-10.2-5.7h0m-1.5 4.9h0m4-2.5h0m-10.2-1.2h0m16.4-3.8h0m-9.2 11.9h0m-9 6.6h0m13.9-17.7h0m-12.9 7.5h0m11.2-11h0m-2.5 .6h0m10.5 9.2h0m-3.3 .2h0m-12.6 7.8h0m7.9-10.8h0m-7.8 9.8h0m.2-11.8h0m5.9-3.6h0m1.3 4.7h0m.4 4.7h0m-2.7-5.3h0m-7.6 9h0m10.9-11.1h0m6.8 3.7h0m1.8 1.3h0m-9.9 .4h0m5.6-1.2h0m-1.9-6.1h0m-9.1 12.9h0m1.2-9h0m-8.9 7.5h0m19.4-4.7h0m-18.5 4.8h0m22.1-4.6h0m-23.6 8.5h0m7.1-10.1h0m-4.3 3.7h0m2.8 9.2h0m-2.8-10.8h0m3.1-5h0m-6.9 13.2h0m4.2-8.7h0m5.3 3.5h0m8.4-3.9h0m-11.1 10.1h0m-1.4-11.1h0m8.1-3.5h0m2.5 8.1h0m-8.5-.2h0m-6.4 1h0m6.8 4.6h0m9.1-10.7h0m.8 6.4h0m.3-7.5h0m-5.8 6.5h0m8.3-11.7h0m-12.5 15.7h0m15.3-11.7h0m-.2 5.4h0m-13.1 7.4h0m2.6-2.9h0m6.2-2.1h0m-18.5 7.2h0m7.9-11.4h0m-4.6 12.9h0m4.7-10.9h0m-5.9 9.5h0m1.1-10.4h0m23.1-.8h0m-5.8-6.4h0m-9.4-1.3h0m2.1 7.4h0m-3.3 .8h0m-7.8 5.9h0m7.4-6.9h0m14 1.3h0m-5.3 4.5h0m-1.9-14.9h0m5.4 5.3h0m-18.8 7.7h0m-1.6 4.9h0m22.8-10.5h0m-20.6 13.7h0m14.6-21h0m-18.4 18.4h0m6.4-11.2h0m14.3 4.8h0m.2-1.2h0m.9 .9h0m-19.1-.2h0m11.8-1.1h0m-1.2-1.4h0m5.9 2.2h0m-17.3 2.8h0m15.7-1.4h0m-2.9-2.3h0m2.2-8.5h0m3.2 2.8h0m-7.6 .3h0m-3.2 5.4h0m2.2-8.6h0m.3 13.7h0m-1.5-12.3h0m13-1.5h0m-20.9 15.5h0m20.3-4.3h0m-6.4 .1h0m-6.6 2.5h0m7-7.6h0m-.6-3.3h0m2.2 .3h0m-15.6 14.9h0m7.4-2h0m7.8-17.7h0m1.7 6.8h0m-8.6-4h0m6.6-2.7h0m3.3 4.5h0m-9.3 3h0m-1.5 9.1h0m11.6-3.7h0m-17.6 1.2h0m14.7-8.3h0m-.3 5.2h0m-6.3-5.1h0m8.9-3.9h0m-9.2 4.1h0m7 4.9h0m-.3-10.6h0m-7.7 13.3h0m-4-6.5h0m-7.1 10h0m4.8-8.8h0m15.1 2.9h0m-18 8.7h0m14.3-6.9h0m3.8-3.8h0m-10.9 9.2h0m14.8-13.4h0m-7.3 6.8h0m-5.5-5.2h0m-1.6 .6h0m-4.9 4.3h0m-1.6-.1h0m22.6-3.8h0m-2.6-2.7h0m-4.5-1.4h0m3.3 7.6h0m-5.9 3.3h0m1.8-11.6h0m-9.3 3h0m.2 4.2h0m-7.2 9.2h0m.6 .7h0m12.3-9.6h0m11-.3h0m-16.3 .6h0m-6.3 10.2h0m6.9-4.5h0m4.6-13h0m-7.3 6.4h0m5.4 2h0m-8-3.6h0" stroke="#2c2c9c" stroke-opacity="0.5" stroke-width="0.6" stroke-linecap="square" fill="none"/>
<path d="M404.2 284.3h0m-3.7 3.5h0m1.4-16.6h0m5 6.2h0m-8.9 .6h0m-1.1-3.5h0m16.7-9.8h0m-12.7 22.8h0m9-8.9h0m4.6-9.6h0m-17.7 19.5h0m11.8-15.4h0m-12.4 18.2h0m7.6-21.2h0m1.5-1.5h0m-9.5 8.6h0m-.4 2h0m4.7 6.3h0m7.1-5.6h0m3.7-8.7h0m-5.7 9.5h0m14.4-7.8h0m-2.4 2.3h0m-10.7-9.6h0m4.3 9.2h0m-8.9 1.7h0m-1.2 6.6h0m4.9-15.1h0m-2.4 7.5h0m-6.9 10.6h0m2.1-7.9h0m-.9 6.4h0m2.3-10h0m-4.2 8.5h0m7.7-10.7h0m1.3 .4h0m18-13.3h0m-25.5 24.8h0m.9 3.3h0m18.6-20.5h0m-13.7 8.8h0m4.2 9h0m.6-14.7h0m11.3 4.7h0m-13.9-1.4h0m-3.8 1.9h0m4.6-.4h0m-18.6 20.6h0m20.4-13.3h0m-5.3-1.7h0m10.8-6.4h0m1.4 16.3h0m-12.5-9.8h0m12.8-14.9h0m-24.5 13.3h0m18.8-.6h0m-4-9.3h0m9.5 8.9h0m-12.4 1.6h0m7.3-3.1h0m-4.5-5.7h0m-7 4.1h0m11.6 2.6h0m-6.7 3.2h0m-10.3 10.6h0m6.8-9.2h0m10.5-12.7h0m3.2 3.1h0m-8.4 8.5h0m-10.3 7.5h0m12-5.7h0m-6.3-4.1h0m5.7-2.2h0m-13.1 8.3h0m20.3-13.6h0m-15.2 15.6h0m5.6-7.1h0m-1.3-5.7h0m-4.4 0h0m2.4-3h0m2.3 9.8h0m-15.4 6h0m26.8-6.1h0m-22.2 8.2h0m-2.7-8.4h0m29-8h0m-21 11.9h0m11.8-8.4h0m14.3-7.5h0m-26.7 13.8h0m4.8-6.1h0m-3.2 14.5h0m8-18h0m4.5 5.1h0m-.1-10.5h0m-2.8 4.6h0m4.3-.4h0m-27.4 20.6h0m3.3-3.9h0m13.6-10.6h0m-13.8 5.3h0m7.8-.2h0m20.2-8.3h0m-12.8 12.4h0m-9 2.8h0m8.4-8.7h0m4.1-8.4h0m3.2 1.8h0m12.4-10.5h0m-6.6 10.5h0m-18 16.9h0m-9.4-15.4h0m25.2 2.6h0m-10.4-.9h0m15.3-4.8h0m-18.3 13h0m-8.5-2h0m-3.1-7.8h0m8.8 14.8h0m-4.5-7.8h0m3.6 6.2h0m8.4-8.2h0m-5.6-6.2h0m-1.4 13.2h0m7.4-5.5h0m.4 8.2h0m-6.3-8.7h0m7-10.4h0m2.4-.2h0m7.5 3.5h0m-10.8-1.7h0m-2.9 8.2h0m-17.3 7h0m22.2-20h0m4.7 .7h0m-9.3 3.3h0m5.9 5.7h0m7.9-.1h0m-2.3-5.3h0m-17.1 18.8h0m-5.7-6.8h0m19.2-8.1h0m5.7-6.8h0m-27.6 17.8h0m15-11h0m10.5-6.7h0m-21.3 19.2h0m5.9 3.4h0m2.7-20.8h0m17.4 10.8h0m-29.4 11.7h0m18.3-17.3h0m-.3 2.1h0m-5.8 9.8h0m-3.8 6h0m14.5-29.4h0m-5.1 19.4h0m-8.5-3.6h0m4.6 4.9h0m-5.1-3.7h0m8.8-7.3h0m-14.7 3.4h0m-4.9 4.4h0m-.4 3h0m18.8-8.4h0m-12.3 2.1h0m-2.4-.6h0m4 10h0m-3.4-1.9h0m13.4 5.4h0m-16.1-2.4h0m9.3-12.3h0m7.9 0h0m-10.5 9.1h0m14.4-4.8h0m-7.7 6.4h0m-6.5-16.5h0m11.4 3.7h0m-8.7 12.2h0m3.7-2h0m2.4-3.4h0m5.4-5.5h0m-12.7 11.7h0m11.7-1.6h0m.2-7.8h0m-13.5 2.4h0m4.8-8h0m-7.3 11.6h0m9.8-5h0m8.1-9.3h0m-2.8 3.5h0m-6.1 6.7h0m-15.8 9.9h0m8.8-12.2h0m-8.8 9.1h0m3.8 5.3h0m6.1-19.8h0m3.4 12.5h0m-2.3-4.7h0m2.3-.7h0m-10.7 8h0m18 5.7h0m-7-15.9h0m10.7-5.7h0m-8 1.3h0m11.3-6.5h0m-4.6 14h0m-8.8-.8h0m9.3-2.3h0m-15.2 7.6h0m-1.5-4.6h0m8.1 6.3h0m22.4-7.2h0m-23.5-4.6h0m-.4 15.2h0m-10.2-4.6h0m13.9 2.9h0m-5.5-.1h0m15.4-18.5h0m-10.9-.8h0m-.7 8.6h0m-18.6 16.9h0m18-25.5h0m-11.8 14h0m8.5-3.2h0m-5.5-.4h0m11.8-5.1h0m-2.6 3.4h0m4.8-3h0m4.1-1.2h0m3.5 4.5h0m-20.2 12.2h0m21.1-26.4h0m-13.1 12.9h0m6.4 .9h0m-6.8 9.6h0m-5.7-4.9h0m21.4-2.2h0m-16 4h0m-.7-13.8h0m-8.6 8.2h0m6 .7h0m9.2 3.9h0m7.2 3.3h0m-10.8-3.8h0m7.4-.8h0m-8.4 1.8h0m12-17.9h0m-10.5 14.8h0m-6.9-3.6h0m20.5-10.4h0m-1.7-.5h0m-12.1 16.5h0m-4.9-7h0m-.8 7.7h0m-.1-1h0m-14.9 6.5h0m17.2-11.8h0m-7.8 3.2h0m15.5 3.6h0m-17 1.2h0m21.2-11.1h0m-11.1 2.9h0m1.9 .8h0m-19.8 10.1h0m7.7 6.9h0m16.8-24.4h0m9.1 13.3h0m-15 3.5h0m3.7-11.9h0m-13 7.1h0m.8-11.3h0m13.3 2.8h0m-.8 0h0m17.2-19.6h0m-25.4 32.2h0m22.1-25.8h0m-4.1 3.4h0m-1.6 7.1h0m12.6 1.6h0m-20.3 21.2h0m-13.2-10.5h0m22.8-18.6h0m-17.6 17.6h0m9.7-5.2h0m-10.3 6.1h0m15-2.6h0m-10.4-9.5h0m-.6 4.3h0m7.5-11.7h0m-4.5 6.8h0m11.1 3.5h0m-9.4 4.9h0m-4 3.9h0m2.5-1.4h0m-8.3-13.8h0m6.7 19.7h0" stroke="#2c2c9c" stroke-opacity="0.45" stroke-width="0.6" stroke-linecap="square" fill="none"/>
<path d="M421 263.6h0m-10.9 6.8h0m7.6-.6h0m-9.3 8.9h0m7.7-17.8h0m-3.7 12.8h0m2.5-8.1h0m-7.6 6.5h0m8.4-1.6h0m-8.4-4.5h0m.4 13.2h0m-2.2-.8h0m2.3-7.7h0m10 6.4h0m-5.1-8.7h0m-7.7 12.4h0m15.8-13.6h0m-.3-.7h0m-16.4 11.3h0m13.4-6.9h0m-8.6 2.5h0m9.5 .4h0m1.7-5.8h0m-9.2-2.9h0m-5.8 11.5h0m14.4-9.7h0m-9.2-4.5h0m-3.2 20.6h0m.3-16.7h0m10.7 .9h0m-4.5 1.4h0m-.6 .8h0m-6.5 12.7h0m-2.1-22.8h0m1 12h0m12.3-5.7h0m-2.2-8.5h0m-6.3 23.6h0m-4.6-10.1h0m1.7 .4h0m12.6 1.3h0m-17.3 6.1h0m10.8-7.2h0m5-4.2h0m-12.6 3h0m-4.9 9.4h0m15.3-5.1h0m2.3 7.4h0m-7.6-12.1h0m1.1-4.2h0m-4.7-3.2h0m9.9 5.4h0m-2.4 2.8h0m-12.4 4.1h0m21.6-10h0m-13.1 11.3h0m11.1 .3h0m-1-9.5h0m-4.7 13.4h0m-6.8-11.7h0m-6.6 6h0m10.5 1.5h0m8.9-5.4h0m-5.6 2.9h0m12.8-11h0m-12-5.5h0m-11.4 15.4h0m-8.8 13.4h0m22.2-24h0m-8.2 5.2h0m-.3 7.9h0m-1.2 7.1h0m-7.1 .7h0m12.4-3.3h0m-4.5-20h0m-15.4 21h0m14.2-7.2h0m6 .3h0m-16.5-1.7h0m14.4-3.3h0m-3.1 .9h0m6.7 8.3h0m-17.7-2.4h0m22.9-1.7h0m-14.5-6h0m-5.6 15.3h0m10.9 3.1h0m14.8-26.5h0m-12.2 8.7h0m4.3-3.1h0m-1.9 10.8h0m6-.1h0m-22.5 2.1h0m9 1.3h0m1.7-3.1h0m-6.4 1h0m-2.6 5.5h0m13.2-17.7h0m-7.6 14.7h0m6.7-6.9h0m4.5 8h0m-14-6.5h0m12.6-3h0m-9.4 12.2h0m-4.7-4.4h0m4.4-8.8h0m3.1-13.8h0m-6.3 15.4h0m17.8 .5h0m-1.1-.1h0m-22 11.5h0m3.2-6.5h0m11.3-7h0m-.2-13.7h0m-11.5 13.7h0m3.5 13.5h0m12.7-7.7h0m1-10.9h0m-9.7 15h0m-5.7-9.7h0m1.7 7.4h0m14.1-13.2h0m-.1 .4h0m-1 18.6h0m4.9-21.4h0m-21.8 7.5h0m11.8-1.6h0m2.4 1.8h0m2.5 3.2h0m-7-6.3h0m-2 10.7h0m-1.4 2.1h0m8.1-12.4h0m-14.7 1.6h0m-1.5 2.4h0m10.8-1.8h0m-1.3 10h0m3.5-8.7h0m5.9 1.4h0m-14 10.3h0m-6.2-4.5h0m21.7-9.5h0m-3.7-.1h0m-1.4-10.4h0m-4.9 15.1h0m17.2-8.9h0m-11.9-1.3h0m11.4-1.9h0m-13.1 24.4h0m-13.3-9.7h0m6.7-6.8h0m8.8 .6h0m2.9 8.2h0m-12.1 7.4h0m5.1-4h0m-5-13.1h0m6.8 1.3h0m-9.8 14.2h0m7.3-1.9h0m5.5-16.5h0m-5.4 5.1h0m8.2 15.1h0m-13-8.8h0m10-11.9h0m-12.8 5.1h0m17.7-2.1h0m-11.8-4.4h0m6.2 6.5h0m-10.5-1.7h0m3.3 .4h0m4 2.7h0m.2 5.3h0m.5-2.8h0m4.5-.8h0m-12.8 2.4h0m12.9-8.3h0m3.2 1.1h0m-8.9 9h0m1.4-.8h0m13-10.8h0m-18.9 7.8h0m3.1 1.6h0m2.6 2.6h0m5.7-9.8h0m-11.4 11.2h0m9.4-9.8h0m-.3 7.3h0m-9.4-3.4h0m10.2-3.2h0m-1.6-4h0m-16.1 8h0" stroke="#4848b8" stroke-opacity="0.45" stroke-width="0.55" stroke-linecap="square" fill="none"/>
<path d="M413.3 277h0m-2.4-21.8h0m5.8 10.9h0m-1.8 22.3h0m3.8-15.7h0m-2 7.8h0m-13.4-1.7h0m14.4-3.9h0m-5.7-12.4h0m12.3 5.8h0m-22.4 4.8h0m1.9-5.9h0m15.9-5.8h0m-13.5 4.8h0m10.5 14.3h0m-5.2-24h0m-3.2 23.3h0m-1.6-9.6h0m-6.3-1.8h0m11.6-1.1h0m9.4-5h0m-12.7 17.6h0m11.3-22.5h0m-22.2 21h0m12.2 9.1h0m-9.1-10.3h0m27.3-12h0m-22.7 3.9h0m5 .8h0m13.3-10.3h0m-16.7 24.4h0m12.8-21.9h0m-.8 3.2h0m-15.7 12h0m-2-3.3h0m5.9 3.8h0m1.2-16.1h0m-2.6 14.2h0m11-8.5h0m-15 23.7h0m18.3-21h0m-11.4 5.1h0m-3.9 2.7h0m-.2 4.4h0m9-5.9h0m-1.4-10h0m1.9-8.1h0m-5.6 10.5h0m9.8-4h0m-1 6.3h0m-26.5 9h0m27.5-5.4h0m4.9-1.4h0m-11.5-1.3h0m-4.6-1.1h0m-3 1.5h0m4.4-4.7h0m-3.6-7.6h0m12.1 8.1h0m-2.8-3.6h0m-.8 13.9h0m7.3 3.1h0m-19.7-3.9h0m-.3-4.7h0m4-.5h0m9-13.7h0m-2.6-.4h0m4.6 21.3h0m2-11.2h0m2.6 .5h0m3.7 4.5h0m-19.4 2.8h0m16.6-6.4h0m1.9 3.5h0m-20.1-7.4h0m19.6-4.2h0m-13.7 11.9h0m5.2 4.5h0m7-12.3h0m-3.9 .8h0m-13.4 10.6h0m1.7-9.7h0m7.7-6.8h0m1.9 8.5h0m-5.5-4.1h0m7.3 12.6h0m4.5-6.1h0m-16.8-10.3h0m4 10.8h0m19.4-4.5h0m-15.7-5h0m.4 5.1h0m-7.2-2.8h0m10.8 1.9h0m-3.8-9.9h0m8.2 39.8h0m-13.2-19.6h0m4.3-15.3h0m14-3.4h0m-3.6 20.3h0m-17.6-6.3h0m-.5-7.6h0m13 5.9h0m.2 1.5h0m3.8-6h0m-4.6 11.8h0m-2.7 3.9h0" stroke="#8080d4" stroke-opacity="0.5" stroke-width="0.5" stroke-linecap="square" fill="none"/>
<path d="M386.0 296.0 L385.5 291.0 L387.5 285.0 L391.0 280.0 L396.5 276.0 L403.0 274.0 L409.0 275.5 L413.0 279.0 L414.0 283.0 L410.5 287.0 L403.0 290.0 L398.0 293.5 L393.0 297.0 L389.0 298.0Z" fill="#2c2c9c" fill-opacity="0.65" filter="url(#b1_6)"/>
<ellipse cx="405.00" cy="285.00" rx="8.00" ry="2.60" transform="rotate(-25 405.00 285.00)" fill="#2c2c9c" fill-opacity="0.6" filter="url(#b1_0)"/>
<ellipse cx="393.50" cy="290.30" rx="7.80" ry="5.20" transform="rotate(-40 393.50 290.30)" fill="#3a70cc" fill-opacity="0.7" filter="url(#b1_2)"/>
<ellipse cx="393.50" cy="290.30" rx="7.00" ry="4.60" transform="rotate(-40 393.50 290.30)" fill="#3aa6e2" fill-opacity="0.85" filter="url(#b1_0)"/>
<ellipse cx="404.50" cy="284.00" rx="7.00" ry="2.60" transform="rotate(-20 404.50 284.00)" fill="#3aa6e2" fill-opacity="0.135" filter="url(#b0_8)"/>
<ellipse cx="405.50" cy="283.50" rx="3.50" ry="1.20" transform="rotate(-20 405.50 283.50)" fill="#80c84e" fill-opacity="0.12" filter="url(#b0_5)"/>
<ellipse cx="392.20" cy="290.50" rx="4.50" ry="3.80" transform="rotate(-35 392.20 290.50)" fill="#80c84e" fill-opacity="0.95" filter="url(#b0_8)"/>
<ellipse cx="391.80" cy="290.70" rx="2.70" ry="2.30" transform="rotate(-30 391.80 290.70)" fill="#efe040" fill-opacity="1" filter="url(#b0_5)"/>
<ellipse cx="391.70" cy="290.70" rx="1.30" ry="1.20" transform="rotate(0 391.70 290.70)" fill="#e2302a" fill-opacity="1" filter="url(#b0_2)"/>
</g>
<rect x="399.50" y="261.30" width="23.40" height="24.20" fill="none" stroke="#8c8c8c" stroke-width="0.7"/>
<text x="423.10" y="292.60" font-size="4.3" fill="#3a3a3a" text-anchor="middle">5.9</text>
<rect x="382.05" y="253.05" width="49.10" height="49.10" fill="none" stroke="#1e1e1e" stroke-width="1.3"/>
<defs>
<radialGradient id="rbc" cx="50%" cy="50%" r="50%"><stop offset="0" stop-color="#8a2628"/><stop offset="0.6" stop-color="#9e3434"/><stop offset="1" stop-color="#b04a48" stop-opacity="0.85"/></radialGradient>
<radialGradient id="mono" cx="45%" cy="40%" r="65%"><stop offset="0" stop-color="#c2b2e8"/><stop offset="0.5" stop-color="#a48ad4"/><stop offset="1" stop-color="#8468bc"/></radialGradient>
<radialGradient id="spl" cx="60%" cy="40%" r="70%"><stop offset="0" stop-color="#c4afb2"/><stop offset="0.7" stop-color="#b9a2a7"/><stop offset="1" stop-color="#9c848a"/></radialGradient>
<linearGradient id="v1" x1="0" y1="0" x2="0" y2="1"><stop offset="0" stop-color="#d67d72"/><stop offset="0.15" stop-color="#e09084"/><stop offset="0.85" stop-color="#e09084"/><stop offset="1" stop-color="#d27468"/></linearGradient>
<linearGradient id="v2" x1="0" y1="0" x2="0" y2="1"><stop offset="0" stop-color="#e8aaa0"/><stop offset="0.15" stop-color="#f0bcb3"/><stop offset="0.85" stop-color="#f0bcb3"/><stop offset="1" stop-color="#e6a398"/></linearGradient>
<linearGradient id="v4" x1="0" y1="0" x2="0" y2="1"><stop offset="0" stop-color="#efc2bb"/><stop offset="0.15" stop-color="#f6d3cd"/><stop offset="0.85" stop-color="#f6d3cd"/><stop offset="1" stop-color="#eebdb5"/></linearGradient>
</defs>
<rect x="34.25" y="57.05" width="9.90" height="24.25" fill="#9ba1c3" stroke="#8a90b6" stroke-width="0.5"/>
<rect x="50.05" y="64.55" width="10.00" height="16.75" fill="#d99c8c" stroke="#c98a7b" stroke-width="0.5"/>
<line x1="39.20" y1="53.60" x2="39.20" y2="61.00" stroke="#2f4f8c" stroke-width="0.8"/>
<line x1="37.00" y1="53.60" x2="41.40" y2="53.60" stroke="#2f4f8c" stroke-width="0.8"/>
<line x1="37.00" y1="61.00" x2="41.40" y2="61.00" stroke="#2f4f8c" stroke-width="0.8"/>
<circle cx="38.80" cy="42.10" r="1.15" fill="#2f4f8c"/>
<circle cx="40.60" cy="51.80" r="1.15" fill="#2f4f8c"/>
<circle cx="37.40" cy="52.40" r="1.15" fill="#2f4f8c"/>
<circle cx="39.80" cy="54.30" r="1.15" fill="#2f4f8c"/>
<circle cx="35.90" cy="55.40" r="1.15" fill="#2f4f8c"/>
<circle cx="42.50" cy="55.60" r="1.15" fill="#2f4f8c"/>
<circle cx="37.90" cy="58.60" r="1.15" fill="#2f4f8c"/>
<circle cx="39.40" cy="61.50" r="1.15" fill="#2f4f8c"/>
<circle cx="40.30" cy="63.60" r="1.15" fill="#2f4f8c"/>
<circle cx="39.00" cy="73.60" r="1.15" fill="#2f4f8c"/>
<line x1="55.05" y1="61.50" x2="55.05" y2="67.00" stroke="#b3213d" stroke-width="0.8"/>
<line x1="52.85" y1="61.50" x2="57.25" y2="61.50" stroke="#b3213d" stroke-width="0.8"/>
<line x1="52.85" y1="67.00" x2="57.25" y2="67.00" stroke="#b3213d" stroke-width="0.8"/>
<circle cx="55.00" cy="57.00" r="1.15" fill="#b3213d"/>
<circle cx="55.00" cy="60.80" r="1.15" fill="#b3213d"/>
<circle cx="51.90" cy="64.30" r="1.15" fill="#b3213d"/>
<circle cx="55.00" cy="64.30" r="1.15" fill="#b3213d"/>
<circle cx="58.10" cy="64.90" r="1.15" fill="#b3213d"/>
<circle cx="52.50" cy="66.80" r="1.15" fill="#b3213d"/>
<circle cx="57.50" cy="67.00" r="1.15" fill="#b3213d"/>
<circle cx="51.30" cy="69.90" r="1.15" fill="#b3213d"/>
<circle cx="53.80" cy="70.50" r="1.15" fill="#b3213d"/>
<circle cx="56.30" cy="70.50" r="1.15" fill="#b3213d"/>
<circle cx="58.80" cy="69.90" r="1.15" fill="#b3213d"/>
<line x1="31.40" y1="35.00" x2="31.40" y2="81.75" stroke="#1c1c1c" stroke-width="0.95"/>
<line x1="30.95" y1="81.30" x2="62.50" y2="81.30" stroke="#1c1c1c" stroke-width="0.95"/>
<line x1="28.80" y1="81.30" x2="31.40" y2="81.30" stroke="#1c1c1c" stroke-width="0.8"/>
<text x="26.40" y="83.03" font-size="4.8" fill="#444" text-anchor="end">0.0</text>
<line x1="28.80" y1="70.40" x2="31.40" y2="70.40" stroke="#1c1c1c" stroke-width="0.8"/>
<text x="26.40" y="72.13" font-size="4.8" fill="#444" text-anchor="end">0.2</text>
<line x1="28.80" y1="59.50" x2="31.40" y2="59.50" stroke="#1c1c1c" stroke-width="0.8"/>
<text x="26.40" y="61.23" font-size="4.8" fill="#444" text-anchor="end">0.4</text>
<line x1="28.80" y1="48.60" x2="31.40" y2="48.60" stroke="#1c1c1c" stroke-width="0.8"/>
<text x="26.40" y="50.33" font-size="4.8" fill="#444" text-anchor="end">0.6</text>
<line x1="28.80" y1="37.60" x2="31.40" y2="37.60" stroke="#1c1c1c" stroke-width="0.8"/>
<text x="26.40" y="39.33" font-size="4.8" fill="#444" text-anchor="end">0.8</text>
<line x1="39.20" y1="81.30" x2="39.20" y2="83.90" stroke="#1c1c1c" stroke-width="0.8"/>
<line x1="55.05" y1="81.30" x2="55.05" y2="83.90" stroke="#1c1c1c" stroke-width="0.8"/>
<text x="35.00" y="91.80" font-size="5.0" fill="#1e1e1e" textLength="7.80" lengthAdjust="spacingAndGlyphs">WT</text>
<text x="46.00" y="91.80" font-size="5.0" fill="#1e1e1e" textLength="18.00" lengthAdjust="spacingAndGlyphs">Gdf15<tspan dy="-2.10" font-size="3.40">-/-</tspan><tspan dy="2.10">&#8203;</tspan></text>
<text transform="translate(13.27,58.30) rotate(-90)" x="0" y="0" font-size="6.8" fill="#1e1e1e" stroke="#1e1e1e" stroke-width="0.12" text-anchor="middle" textLength="50.60" lengthAdjust="spacingAndGlyphs">Monocyte (K/uL)</text>
<text x="55.00" y="55.20" font-size="5.0" fill="#1e1e1e" text-anchor="middle">**</text>
<rect x="96.55" y="48.25" width="9.20" height="33.05" fill="#9ba1c3" stroke="#8a90b6" stroke-width="0.5"/>
<rect x="112.55" y="58.25" width="9.70" height="23.05" fill="#d99c8c" stroke="#c98a7b" stroke-width="0.5"/>
<line x1="101.15" y1="46.00" x2="101.15" y2="50.00" stroke="#2f4f8c" stroke-width="0.8"/>
<line x1="98.95" y1="46.00" x2="103.35" y2="46.00" stroke="#2f4f8c" stroke-width="0.8"/>
<line x1="98.95" y1="50.00" x2="103.35" y2="50.00" stroke="#2f4f8c" stroke-width="0.8"/>
<circle cx="101.30" cy="40.10" r="1.15" fill="#2f4f8c"/>
<circle cx="99.40" cy="43.60" r="1.15" fill="#2f4f8c"/>
<circle cx="102.50" cy="44.30" r="1.15" fill="#2f4f8c"/>
<circle cx="98.10" cy="46.50" r="1.15" fill="#2f4f8c"/>
<circle cx="103.80" cy="46.80" r="1.15" fill="#2f4f8c"/>
<circle cx="100.60" cy="48.60" r="1.15" fill="#2f4f8c"/>
<circle cx="101.90" cy="51.10" r="1.15" fill="#2f4f8c"/>
<circle cx="98.80" cy="52.40" r="1.15" fill="#2f4f8c"/>
<circle cx="102.50" cy="53.60" r="1.15" fill="#2f4f8c"/>
<circle cx="100.00" cy="55.50" r="1.15" fill="#2f4f8c"/>
<line x1="117.40" y1="53.50" x2="117.40" y2="62.50" stroke="#b3213d" stroke-width="0.8"/>
<line x1="115.20" y1="53.50" x2="119.60" y2="53.50" stroke="#b3213d" stroke-width="0.8"/>
<line x1="115.20" y1="62.50" x2="119.60" y2="62.50" stroke="#b3213d" stroke-width="0.8"/>
<circle cx="117.50" cy="49.30" r="1.15" fill="#b3213d"/>
<circle cx="114.40" cy="51.80" r="1.15" fill="#b3213d"/>
<circle cx="120.00" cy="51.80" r="1.15" fill="#b3213d"/>
<circle cx="115.60" cy="55.50" r="1.15" fill="#b3213d"/>
<circle cx="118.80" cy="55.50" r="1.15" fill="#b3213d"/>
<circle cx="116.90" cy="61.10" r="1.15" fill="#b3213d"/>
<circle cx="113.80" cy="64.90" r="1.15" fill="#b3213d"/>
<circle cx="121.30" cy="64.90" r="1.15" fill="#b3213d"/>
<circle cx="115.60" cy="67.80" r="1.15" fill="#b3213d"/>
<circle cx="118.10" cy="67.80" r="1.15" fill="#b3213d"/>
<circle cx="120.00" cy="66.80" r="1.15" fill="#b3213d"/>
<line x1="93.50" y1="35.00" x2="93.50" y2="81.75" stroke="#1c1c1c" stroke-width="0.95"/>
<line x1="93.05" y1="81.30" x2="123.80" y2="81.30" stroke="#1c1c1c" stroke-width="0.95"/>
<line x1="90.90" y1="81.30" x2="93.50" y2="81.30" stroke="#1c1c1c" stroke-width="0.8"/>
<text x="88.50" y="83.03" font-size="4.8" fill="#444" text-anchor="end">0</text>
<line x1="90.90" y1="66.80" x2="93.50" y2="66.80" stroke="#1c1c1c" stroke-width="0.8"/>
<text x="88.50" y="68.53" font-size="4.8" fill="#444" text-anchor="end">2</text>
<line x1="90.90" y1="52.30" x2="93.50" y2="52.30" stroke="#1c1c1c" stroke-width="0.8"/>
<text x="88.50" y="54.03" font-size="4.8" fill="#444" text-anchor="end">4</text>
<line x1="90.90" y1="37.80" x2="93.50" y2="37.80" stroke="#1c1c1c" stroke-width="0.8"/>
<text x="88.50" y="39.53" font-size="4.8" fill="#444" text-anchor="end">6</text>
<line x1="101.15" y1="81.30" x2="101.15" y2="83.90" stroke="#1c1c1c" stroke-width="0.8"/>
<line x1="117.40" y1="81.30" x2="117.40" y2="83.90" stroke="#1c1c1c" stroke-width="0.8"/>
<text x="97.00" y="91.80" font-size="5.0" fill="#1e1e1e" textLength="7.40" lengthAdjust="spacingAndGlyphs">WT</text>
<text x="108.50" y="91.80" font-size="5.0" fill="#1e1e1e" textLength="17.50" lengthAdjust="spacingAndGlyphs">Gdf15<tspan dy="-2.10" font-size="3.40">-/-</tspan><tspan dy="2.10">&#8203;</tspan></text>
<text transform="translate(79.37,58.05) rotate(-90)" x="0" y="0" font-size="6.8" fill="#1e1e1e" stroke="#1e1e1e" stroke-width="0.12" text-anchor="middle" textLength="42.50" lengthAdjust="spacingAndGlyphs">Monocyte (%)</text>
<text x="117.50" y="47.60" font-size="5.0" fill="#1e1e1e" text-anchor="middle">**</text>
<rect x="181.45" y="50.35" width="9.40" height="31.05" fill="#9ba1c3" stroke="#8a90b6" stroke-width="0.5"/>
<rect x="197.15" y="54.45" width="9.40" height="26.95" fill="#d99c8c" stroke="#c98a7b" stroke-width="0.5"/>
<line x1="186.15" y1="46.60" x2="186.15" y2="53.50" stroke="#2f4f8c" stroke-width="0.8"/>
<line x1="183.95" y1="46.60" x2="188.35" y2="46.60" stroke="#2f4f8c" stroke-width="0.8"/>
<line x1="183.95" y1="53.50" x2="188.35" y2="53.50" stroke="#2f4f8c" stroke-width="0.8"/>
<circle cx="186.00" cy="41.80" r="1.15" fill="#2f4f8c"/>
<circle cx="186.00" cy="47.20" r="1.15" fill="#2f4f8c"/>
<circle cx="186.00" cy="53.70" r="1.15" fill="#2f4f8c"/>
<circle cx="186.00" cy="56.90" r="1.15" fill="#2f4f8c"/>
<line x1="201.85" y1="52.40" x2="201.85" y2="55.80" stroke="#b3213d" stroke-width="0.8"/>
<line x1="199.65" y1="52.40" x2="204.05" y2="52.40" stroke="#b3213d" stroke-width="0.8"/>
<line x1="199.65" y1="55.80" x2="204.05" y2="55.80" stroke="#b3213d" stroke-width="0.8"/>
<circle cx="201.80" cy="49.90" r="1.15" fill="#b3213d"/>
<circle cx="201.80" cy="53.40" r="1.15" fill="#b3213d"/>
<circle cx="200.60" cy="57.90" r="1.15" fill="#b3213d"/>
<circle cx="203.00" cy="57.50" r="1.15" fill="#b3213d"/>
<circle cx="201.80" cy="56.90" r="1.15" fill="#b3213d"/>
<line x1="178.60" y1="35.00" x2="178.60" y2="81.85" stroke="#1c1c1c" stroke-width="0.95"/>
<line x1="178.15" y1="81.40" x2="209.00" y2="81.40" stroke="#1c1c1c" stroke-width="0.95"/>
<line x1="176.00" y1="81.40" x2="178.60" y2="81.40" stroke="#1c1c1c" stroke-width="0.8"/>
<text x="173.60" y="83.13" font-size="4.8" fill="#444" text-anchor="end">0</text>
<line x1="176.00" y1="72.50" x2="178.60" y2="72.50" stroke="#1c1c1c" stroke-width="0.8"/>
<text x="173.60" y="74.23" font-size="4.8" fill="#444" text-anchor="end">5</text>
<line x1="176.00" y1="63.60" x2="178.60" y2="63.60" stroke="#1c1c1c" stroke-width="0.8"/>
<text x="173.60" y="65.33" font-size="4.8" fill="#444" text-anchor="end">10</text>
<line x1="176.00" y1="54.80" x2="178.60" y2="54.80" stroke="#1c1c1c" stroke-width="0.8"/>
<text x="173.60" y="56.53" font-size="4.8" fill="#444" text-anchor="end">15</text>
<line x1="176.00" y1="45.90" x2="178.60" y2="45.90" stroke="#1c1c1c" stroke-width="0.8"/>
<text x="173.60" y="47.63" font-size="4.8" fill="#444" text-anchor="end">20</text>
<line x1="176.00" y1="37.10" x2="178.60" y2="37.10" stroke="#1c1c1c" stroke-width="0.8"/>
<text x="173.60" y="38.83" font-size="4.8" fill="#444" text-anchor="end">25</text>
<line x1="186.15" y1="81.40" x2="186.15" y2="84.00" stroke="#1c1c1c" stroke-width="0.8"/>
<line x1="201.85" y1="81.40" x2="201.85" y2="84.00" stroke="#1c1c1c" stroke-width="0.8"/>
<text x="182.00" y="91.80" font-size="5.0" fill="#1e1e1e" textLength="7.60" lengthAdjust="spacingAndGlyphs">WT</text>
<text x="193.00" y="91.80" font-size="5.0" fill="#1e1e1e" textLength="18.00" lengthAdjust="spacingAndGlyphs">Gdf15<tspan dy="-2.10" font-size="3.40">-/-</tspan><tspan dy="2.10">&#8203;</tspan></text>
<text transform="translate(151.47,57.80) rotate(-90)" x="0" y="0" font-size="6.8" fill="#1e1e1e" stroke="#1e1e1e" stroke-width="0.12" text-anchor="middle" textLength="74.00" lengthAdjust="spacingAndGlyphs">%F4/80<tspan dy="-2.86" font-size="4.62">high</tspan><tspan dy="2.86">&#8203;</tspan>CD11b<tspan dy="-2.86" font-size="4.62">+</tspan><tspan dy="2.86">&#8203;</tspan>Ly6C<tspan dy="-2.86" font-size="4.62">+</tspan><tspan dy="2.86">&#8203;</tspan></text>
<text transform="translate(161.77,59.35) rotate(-90)" x="0" y="0" font-size="6.8" fill="#1e1e1e" stroke="#1e1e1e" stroke-width="0.12" text-anchor="middle" textLength="30.70" lengthAdjust="spacingAndGlyphs">monocytes</text>
<rect x="379.15" y="48.25" width="9.60" height="33.05" fill="#9ba1c3" stroke="#8a90b6" stroke-width="0.5"/>
<rect x="395.05" y="69.35" width="9.60" height="11.95" fill="#d99c8c" stroke="#c98a7b" stroke-width="0.5"/>
<line x1="383.95" y1="46.70" x2="383.95" y2="50.60" stroke="#2f4f8c" stroke-width="0.8"/>
<line x1="381.75" y1="46.70" x2="386.15" y2="46.70" stroke="#2f4f8c" stroke-width="0.8"/>
<line x1="381.75" y1="50.60" x2="386.15" y2="50.60" stroke="#2f4f8c" stroke-width="0.8"/>
<circle cx="382.20" cy="45.40" r="1.15" fill="#2f4f8c"/>
<circle cx="385.20" cy="46.40" r="1.15" fill="#2f4f8c"/>
<circle cx="383.40" cy="49.80" r="1.15" fill="#2f4f8c"/>
<circle cx="383.80" cy="52.00" r="1.15" fill="#2f4f8c"/>
<line x1="399.85" y1="65.10" x2="399.85" y2="74.00" stroke="#b3213d" stroke-width="0.8"/>
<line x1="397.65" y1="65.10" x2="402.05" y2="65.10" stroke="#b3213d" stroke-width="0.8"/>
<line x1="397.65" y1="74.00" x2="402.05" y2="74.00" stroke="#b3213d" stroke-width="0.8"/>
<circle cx="399.70" cy="61.30" r="1.15" fill="#b3213d"/>
<circle cx="399.70" cy="72.10" r="1.15" fill="#b3213d"/>
<circle cx="399.70" cy="74.00" r="1.15" fill="#b3213d"/>
<circle cx="399.70" cy="76.30" r="1.15" fill="#b3213d"/>
<line x1="375.80" y1="30.80" x2="375.80" y2="81.75" stroke="#1c1c1c" stroke-width="0.95"/>
<line x1="375.35" y1="81.30" x2="407.50" y2="81.30" stroke="#1c1c1c" stroke-width="0.95"/>
<line x1="373.20" y1="81.30" x2="375.80" y2="81.30" stroke="#1c1c1c" stroke-width="0.8"/>
<text x="370.80" y="83.03" font-size="4.8" fill="#444" text-anchor="end">7</text>
<line x1="373.20" y1="69.30" x2="375.80" y2="69.30" stroke="#1c1c1c" stroke-width="0.8"/>
<text x="370.80" y="71.03" font-size="4.8" fill="#444" text-anchor="end">8</text>
<line x1="373.20" y1="57.30" x2="375.80" y2="57.30" stroke="#1c1c1c" stroke-width="0.8"/>
<text x="370.80" y="59.03" font-size="4.8" fill="#444" text-anchor="end">9</text>
<line x1="373.20" y1="45.40" x2="375.80" y2="45.40" stroke="#1c1c1c" stroke-width="0.8"/>
<text x="370.80" y="47.13" font-size="4.8" fill="#444" text-anchor="end">10</text>
<line x1="373.20" y1="33.30" x2="375.80" y2="33.30" stroke="#1c1c1c" stroke-width="0.8"/>
<text x="370.80" y="35.03" font-size="4.8" fill="#444" text-anchor="end">11</text>
<line x1="383.95" y1="81.30" x2="383.95" y2="83.90" stroke="#1c1c1c" stroke-width="0.8"/>
<line x1="399.85" y1="81.30" x2="399.85" y2="83.90" stroke="#1c1c1c" stroke-width="0.8"/>
<text x="380.50" y="91.80" font-size="5.0" fill="#1e1e1e" textLength="7.50" lengthAdjust="spacingAndGlyphs">WT</text>
<text x="391.50" y="91.80" font-size="5.0" fill="#1e1e1e" textLength="18.00" lengthAdjust="spacingAndGlyphs">Gdf15<tspan dy="-2.10" font-size="3.40">-/-</tspan><tspan dy="2.10">&#8203;</tspan></text>
<text transform="translate(359.75,55.80) rotate(-90)" x="0" y="0" font-size="6.8" fill="#1e1e1e" stroke="#1e1e1e" stroke-width="0.12" text-anchor="middle" textLength="66.60" lengthAdjust="spacingAndGlyphs">%F4/80<tspan dy="-2.86" font-size="4.62">+</tspan><tspan dy="2.86">&#8203;</tspan>Vcam1<tspan dy="-2.86" font-size="4.62">+</tspan><tspan dy="2.86">&#8203;</tspan> RPMs</text>
<text x="399.70" y="59.30" font-size="5.0" fill="#1e1e1e" text-anchor="middle">*</text>
<rect x="454.35" y="47.25" width="9.50" height="33.95" fill="#9ba1c3" stroke="#8a90b6" stroke-width="0.5"/>
<rect x="470.45" y="64.65" width="9.50" height="16.55" fill="#d99c8c" stroke="#c98a7b" stroke-width="0.5"/>
<line x1="459.10" y1="44.90" x2="459.10" y2="49.60" stroke="#2f4f8c" stroke-width="0.8"/>
<line x1="456.90" y1="44.90" x2="461.30" y2="44.90" stroke="#2f4f8c" stroke-width="0.8"/>
<line x1="456.90" y1="49.60" x2="461.30" y2="49.60" stroke="#2f4f8c" stroke-width="0.8"/>
<circle cx="460.00" cy="41.70" r="1.15" fill="#2f4f8c"/>
<circle cx="457.30" cy="43.80" r="1.15" fill="#2f4f8c"/>
<circle cx="459.00" cy="47.30" r="1.15" fill="#2f4f8c"/>
<circle cx="459.00" cy="54.10" r="1.15" fill="#2f4f8c"/>
<line x1="475.20" y1="63.10" x2="475.20" y2="66.00" stroke="#b3213d" stroke-width="0.8"/>
<line x1="473.00" y1="63.10" x2="477.40" y2="63.10" stroke="#b3213d" stroke-width="0.8"/>
<line x1="473.00" y1="66.00" x2="477.40" y2="66.00" stroke="#b3213d" stroke-width="0.8"/>
<circle cx="475.10" cy="62.20" r="1.15" fill="#b3213d"/>
<circle cx="472.50" cy="64.70" r="1.15" fill="#b3213d"/>
<circle cx="477.90" cy="65.00" r="1.15" fill="#b3213d"/>
<circle cx="475.10" cy="66.90" r="1.15" fill="#b3213d"/>
<line x1="450.90" y1="30.80" x2="450.90" y2="81.65" stroke="#1c1c1c" stroke-width="0.95"/>
<line x1="450.45" y1="81.20" x2="483.50" y2="81.20" stroke="#1c1c1c" stroke-width="0.95"/>
<line x1="448.30" y1="81.20" x2="450.90" y2="81.20" stroke="#1c1c1c" stroke-width="0.8"/>
<text x="445.90" y="82.93" font-size="4.8" fill="#444" text-anchor="end">0</text>
<line x1="448.30" y1="65.50" x2="450.90" y2="65.50" stroke="#1c1c1c" stroke-width="0.8"/>
<text x="445.90" y="67.23" font-size="4.8" fill="#444" text-anchor="end">5</text>
<line x1="448.30" y1="49.40" x2="450.90" y2="49.40" stroke="#1c1c1c" stroke-width="0.8"/>
<text x="445.90" y="51.13" font-size="4.8" fill="#444" text-anchor="end">10</text>
<line x1="448.30" y1="33.30" x2="450.90" y2="33.30" stroke="#1c1c1c" stroke-width="0.8"/>
<text x="445.90" y="35.03" font-size="4.8" fill="#444" text-anchor="end">15</text>
<line x1="459.10" y1="81.20" x2="459.10" y2="83.80" stroke="#1c1c1c" stroke-width="0.8"/>
<line x1="475.20" y1="81.20" x2="475.20" y2="83.80" stroke="#1c1c1c" stroke-width="0.8"/>
<text x="455.30" y="91.80" font-size="5.0" fill="#1e1e1e" textLength="7.20" lengthAdjust="spacingAndGlyphs">WT</text>
<text x="466.50" y="91.80" font-size="5.0" fill="#1e1e1e" textLength="18.00" lengthAdjust="spacingAndGlyphs">Gdf15<tspan dy="-2.10" font-size="3.40">-/-</tspan><tspan dy="2.10">&#8203;</tspan></text>
<text transform="translate(433.95,56.10) rotate(-90)" x="0" y="0" font-size="6.8" fill="#1e1e1e" stroke="#1e1e1e" stroke-width="0.12" text-anchor="middle" textLength="37.00" lengthAdjust="spacingAndGlyphs">%Ccl2<tspan dy="-2.86" font-size="4.62">+</tspan><tspan dy="2.86">&#8203;</tspan> cells</text>
<text x="475.10" y="61.10" font-size="5.0" fill="#1e1e1e" text-anchor="middle">***</text>
<rect x="181.75" y="149.85" width="10.00" height="38.45" fill="#9ba1c3" stroke="#8a90b6" stroke-width="0.5"/>
<rect x="197.35" y="176.35" width="10.10" height="11.95" fill="#d99c8c" stroke="#c98a7b" stroke-width="0.5"/>
<line x1="186.75" y1="148.20" x2="186.75" y2="151.50" stroke="#2f4f8c" stroke-width="0.8"/>
<line x1="184.55" y1="148.20" x2="188.95" y2="148.20" stroke="#2f4f8c" stroke-width="0.8"/>
<line x1="184.55" y1="151.50" x2="188.95" y2="151.50" stroke="#2f4f8c" stroke-width="0.8"/>
<circle cx="183.70" cy="147.50" r="1.15" fill="#2f4f8c"/>
<circle cx="186.40" cy="148.70" r="1.15" fill="#2f4f8c"/>
<circle cx="189.20" cy="147.50" r="1.15" fill="#2f4f8c"/>
<circle cx="186.40" cy="154.60" r="1.15" fill="#2f4f8c"/>
<line x1="202.40" y1="175.20" x2="202.40" y2="177.00" stroke="#b3213d" stroke-width="0.8"/>
<line x1="200.20" y1="175.20" x2="204.60" y2="175.20" stroke="#b3213d" stroke-width="0.8"/>
<line x1="200.20" y1="177.00" x2="204.60" y2="177.00" stroke="#b3213d" stroke-width="0.8"/>
<circle cx="199.50" cy="175.40" r="1.15" fill="#b3213d"/>
<circle cx="202.30" cy="174.60" r="1.15" fill="#b3213d"/>
<circle cx="205.10" cy="175.50" r="1.15" fill="#b3213d"/>
<circle cx="202.30" cy="178.20" r="1.15" fill="#b3213d"/>
<line x1="178.90" y1="138.50" x2="178.90" y2="188.75" stroke="#1c1c1c" stroke-width="0.95"/>
<line x1="178.45" y1="188.30" x2="210.40" y2="188.30" stroke="#1c1c1c" stroke-width="0.95"/>
<line x1="176.30" y1="188.30" x2="178.90" y2="188.30" stroke="#1c1c1c" stroke-width="0.8"/>
<text x="173.90" y="190.03" font-size="4.8" fill="#444" text-anchor="end">0</text>
<line x1="176.30" y1="172.50" x2="178.90" y2="172.50" stroke="#1c1c1c" stroke-width="0.8"/>
<text x="173.90" y="174.23" font-size="4.8" fill="#444" text-anchor="end">20</text>
<line x1="176.30" y1="156.60" x2="178.90" y2="156.60" stroke="#1c1c1c" stroke-width="0.8"/>
<text x="173.90" y="158.33" font-size="4.8" fill="#444" text-anchor="end">40</text>
<line x1="176.30" y1="140.70" x2="178.90" y2="140.70" stroke="#1c1c1c" stroke-width="0.8"/>
<text x="173.90" y="142.43" font-size="4.8" fill="#444" text-anchor="end">60</text>
<line x1="186.75" y1="188.30" x2="186.75" y2="190.90" stroke="#1c1c1c" stroke-width="0.8"/>
<line x1="202.40" y1="188.30" x2="202.40" y2="190.90" stroke="#1c1c1c" stroke-width="0.8"/>
<text x="183.00" y="199.00" font-size="5.0" fill="#1e1e1e" textLength="7.50" lengthAdjust="spacingAndGlyphs">WT</text>
<text x="194.00" y="199.00" font-size="5.0" fill="#1e1e1e" textLength="18.00" lengthAdjust="spacingAndGlyphs">Gdf15<tspan dy="-2.10" font-size="3.40">-/-</tspan><tspan dy="2.10">&#8203;</tspan></text>
<text transform="translate(150.97,164.80) rotate(-90)" x="0" y="0" font-size="6.8" fill="#1e1e1e" stroke="#1e1e1e" stroke-width="0.12" text-anchor="middle" textLength="46.20" lengthAdjust="spacingAndGlyphs">%CD11b<tspan dy="-2.86" font-size="4.62">+</tspan><tspan dy="2.86">&#8203;</tspan>Ly6C<tspan dy="-2.86" font-size="4.62">+</tspan><tspan dy="2.86">&#8203;</tspan></text>
<text transform="translate(161.57,163.35) rotate(-90)" x="0" y="0" font-size="6.8" fill="#1e1e1e" stroke="#1e1e1e" stroke-width="0.12" text-anchor="middle" textLength="60.70" lengthAdjust="spacingAndGlyphs">of Ccl2<tspan dy="-2.86" font-size="4.62">+</tspan><tspan dy="2.86">&#8203;</tspan> monocytes</text>
<text x="202.30" y="173.50" font-size="5.0" fill="#1e1e1e" text-anchor="middle">***</text>
<rect x="272.95" y="149.25" width="9.60" height="38.95" fill="#9ba1c3" stroke="#8a90b6" stroke-width="0.5"/>
<rect x="288.65" y="160.55" width="9.80" height="27.65" fill="#d99c8c" stroke="#c98a7b" stroke-width="0.5"/>
<line x1="277.75" y1="147.10" x2="277.75" y2="151.20" stroke="#2f4f8c" stroke-width="0.8"/>
<line x1="275.55" y1="147.10" x2="279.95" y2="147.10" stroke="#2f4f8c" stroke-width="0.8"/>
<line x1="275.55" y1="151.20" x2="279.95" y2="151.20" stroke="#2f4f8c" stroke-width="0.8"/>
<circle cx="274.40" cy="146.60" r="1.15" fill="#2f4f8c"/>
<circle cx="277.70" cy="146.60" r="1.15" fill="#2f4f8c"/>
<circle cx="280.50" cy="146.60" r="1.15" fill="#2f4f8c"/>
<circle cx="277.70" cy="154.60" r="1.15" fill="#2f4f8c"/>
<line x1="293.55" y1="158.70" x2="293.55" y2="163.30" stroke="#b3213d" stroke-width="0.8"/>
<line x1="291.35" y1="158.70" x2="295.75" y2="158.70" stroke="#b3213d" stroke-width="0.8"/>
<line x1="291.35" y1="163.30" x2="295.75" y2="163.30" stroke="#b3213d" stroke-width="0.8"/>
<circle cx="290.50" cy="157.70" r="1.15" fill="#b3213d"/>
<circle cx="296.30" cy="157.40" r="1.15" fill="#b3213d"/>
<circle cx="293.50" cy="159.90" r="1.15" fill="#b3213d"/>
<circle cx="293.50" cy="168.00" r="1.15" fill="#b3213d"/>
<line x1="269.30" y1="138.70" x2="269.30" y2="188.65" stroke="#1c1c1c" stroke-width="0.95"/>
<line x1="268.85" y1="188.20" x2="301.60" y2="188.20" stroke="#1c1c1c" stroke-width="0.95"/>
<line x1="266.70" y1="188.20" x2="269.30" y2="188.20" stroke="#1c1c1c" stroke-width="0.8"/>
<text x="264.30" y="189.93" font-size="4.8" fill="#444" text-anchor="end">0</text>
<line x1="266.70" y1="173.00" x2="269.30" y2="173.00" stroke="#1c1c1c" stroke-width="0.8"/>
<text x="264.30" y="174.73" font-size="4.8" fill="#444" text-anchor="end">500</text>
<line x1="266.70" y1="157.20" x2="269.30" y2="157.20" stroke="#1c1c1c" stroke-width="0.8"/>
<text x="264.30" y="158.93" font-size="4.8" fill="#444" text-anchor="end">1000</text>
<line x1="266.70" y1="140.90" x2="269.30" y2="140.90" stroke="#1c1c1c" stroke-width="0.8"/>
<text x="264.30" y="142.63" font-size="4.8" fill="#444" text-anchor="end">1500</text>
<line x1="277.75" y1="188.20" x2="277.75" y2="190.80" stroke="#1c1c1c" stroke-width="0.8"/>
<line x1="293.55" y1="188.20" x2="293.55" y2="190.80" stroke="#1c1c1c" stroke-width="0.8"/>
<text x="274.00" y="198.00" font-size="5.0" fill="#1e1e1e" textLength="7.50" lengthAdjust="spacingAndGlyphs">WT</text>
<text x="285.00" y="198.00" font-size="5.0" fill="#1e1e1e" textLength="18.00" lengthAdjust="spacingAndGlyphs">Gdf15<tspan dy="-2.10" font-size="3.40">-/-</tspan><tspan dy="2.10">&#8203;</tspan></text>
<text transform="translate(236.55,163.85) rotate(-90)" x="0" y="0" font-size="6.8" fill="#1e1e1e" stroke="#1e1e1e" stroke-width="0.12" text-anchor="middle" textLength="58.90" lengthAdjust="spacingAndGlyphs">F4/80 MFI of Ccl2<tspan dy="-2.86" font-size="4.62">+</tspan><tspan dy="2.86">&#8203;</tspan></text>
<text transform="translate(246.27,163.85) rotate(-90)" x="0" y="0" font-size="6.8" fill="#1e1e1e" stroke="#1e1e1e" stroke-width="0.12" text-anchor="middle" textLength="77.90" lengthAdjust="spacingAndGlyphs">CD11b<tspan dy="-2.86" font-size="4.62">+</tspan><tspan dy="2.86">&#8203;</tspan>Ly6C<tspan dy="-2.86" font-size="4.62">+</tspan><tspan dy="2.86">&#8203;</tspan> monocytes</text>
<text x="293.50" y="156.60" font-size="5.0" fill="#1e1e1e" text-anchor="middle">**</text>
<rect x="344.35" y="158.55" width="10.10" height="29.65" fill="#9ba1c3" stroke="#8a90b6" stroke-width="0.5"/>
<rect x="360.25" y="166.15" width="10.20" height="22.05" fill="#d99c8c" stroke="#c98a7b" stroke-width="0.5"/>
<line x1="349.40" y1="156.10" x2="349.40" y2="160.30" stroke="#2f4f8c" stroke-width="0.8"/>
<line x1="347.20" y1="156.10" x2="351.60" y2="156.10" stroke="#2f4f8c" stroke-width="0.8"/>
<line x1="347.20" y1="160.30" x2="351.60" y2="160.30" stroke="#2f4f8c" stroke-width="0.8"/>
<circle cx="347.90" cy="153.60" r="1.15" fill="#2f4f8c"/>
<circle cx="351.00" cy="156.10" r="1.15" fill="#2f4f8c"/>
<circle cx="349.30" cy="158.70" r="1.15" fill="#2f4f8c"/>
<circle cx="351.00" cy="161.10" r="1.15" fill="#2f4f8c"/>
<circle cx="347.90" cy="163.30" r="1.15" fill="#2f4f8c"/>
<line x1="365.35" y1="164.30" x2="365.35" y2="167.30" stroke="#b3213d" stroke-width="0.8"/>
<line x1="363.15" y1="164.30" x2="367.55" y2="164.30" stroke="#b3213d" stroke-width="0.8"/>
<line x1="363.15" y1="167.30" x2="367.55" y2="167.30" stroke="#b3213d" stroke-width="0.8"/>
<circle cx="365.30" cy="161.70" r="1.15" fill="#b3213d"/>
<circle cx="365.30" cy="165.00" r="1.15" fill="#b3213d"/>
<circle cx="367.00" cy="167.30" r="1.15" fill="#b3213d"/>
<circle cx="363.70" cy="168.70" r="1.15" fill="#b3213d"/>
<circle cx="363.70" cy="169.70" r="1.15" fill="#b3213d"/>
<line x1="341.60" y1="138.20" x2="341.60" y2="188.65" stroke="#1c1c1c" stroke-width="0.95"/>
<line x1="341.15" y1="188.20" x2="373.40" y2="188.20" stroke="#1c1c1c" stroke-width="0.95"/>
<line x1="339.00" y1="188.20" x2="341.60" y2="188.20" stroke="#1c1c1c" stroke-width="0.8"/>
<text x="336.60" y="189.93" font-size="4.8" fill="#444" text-anchor="end">20</text>
<line x1="339.00" y1="176.40" x2="341.60" y2="176.40" stroke="#1c1c1c" stroke-width="0.8"/>
<text x="336.60" y="178.13" font-size="4.8" fill="#444" text-anchor="end">25</text>
<line x1="339.00" y1="164.50" x2="341.60" y2="164.50" stroke="#1c1c1c" stroke-width="0.8"/>
<text x="336.60" y="166.23" font-size="4.8" fill="#444" text-anchor="end">30</text>
<line x1="339.00" y1="152.70" x2="341.60" y2="152.70" stroke="#1c1c1c" stroke-width="0.8"/>
<text x="336.60" y="154.43" font-size="4.8" fill="#444" text-anchor="end">35</text>
<line x1="339.00" y1="140.70" x2="341.60" y2="140.70" stroke="#1c1c1c" stroke-width="0.8"/>
<text x="336.60" y="142.43" font-size="4.8" fill="#444" text-anchor="end">40</text>
<line x1="349.40" y1="188.20" x2="349.40" y2="190.80" stroke="#1c1c1c" stroke-width="0.8"/>
<line x1="365.35" y1="188.20" x2="365.35" y2="190.80" stroke="#1c1c1c" stroke-width="0.8"/>
<text x="345.50" y="198.00" font-size="5.0" fill="#1e1e1e" textLength="7.50" lengthAdjust="spacingAndGlyphs">WT</text>
<text x="356.50" y="198.00" font-size="5.0" fill="#1e1e1e" textLength="18.00" lengthAdjust="spacingAndGlyphs">Gdf15<tspan dy="-2.10" font-size="3.40">-/-</tspan><tspan dy="2.10">&#8203;</tspan></text>
<text transform="translate(324.07,163.40) rotate(-90)" x="0" y="0" font-size="6.8" fill="#1e1e1e" stroke="#1e1e1e" stroke-width="0.12" text-anchor="middle" textLength="45.80" lengthAdjust="spacingAndGlyphs">Hematocrit (%)</text>
<text x="365.30" y="159.70" font-size="5.0" fill="#1e1e1e" text-anchor="middle">*</text>
<rect x="417.35" y="171.35" width="9.80" height="16.85" fill="#9ba1c3" stroke="#8a90b6" stroke-width="0.5"/>
<rect x="433.25" y="157.35" width="9.50" height="30.85" fill="#d99c8c" stroke="#c98a7b" stroke-width="0.5"/>
<line x1="422.25" y1="168.60" x2="422.25" y2="173.90" stroke="#2f4f8c" stroke-width="0.8"/>
<line x1="420.05" y1="168.60" x2="424.45" y2="168.60" stroke="#2f4f8c" stroke-width="0.8"/>
<line x1="420.05" y1="173.90" x2="424.45" y2="173.90" stroke="#2f4f8c" stroke-width="0.8"/>
<circle cx="422.10" cy="164.50" r="1.15" fill="#2f4f8c"/>
<circle cx="421.30" cy="172.00" r="1.15" fill="#2f4f8c"/>
<circle cx="423.20" cy="172.90" r="1.15" fill="#2f4f8c"/>
<circle cx="420.90" cy="176.20" r="1.15" fill="#2f4f8c"/>
<line x1="438.00" y1="154.60" x2="438.00" y2="159.90" stroke="#b3213d" stroke-width="0.8"/>
<line x1="435.80" y1="154.60" x2="440.20" y2="154.60" stroke="#b3213d" stroke-width="0.8"/>
<line x1="435.80" y1="159.90" x2="440.20" y2="159.90" stroke="#b3213d" stroke-width="0.8"/>
<circle cx="438.00" cy="149.60" r="1.15" fill="#b3213d"/>
<circle cx="435.30" cy="159.40" r="1.15" fill="#b3213d"/>
<circle cx="438.00" cy="159.90" r="1.15" fill="#b3213d"/>
<circle cx="441.00" cy="159.40" r="1.15" fill="#b3213d"/>
<circle cx="438.00" cy="161.10" r="1.15" fill="#b3213d"/>
<line x1="414.30" y1="138.70" x2="414.30" y2="188.65" stroke="#1c1c1c" stroke-width="0.95"/>
<line x1="413.85" y1="188.20" x2="446.00" y2="188.20" stroke="#1c1c1c" stroke-width="0.95"/>
<line x1="411.70" y1="188.20" x2="414.30" y2="188.20" stroke="#1c1c1c" stroke-width="0.8"/>
<text x="409.30" y="189.93" font-size="4.8" fill="#444" text-anchor="end">0.0</text>
<line x1="411.70" y1="176.40" x2="414.30" y2="176.40" stroke="#1c1c1c" stroke-width="0.8"/>
<text x="409.30" y="178.13" font-size="4.8" fill="#444" text-anchor="end">0.5</text>
<line x1="411.70" y1="164.50" x2="414.30" y2="164.50" stroke="#1c1c1c" stroke-width="0.8"/>
<text x="409.30" y="166.23" font-size="4.8" fill="#444" text-anchor="end">1.0</text>
<line x1="411.70" y1="153.80" x2="414.30" y2="153.80" stroke="#1c1c1c" stroke-width="0.8"/>
<text x="409.30" y="155.53" font-size="4.8" fill="#444" text-anchor="end">1.5</text>
<line x1="411.70" y1="140.90" x2="414.30" y2="140.90" stroke="#1c1c1c" stroke-width="0.8"/>
<text x="409.30" y="142.63" font-size="4.8" fill="#444" text-anchor="end">2.0</text>
<line x1="422.25" y1="188.20" x2="422.25" y2="190.80" stroke="#1c1c1c" stroke-width="0.8"/>
<line x1="438.00" y1="188.20" x2="438.00" y2="190.80" stroke="#1c1c1c" stroke-width="0.8"/>
<text x="418.00" y="198.00" font-size="5.0" fill="#1e1e1e" textLength="7.30" lengthAdjust="spacingAndGlyphs">WT</text>
<text x="429.50" y="198.00" font-size="5.0" fill="#1e1e1e" textLength="18.00" lengthAdjust="spacingAndGlyphs">Gdf15<tspan dy="-2.10" font-size="3.40">-/-</tspan><tspan dy="2.10">&#8203;</tspan></text>
<text transform="translate(395.77,163.30) rotate(-90)" x="0" y="0" font-size="6.8" fill="#1e1e1e" stroke="#1e1e1e" stroke-width="0.12" text-anchor="middle" textLength="51.40" lengthAdjust="spacingAndGlyphs">Monocyte (K/uL)</text>
<text x="438.00" y="147.80" font-size="5.0" fill="#1e1e1e" text-anchor="middle">**</text>
<rect x="482.75" y="169.15" width="9.80" height="19.05" fill="#9ba1c3" stroke="#8a90b6" stroke-width="0.5"/>
<rect x="498.45" y="163.25" width="10.00" height="24.95" fill="#d99c8c" stroke="#c98a7b" stroke-width="0.5"/>
<line x1="487.65" y1="168.30" x2="487.65" y2="170.40" stroke="#2f4f8c" stroke-width="0.8"/>
<line x1="485.45" y1="168.30" x2="489.85" y2="168.30" stroke="#2f4f8c" stroke-width="0.8"/>
<line x1="485.45" y1="170.40" x2="489.85" y2="170.40" stroke="#2f4f8c" stroke-width="0.8"/>
<circle cx="486.50" cy="167.10" r="1.15" fill="#2f4f8c"/>
<circle cx="490.90" cy="167.60" r="1.15" fill="#2f4f8c"/>
<circle cx="488.60" cy="169.90" r="1.15" fill="#2f4f8c"/>
<circle cx="486.50" cy="172.30" r="1.15" fill="#2f4f8c"/>
<line x1="503.45" y1="161.50" x2="503.45" y2="165.00" stroke="#b3213d" stroke-width="0.8"/>
<line x1="501.25" y1="161.50" x2="505.65" y2="161.50" stroke="#b3213d" stroke-width="0.8"/>
<line x1="501.25" y1="165.00" x2="505.65" y2="165.00" stroke="#b3213d" stroke-width="0.8"/>
<circle cx="503.50" cy="158.30" r="1.15" fill="#b3213d"/>
<circle cx="500.50" cy="163.60" r="1.15" fill="#b3213d"/>
<circle cx="506.30" cy="164.10" r="1.15" fill="#b3213d"/>
<circle cx="503.50" cy="166.10" r="1.15" fill="#b3213d"/>
<line x1="479.90" y1="138.70" x2="479.90" y2="188.65" stroke="#1c1c1c" stroke-width="0.95"/>
<line x1="479.45" y1="188.20" x2="511.70" y2="188.20" stroke="#1c1c1c" stroke-width="0.95"/>
<line x1="477.30" y1="188.20" x2="479.90" y2="188.20" stroke="#1c1c1c" stroke-width="0.8"/>
<text x="474.90" y="189.93" font-size="4.8" fill="#444" text-anchor="end">0</text>
<line x1="477.30" y1="173.20" x2="479.90" y2="173.20" stroke="#1c1c1c" stroke-width="0.8"/>
<text x="474.90" y="174.93" font-size="4.8" fill="#444" text-anchor="end">5</text>
<line x1="477.30" y1="157.40" x2="479.90" y2="157.40" stroke="#1c1c1c" stroke-width="0.8"/>
<text x="474.90" y="159.13" font-size="4.8" fill="#444" text-anchor="end">10</text>
<line x1="477.30" y1="141.20" x2="479.90" y2="141.20" stroke="#1c1c1c" stroke-width="0.8"/>
<text x="474.90" y="142.93" font-size="4.8" fill="#444" text-anchor="end">15</text>
<line x1="487.65" y1="188.20" x2="487.65" y2="190.80" stroke="#1c1c1c" stroke-width="0.8"/>
<line x1="503.45" y1="188.20" x2="503.45" y2="190.80" stroke="#1c1c1c" stroke-width="0.8"/>
<text x="484.00" y="198.00" font-size="5.0" fill="#1e1e1e" textLength="7.30" lengthAdjust="spacingAndGlyphs">WT</text>
<text x="495.00" y="198.00" font-size="5.0" fill="#1e1e1e" textLength="18.00" lengthAdjust="spacingAndGlyphs">Gdf15<tspan dy="-2.10" font-size="3.40">-/-</tspan><tspan dy="2.10">&#8203;</tspan></text>
<text transform="translate(462.57,163.70) rotate(-90)" x="0" y="0" font-size="6.8" fill="#1e1e1e" stroke="#1e1e1e" stroke-width="0.12" text-anchor="middle" textLength="42.60" lengthAdjust="spacingAndGlyphs">Monocyte (%)</text>
<text x="503.50" y="156.40" font-size="5.0" fill="#1e1e1e" text-anchor="middle">*</text>
<rect x="171.55" y="285.25" width="10.00" height="16.55" fill="#9ba1c3" stroke="#8a90b6" stroke-width="0.5"/>
<rect x="188.45" y="267.95" width="9.70" height="33.85" fill="#d99c8c" stroke="#c98a7b" stroke-width="0.5"/>
<line x1="176.55" y1="283.80" x2="176.55" y2="286.40" stroke="#2f4f8c" stroke-width="0.8"/>
<line x1="174.35" y1="283.80" x2="178.75" y2="283.80" stroke="#2f4f8c" stroke-width="0.8"/>
<line x1="174.35" y1="286.40" x2="178.75" y2="286.40" stroke="#2f4f8c" stroke-width="0.8"/>
<circle cx="175.10" cy="283.10" r="1.15" fill="#2f4f8c"/>
<circle cx="179.50" cy="283.10" r="1.15" fill="#2f4f8c"/>
<circle cx="177.10" cy="286.00" r="1.15" fill="#2f4f8c"/>
<circle cx="175.10" cy="287.30" r="1.15" fill="#2f4f8c"/>
<line x1="193.30" y1="264.50" x2="193.30" y2="270.10" stroke="#b3213d" stroke-width="0.8"/>
<line x1="191.10" y1="264.50" x2="195.50" y2="264.50" stroke="#b3213d" stroke-width="0.8"/>
<line x1="191.10" y1="270.10" x2="195.50" y2="270.10" stroke="#b3213d" stroke-width="0.8"/>
<circle cx="193.00" cy="258.90" r="1.15" fill="#b3213d"/>
<circle cx="193.00" cy="268.20" r="1.15" fill="#b3213d"/>
<circle cx="194.70" cy="270.40" r="1.15" fill="#b3213d"/>
<circle cx="191.60" cy="272.60" r="1.15" fill="#b3213d"/>
<line x1="168.30" y1="250.50" x2="168.30" y2="302.25" stroke="#1c1c1c" stroke-width="0.95"/>
<line x1="167.85" y1="301.80" x2="201.20" y2="301.80" stroke="#1c1c1c" stroke-width="0.95"/>
<line x1="165.70" y1="301.80" x2="168.30" y2="301.80" stroke="#1c1c1c" stroke-width="0.8"/>
<text x="163.30" y="303.53" font-size="4.8" fill="#444" text-anchor="end">0</text>
<line x1="165.70" y1="290.30" x2="168.30" y2="290.30" stroke="#1c1c1c" stroke-width="0.8"/>
<text x="163.30" y="292.03" font-size="4.8" fill="#444" text-anchor="end">2</text>
<line x1="165.70" y1="277.80" x2="168.30" y2="277.80" stroke="#1c1c1c" stroke-width="0.8"/>
<text x="163.30" y="279.53" font-size="4.8" fill="#444" text-anchor="end">4</text>
<line x1="165.70" y1="265.40" x2="168.30" y2="265.40" stroke="#1c1c1c" stroke-width="0.8"/>
<text x="163.30" y="267.13" font-size="4.8" fill="#444" text-anchor="end">6</text>
<line x1="165.70" y1="252.80" x2="168.30" y2="252.80" stroke="#1c1c1c" stroke-width="0.8"/>
<text x="163.30" y="254.53" font-size="4.8" fill="#444" text-anchor="end">8</text>
<line x1="176.55" y1="301.80" x2="176.55" y2="304.40" stroke="#1c1c1c" stroke-width="0.8"/>
<line x1="193.30" y1="301.80" x2="193.30" y2="304.40" stroke="#1c1c1c" stroke-width="0.8"/>
<text x="172.50" y="312.00" font-size="5.0" fill="#1e1e1e" textLength="7.50" lengthAdjust="spacingAndGlyphs">WT</text>
<text x="184.00" y="312.00" font-size="5.0" fill="#1e1e1e" textLength="18.00" lengthAdjust="spacingAndGlyphs">Gdf15<tspan dy="-2.10" font-size="3.40">-/-</tspan><tspan dy="2.10">&#8203;</tspan></text>
<text transform="translate(146.67,276.40) rotate(-90)" x="0" y="0" font-size="6.8" fill="#1e1e1e" stroke="#1e1e1e" stroke-width="0.12" text-anchor="middle" textLength="50.20" lengthAdjust="spacingAndGlyphs">% CD11b<tspan dy="-2.86" font-size="4.62">+</tspan><tspan dy="2.86">&#8203;</tspan>Ly6C<tspan dy="-2.86" font-size="4.62">+</tspan><tspan dy="2.86">&#8203;</tspan></text>
<text transform="translate(157.57,276.40) rotate(-90)" x="0" y="0" font-size="6.8" fill="#1e1e1e" stroke="#1e1e1e" stroke-width="0.12" text-anchor="middle" textLength="34.60" lengthAdjust="spacingAndGlyphs">monocytes</text>
<text x="193.00" y="256.80" font-size="5.0" fill="#1e1e1e" text-anchor="middle">**</text>
<rect x="273.35" y="268.45" width="9.70" height="33.35" fill="#9ba1c3" stroke="#8a90b6" stroke-width="0.5"/>
<rect x="289.45" y="285.55" width="10.20" height="16.25" fill="#d99c8c" stroke="#c98a7b" stroke-width="0.5"/>
<line x1="278.20" y1="265.70" x2="278.20" y2="270.10" stroke="#2f4f8c" stroke-width="0.8"/>
<line x1="276.00" y1="265.70" x2="280.40" y2="265.70" stroke="#2f4f8c" stroke-width="0.8"/>
<line x1="276.00" y1="270.10" x2="280.40" y2="270.10" stroke="#2f4f8c" stroke-width="0.8"/>
<circle cx="278.00" cy="261.00" r="1.15" fill="#2f4f8c"/>
<circle cx="274.50" cy="271.00" r="1.15" fill="#2f4f8c"/>
<circle cx="276.80" cy="271.50" r="1.15" fill="#2f4f8c"/>
<circle cx="279.10" cy="271.50" r="1.15" fill="#2f4f8c"/>
<circle cx="281.50" cy="271.50" r="1.15" fill="#2f4f8c"/>
<line x1="294.55" y1="282.20" x2="294.55" y2="288.30" stroke="#b3213d" stroke-width="0.8"/>
<line x1="292.35" y1="282.20" x2="296.75" y2="282.20" stroke="#b3213d" stroke-width="0.8"/>
<line x1="292.35" y1="288.30" x2="296.75" y2="288.30" stroke="#b3213d" stroke-width="0.8"/>
<circle cx="293.00" cy="279.70" r="1.15" fill="#b3213d"/>
<circle cx="296.00" cy="279.70" r="1.15" fill="#b3213d"/>
<circle cx="293.00" cy="280.30" r="1.15" fill="#b3213d"/>
<circle cx="296.00" cy="280.30" r="1.15" fill="#b3213d"/>
<circle cx="293.00" cy="291.50" r="1.15" fill="#b3213d"/>
<circle cx="296.00" cy="290.90" r="1.15" fill="#b3213d"/>
<line x1="270.00" y1="250.60" x2="270.00" y2="302.25" stroke="#1c1c1c" stroke-width="0.95"/>
<line x1="269.55" y1="301.80" x2="302.70" y2="301.80" stroke="#1c1c1c" stroke-width="0.95"/>
<line x1="267.40" y1="301.80" x2="270.00" y2="301.80" stroke="#1c1c1c" stroke-width="0.8"/>
<text x="265.00" y="303.53" font-size="4.8" fill="#444" text-anchor="end">10</text>
<line x1="267.40" y1="290.10" x2="270.00" y2="290.10" stroke="#1c1c1c" stroke-width="0.8"/>
<text x="265.00" y="291.83" font-size="4.8" fill="#444" text-anchor="end">12</text>
<line x1="267.40" y1="277.50" x2="270.00" y2="277.50" stroke="#1c1c1c" stroke-width="0.8"/>
<text x="265.00" y="279.23" font-size="4.8" fill="#444" text-anchor="end">14</text>
<line x1="267.40" y1="265.40" x2="270.00" y2="265.40" stroke="#1c1c1c" stroke-width="0.8"/>
<text x="265.00" y="267.13" font-size="4.8" fill="#444" text-anchor="end">16</text>
<line x1="267.40" y1="252.80" x2="270.00" y2="252.80" stroke="#1c1c1c" stroke-width="0.8"/>
<text x="265.00" y="254.53" font-size="4.8" fill="#444" text-anchor="end">18</text>
<line x1="278.20" y1="301.80" x2="278.20" y2="304.40" stroke="#1c1c1c" stroke-width="0.8"/>
<line x1="294.55" y1="301.80" x2="294.55" y2="304.40" stroke="#1c1c1c" stroke-width="0.8"/>
<text x="273.80" y="312.00" font-size="5.0" fill="#1e1e1e" textLength="8.20" lengthAdjust="spacingAndGlyphs">WT</text>
<text x="285.00" y="312.00" font-size="5.0" fill="#1e1e1e" textLength="19.20" lengthAdjust="spacingAndGlyphs">Gdf15-/-</text>
<text transform="translate(241.17,276.75) rotate(-90)" x="0" y="0" font-size="6.8" fill="#1e1e1e" stroke="#1e1e1e" stroke-width="0.12" text-anchor="middle" textLength="80.50" lengthAdjust="spacingAndGlyphs">%F4/80<tspan dy="-2.86" font-size="4.62">+</tspan><tspan dy="2.86">&#8203;</tspan>CD11b<tspan dy="-2.86" font-size="4.62">neg</tspan><tspan dy="2.86">&#8203;</tspan>Ly6C<tspan dy="-2.86" font-size="4.62">neg</tspan><tspan dy="2.86">&#8203;</tspan></text>
<text transform="translate(252.17,276.05) rotate(-90)" x="0" y="0" font-size="6.8" fill="#1e1e1e" stroke="#1e1e1e" stroke-width="0.12" text-anchor="middle" textLength="41.30" lengthAdjust="spacingAndGlyphs">macrophages</text>
<text x="294.50" y="279.20" font-size="5.0" fill="#1e1e1e" text-anchor="middle">**</text>
<rect x="470.35" y="269.35" width="10.10" height="32.45" fill="#9ba1c3" stroke="#8a90b6" stroke-width="0.5"/>
<rect x="486.55" y="284.05" width="10.10" height="17.75" fill="#d99c8c" stroke="#c98a7b" stroke-width="0.5"/>
<line x1="475.40" y1="267.90" x2="475.40" y2="271.00" stroke="#2f4f8c" stroke-width="0.8"/>
<line x1="473.20" y1="267.90" x2="477.60" y2="267.90" stroke="#2f4f8c" stroke-width="0.8"/>
<line x1="473.20" y1="271.00" x2="477.60" y2="271.00" stroke="#2f4f8c" stroke-width="0.8"/>
<circle cx="473.90" cy="266.80" r="1.15" fill="#2f4f8c"/>
<circle cx="476.70" cy="266.80" r="1.15" fill="#2f4f8c"/>
<circle cx="473.90" cy="272.20" r="1.15" fill="#2f4f8c"/>
<circle cx="476.70" cy="272.20" r="1.15" fill="#2f4f8c"/>
<circle cx="475.30" cy="269.60" r="1.15" fill="#2f4f8c"/>
<line x1="491.60" y1="283.10" x2="491.60" y2="285.30" stroke="#b3213d" stroke-width="0.8"/>
<line x1="489.40" y1="283.10" x2="493.80" y2="283.10" stroke="#b3213d" stroke-width="0.8"/>
<line x1="489.40" y1="285.30" x2="493.80" y2="285.30" stroke="#b3213d" stroke-width="0.8"/>
<circle cx="488.80" cy="282.90" r="1.15" fill="#b3213d"/>
<circle cx="491.60" cy="283.80" r="1.15" fill="#b3213d"/>
<circle cx="494.70" cy="281.30" r="1.15" fill="#b3213d"/>
<circle cx="491.60" cy="288.10" r="1.15" fill="#b3213d"/>
<line x1="467.30" y1="251.40" x2="467.30" y2="302.25" stroke="#1c1c1c" stroke-width="0.95"/>
<line x1="466.85" y1="301.80" x2="499.00" y2="301.80" stroke="#1c1c1c" stroke-width="0.95"/>
<line x1="464.70" y1="301.80" x2="467.30" y2="301.80" stroke="#1c1c1c" stroke-width="0.8"/>
<text x="462.30" y="303.53" font-size="4.8" fill="#444" text-anchor="end">0</text>
<line x1="464.70" y1="290.30" x2="467.30" y2="290.30" stroke="#1c1c1c" stroke-width="0.8"/>
<text x="462.30" y="292.03" font-size="4.8" fill="#444" text-anchor="end">5</text>
<line x1="464.70" y1="278.50" x2="467.30" y2="278.50" stroke="#1c1c1c" stroke-width="0.8"/>
<text x="462.30" y="280.23" font-size="4.8" fill="#444" text-anchor="end">10</text>
<line x1="464.70" y1="266.80" x2="467.30" y2="266.80" stroke="#1c1c1c" stroke-width="0.8"/>
<text x="462.30" y="268.53" font-size="4.8" fill="#444" text-anchor="end">15</text>
<line x1="464.70" y1="253.50" x2="467.30" y2="253.50" stroke="#1c1c1c" stroke-width="0.8"/>
<text x="462.30" y="255.23" font-size="4.8" fill="#444" text-anchor="end">20</text>
<line x1="475.40" y1="301.80" x2="475.40" y2="304.40" stroke="#1c1c1c" stroke-width="0.8"/>
<line x1="491.60" y1="301.80" x2="491.60" y2="304.40" stroke="#1c1c1c" stroke-width="0.8"/>
<text x="472.00" y="312.00" font-size="5.0" fill="#1e1e1e" textLength="7.50" lengthAdjust="spacingAndGlyphs">WT</text>
<text x="483.00" y="312.00" font-size="5.0" fill="#1e1e1e" textLength="18.00" lengthAdjust="spacingAndGlyphs">Gdf15<tspan dy="-2.10" font-size="3.40">-/-</tspan><tspan dy="2.10">&#8203;</tspan></text>
<text transform="translate(450.65,276.85) rotate(-90)" x="0" y="0" font-size="6.8" fill="#1e1e1e" stroke="#1e1e1e" stroke-width="0.12" text-anchor="middle" textLength="67.30" lengthAdjust="spacingAndGlyphs">%F4/80<tspan dy="-2.86" font-size="4.62">+</tspan><tspan dy="2.86">&#8203;</tspan>Vcam1<tspan dy="-2.86" font-size="4.62">+</tspan><tspan dy="2.86">&#8203;</tspan>RPMs</text>
<text x="491.60" y="279.70" font-size="5.0" fill="#1e1e1e" text-anchor="middle">***</text>
<rect x="119.35" y="367.85" width="10.00" height="41.75" fill="#9ba1c3" stroke="#8a90b6" stroke-width="0.5"/>
<rect x="136.75" y="385.05" width="10.10" height="24.55" fill="#d99c8c" stroke="#c98a7b" stroke-width="0.5"/>
<line x1="124.35" y1="366.10" x2="124.35" y2="368.80" stroke="#2f4f8c" stroke-width="0.8"/>
<line x1="122.15" y1="366.10" x2="126.55" y2="366.10" stroke="#2f4f8c" stroke-width="0.8"/>
<line x1="122.15" y1="368.80" x2="126.55" y2="368.80" stroke="#2f4f8c" stroke-width="0.8"/>
<circle cx="122.70" cy="364.70" r="1.15" fill="#2f4f8c"/>
<circle cx="125.30" cy="366.40" r="1.15" fill="#2f4f8c"/>
<circle cx="127.60" cy="367.00" r="1.15" fill="#2f4f8c"/>
<circle cx="122.70" cy="370.30" r="1.15" fill="#2f4f8c"/>
<circle cx="123.90" cy="367.60" r="1.15" fill="#2f4f8c"/>
<line x1="141.80" y1="380.90" x2="141.80" y2="387.40" stroke="#b3213d" stroke-width="0.8"/>
<line x1="139.60" y1="380.90" x2="144.00" y2="380.90" stroke="#b3213d" stroke-width="0.8"/>
<line x1="139.60" y1="387.40" x2="144.00" y2="387.40" stroke="#b3213d" stroke-width="0.8"/>
<circle cx="141.60" cy="380.20" r="1.15" fill="#b3213d"/>
<circle cx="140.10" cy="381.50" r="1.15" fill="#b3213d"/>
<circle cx="143.60" cy="383.80" r="1.15" fill="#b3213d"/>
<circle cx="141.60" cy="392.50" r="1.15" fill="#b3213d"/>
<line x1="115.50" y1="356.30" x2="115.50" y2="410.05" stroke="#1c1c1c" stroke-width="0.95"/>
<line x1="115.05" y1="409.60" x2="150.00" y2="409.60" stroke="#1c1c1c" stroke-width="0.95"/>
<line x1="112.90" y1="409.60" x2="115.50" y2="409.60" stroke="#1c1c1c" stroke-width="0.8"/>
<text x="110.50" y="411.33" font-size="4.8" fill="#444" text-anchor="end">0</text>
<line x1="112.90" y1="397.60" x2="115.50" y2="397.60" stroke="#1c1c1c" stroke-width="0.8"/>
<text x="110.50" y="399.33" font-size="4.8" fill="#444" text-anchor="end">5</text>
<line x1="112.90" y1="384.60" x2="115.50" y2="384.60" stroke="#1c1c1c" stroke-width="0.8"/>
<text x="110.50" y="386.33" font-size="4.8" fill="#444" text-anchor="end">10</text>
<line x1="112.90" y1="371.80" x2="115.50" y2="371.80" stroke="#1c1c1c" stroke-width="0.8"/>
<text x="110.50" y="373.53" font-size="4.8" fill="#444" text-anchor="end">15</text>
<line x1="112.90" y1="358.90" x2="115.50" y2="358.90" stroke="#1c1c1c" stroke-width="0.8"/>
<text x="110.50" y="360.63" font-size="4.8" fill="#444" text-anchor="end">20</text>
<line x1="124.35" y1="409.60" x2="124.35" y2="412.20" stroke="#1c1c1c" stroke-width="0.8"/>
<line x1="141.80" y1="409.60" x2="141.80" y2="412.20" stroke="#1c1c1c" stroke-width="0.8"/>
<text x="120.50" y="420.50" font-size="5.0" fill="#1e1e1e" textLength="7.50" lengthAdjust="spacingAndGlyphs">WT</text>
<text x="132.50" y="420.50" font-size="5.0" fill="#1e1e1e" textLength="18.00" lengthAdjust="spacingAndGlyphs">Gdf15<tspan dy="-2.10" font-size="3.40">-/-</tspan><tspan dy="2.10">&#8203;</tspan></text>
<text transform="translate(89.75,384.95) rotate(-90)" x="0" y="0" font-size="6.8" fill="#1e1e1e" stroke="#1e1e1e" stroke-width="0.12" text-anchor="middle" textLength="47.50" lengthAdjust="spacingAndGlyphs">%F4/80<tspan dy="-2.86" font-size="4.62">+</tspan><tspan dy="2.86">&#8203;</tspan>CD169<tspan dy="-2.86" font-size="4.62">+</tspan><tspan dy="2.86">&#8203;</tspan></text>
<text transform="translate(98.77,383.25) rotate(-90)" x="0" y="0" font-size="6.8" fill="#1e1e1e" stroke="#1e1e1e" stroke-width="0.12" text-anchor="middle" textLength="40.70" lengthAdjust="spacingAndGlyphs">macrophages</text>
<text x="141.60" y="379.50" font-size="5.0" fill="#1e1e1e" text-anchor="middle">**</text>
<text x="7.40" y="17.30" font-size="11" fill="#111" textLength="8.20" lengthAdjust="spacingAndGlyphs">A</text>
<text x="141.30" y="17.30" font-size="11" fill="#111" textLength="7.30" lengthAdjust="spacingAndGlyphs">B</text>
<text x="227.20" y="17.30" font-size="11" fill="#111" textLength="7.60" lengthAdjust="spacingAndGlyphs">C</text>
<text x="423.60" y="16.50" font-size="11" fill="#111" textLength="8.50" lengthAdjust="spacingAndGlyphs">D</text>
<text x="7.10" y="118.70" font-size="11" fill="#111" textLength="6.00" lengthAdjust="spacingAndGlyphs">E</text>
<text x="226.20" y="118.80" font-size="11" fill="#111" textLength="5.90" lengthAdjust="spacingAndGlyphs">F</text>
<text x="317.90" y="118.80" font-size="11" fill="#111" textLength="8.10" lengthAdjust="spacingAndGlyphs">G</text>
<text x="389.10" y="119.30" font-size="11" fill="#111" textLength="8.20" lengthAdjust="spacingAndGlyphs">H</text>
<text x="9.40" y="234.60" font-size="11" fill="#111" textLength="2.60" lengthAdjust="spacingAndGlyphs">I</text>
<text x="232.40" y="234.50" font-size="11" fill="#111" textLength="4.70" lengthAdjust="spacingAndGlyphs">J</text>
<text x="317.90" y="234.60" font-size="11" fill="#111" textLength="7.50" lengthAdjust="spacingAndGlyphs">K</text>
<text x="6.90" y="339.90" font-size="11" fill="#111" textLength="6.00" lengthAdjust="spacingAndGlyphs">L</text>
<text x="165.80" y="339.60" font-size="11" fill="#111" textLength="10.30" lengthAdjust="spacingAndGlyphs">M</text>
<text x="7.10" y="452.30" font-size="11" fill="#111" textLength="7.70" lengthAdjust="spacingAndGlyphs">N</text>
<text x="213.20" y="452.60" font-size="11" fill="#111" textLength="8.40" lengthAdjust="spacingAndGlyphs">O</text>
<text x="258.50" y="27.60" font-size="5.0" fill="#1e1e1e" textLength="8.00" lengthAdjust="spacingAndGlyphs">WT</text>
<text x="307.00" y="27.60" font-size="5.0" fill="#1e1e1e" textLength="13.50" lengthAdjust="spacingAndGlyphs">Gdf15<tspan dy="-2.10" font-size="3.40">-/-</tspan><tspan dy="2.10">&#8203;</tspan></text>
<line x1="231.20" y1="82.50" x2="231.20" y2="70.80" stroke="#1c1c1c" stroke-width="1.1"/>
<path d="M229.20 72.00 L231.20 66.80 L233.20 72.00 L231.20 71.00Z" fill="#1c1c1c"/>
<text transform="translate(233.48,56.50) rotate(-90)" x="0" y="0" font-size="8.0" fill="#1e1e1e" stroke="#1e1e1e" stroke-width="0.12" text-anchor="middle" textLength="16.60" lengthAdjust="spacingAndGlyphs">F4/80</text>
<line x1="233.00" y1="87.20" x2="246.60" y2="87.20" stroke="#1c1c1c" stroke-width="1.1"/>
<path d="M245.40 85.20 L250.60 87.20 L245.40 89.20 L246.40 87.20Z" fill="#1c1c1c"/>
<text x="252.70" y="88.90" font-size="7.4" fill="#1e1e1e" textLength="21.30" lengthAdjust="spacingAndGlyphs" stroke="#1e1e1e" stroke-width="0.1">Vcam1</text>
<text x="14.90" y="130.80" font-size="6.4" fill="#1e1e1e" textLength="30.30" lengthAdjust="spacingAndGlyphs" stroke="#1e1e1e" stroke-width="0.15">Ccl2<tspan dy="-2.69" font-size="4.35">+</tspan><tspan dy="2.69">&#8203;</tspan> cells</text>
<line x1="13.30" y1="132.90" x2="46.90" y2="132.90" stroke="#333" stroke-width="0.9"/>
<text x="40.90" y="141.50" font-size="5.0" fill="#1e1e1e" textLength="6.70" lengthAdjust="spacingAndGlyphs">WT</text>
<text x="95.00" y="141.50" font-size="5.0" fill="#1e1e1e" textLength="15.00" lengthAdjust="spacingAndGlyphs">Gdf15<tspan dy="-2.10" font-size="3.40">-/-</tspan><tspan dy="2.10">&#8203;</tspan></text>
<line x1="10.80" y1="201.30" x2="10.80" y2="188.60" stroke="#1c1c1c" stroke-width="1.1"/>
<path d="M8.80 189.80 L10.80 184.60 L12.80 189.80 L10.80 188.80Z" fill="#1c1c1c"/>
<text transform="translate(13.91,171.15) rotate(-90)" x="0" y="0" font-size="7.8" fill="#1e1e1e" stroke="#1e1e1e" stroke-width="0.12" text-anchor="middle" textLength="20.50" lengthAdjust="spacingAndGlyphs">CD11b</text>
<line x1="12.90" y1="205.10" x2="27.20" y2="205.10" stroke="#1c1c1c" stroke-width="1.1"/>
<path d="M26.00 203.10 L31.20 205.10 L26.00 207.10 L27.00 205.10Z" fill="#1c1c1c"/>
<text x="34.50" y="207.80" font-size="7.4" fill="#1e1e1e" textLength="14.50" lengthAdjust="spacingAndGlyphs" stroke="#1e1e1e" stroke-width="0.1">Ly6C</text>
<text x="39.40" y="248.00" font-size="5.0" fill="#1e1e1e" textLength="6.80" lengthAdjust="spacingAndGlyphs">WT</text>
<text x="90.50" y="248.00" font-size="5.0" fill="#1e1e1e" textLength="13.50" lengthAdjust="spacingAndGlyphs">Gdf15<tspan dy="-2.10" font-size="3.40">-/-</tspan><tspan dy="2.10">&#8203;</tspan></text>
<line x1="10.80" y1="305.50" x2="10.80" y2="290.00" stroke="#1c1c1c" stroke-width="1.1"/>
<path d="M8.80 291.20 L10.80 286.00 L12.80 291.20 L10.80 290.20Z" fill="#1c1c1c"/>
<text transform="translate(13.91,275.00) rotate(-90)" x="0" y="0" font-size="7.8" fill="#1e1e1e" stroke="#1e1e1e" stroke-width="0.12" text-anchor="middle" textLength="20.40" lengthAdjust="spacingAndGlyphs">CD11b</text>
<line x1="12.90" y1="308.80" x2="27.20" y2="308.80" stroke="#1c1c1c" stroke-width="1.1"/>
<path d="M26.00 306.80 L31.20 308.80 L26.00 310.80 L27.00 308.80Z" fill="#1c1c1c"/>
<text x="34.50" y="311.50" font-size="7.4" fill="#1e1e1e" textLength="14.50" lengthAdjust="spacingAndGlyphs" stroke="#1e1e1e" stroke-width="0.1">Ly6C</text>
<text x="349.80" y="248.30" font-size="5.0" fill="#1e1e1e" textLength="7.70" lengthAdjust="spacingAndGlyphs">WT</text>
<text x="397.00" y="248.30" font-size="5.0" fill="#1e1e1e" textLength="13.50" lengthAdjust="spacingAndGlyphs">Gdf15<tspan dy="-2.10" font-size="3.40">-/-</tspan><tspan dy="2.10">&#8203;</tspan></text>
<line x1="322.30" y1="305.60" x2="322.30" y2="293.00" stroke="#1c1c1c" stroke-width="1.1"/>
<path d="M320.30 294.20 L322.30 289.00 L324.30 294.20 L322.30 293.20Z" fill="#1c1c1c"/>
<text transform="translate(324.98,276.55) rotate(-90)" x="0" y="0" font-size="8.0" fill="#1e1e1e" stroke="#1e1e1e" stroke-width="0.12" text-anchor="middle" textLength="17.30" lengthAdjust="spacingAndGlyphs">F4/80</text>
<line x1="324.80" y1="308.70" x2="338.20" y2="308.70" stroke="#1c1c1c" stroke-width="1.1"/>
<path d="M337.00 306.70 L342.20 308.70 L337.00 310.70 L338.00 308.70Z" fill="#1c1c1c"/>
<text x="345.00" y="311.40" font-size="7.4" fill="#1e1e1e" textLength="20.20" lengthAdjust="spacingAndGlyphs" stroke="#1e1e1e" stroke-width="0.1">Vcam1</text>
<line x1="20.30" y1="350.50" x2="24.00" y2="350.50" stroke="#4a6ea8" stroke-width="1.0"/>
<text x="27.00" y="352.20" font-size="5.0" fill="#1e1e1e" textLength="7.40" lengthAdjust="spacingAndGlyphs">WT</text>
<line x1="40.00" y1="350.50" x2="44.20" y2="350.50" stroke="#c0404a" stroke-width="1.0"/>
<text x="47.30" y="352.20" font-size="5.0" fill="#555" textLength="15.60" lengthAdjust="spacingAndGlyphs">Gdf15<tspan dy="-2.10" font-size="3.40">-/-</tspan><tspan dy="2.10">&#8203;</tspan></text>
<path d="M25.4 409 C26.4 400 27.2 380 27.9 362 L28.3 359 L28.8 364 C29.3 380 29.8 398 31.2 409 Z" fill="#7a7a7a"/>
<path d="M24.8 409.2 C26.2 402 27.2 380 27.8 363 L28.3 358.6 L28.9 363 C29.4 380 30 396 31 402 C31.8 406 33 406.6 35 406.6 C37 406.6 38.5 405.8 41 405.5 C43.5 405.4 45 406.8 47 408.2 C48 408.9 49 409.1 50 409.2" fill="none" stroke="#4f72ac" stroke-width="0.75"/>
<path d="M24.6 409.2 C26.0 402 27.1 380 27.7 364 L28.2 359.4 L28.9 364 C29.5 382 30.2 398 31.3 404 C32 407.5 34 408.1 36 408.3 C40 408.4 44 408.2 48 408.9 L50 409.2" fill="none" stroke="#c24a55" stroke-width="0.6" stroke-opacity="0.8"/>
<rect x="16.80" y="356.80" width="52.80" height="52.30" fill="none" stroke="#1e1e1e" stroke-width="1.2"/>
<line x1="12.00" y1="415.40" x2="25.60" y2="415.40" stroke="#1c1c1c" stroke-width="1.1"/>
<path d="M24.40 413.40 L29.60 415.40 L24.40 417.40 L25.40 415.40Z" fill="#1c1c1c"/>
<text x="32.80" y="418.10" font-size="7.4" fill="#1e1e1e" textLength="21.20" lengthAdjust="spacingAndGlyphs" stroke="#1e1e1e" stroke-width="0.1">CD169</text>
<text transform="translate(172.43,391.50) rotate(-90)" x="0" y="0" font-size="7.8" fill="#1e1e1e" stroke="#1e1e1e" stroke-width="0.12" text-anchor="middle" textLength="39.00" lengthAdjust="spacingAndGlyphs">Fold change</text>
<text transform="translate(181.03,390.80) rotate(-90)" x="0" y="0" font-size="7.8" fill="#1e1e1e" stroke="#1e1e1e" stroke-width="0.12" text-anchor="middle" textLength="80.20" lengthAdjust="spacingAndGlyphs">comparing 48hrs to 24hrs</text>
<text transform="translate(189.73,390.35) rotate(-90)" x="0" y="0" font-size="7.8" fill="#1e1e1e" stroke="#1e1e1e" stroke-width="0.12" text-anchor="middle" textLength="27.30" lengthAdjust="spacingAndGlyphs">post-PHZ</text>
<rect x="212.50" y="399.20" width="17.30" height="11.40" fill="#fff" stroke="#4b6ea6" stroke-width="0.9"/>
<rect x="236.30" y="388.10" width="16.80" height="11.10" fill="#fff" stroke="#b5404f" stroke-width="0.9"/>
<line x1="221.15" y1="408.40" x2="221.15" y2="412.00" stroke="#2f4f8c" stroke-width="0.8"/>
<line x1="218.55" y1="408.40" x2="223.75" y2="408.40" stroke="#2f4f8c" stroke-width="0.8"/>
<line x1="218.55" y1="412.00" x2="223.75" y2="412.00" stroke="#2f4f8c" stroke-width="0.8"/>
<circle cx="220.80" cy="404.40" r="1.15" fill="#2f4f8c"/>
<circle cx="218.50" cy="411.80" r="1.15" fill="#2f4f8c"/>
<circle cx="220.80" cy="411.80" r="1.15" fill="#2f4f8c"/>
<circle cx="223.10" cy="411.80" r="1.15" fill="#2f4f8c"/>
<line x1="244.70" y1="380.70" x2="244.70" y2="395.40" stroke="#b3213d" stroke-width="0.8"/>
<line x1="242.10" y1="380.70" x2="247.30" y2="380.70" stroke="#b3213d" stroke-width="0.8"/>
<line x1="242.10" y1="395.40" x2="247.30" y2="395.40" stroke="#b3213d" stroke-width="0.8"/>
<circle cx="245.30" cy="374.10" r="1.15" fill="#b3213d"/>
<circle cx="245.30" cy="391.00" r="1.15" fill="#b3213d"/>
<circle cx="245.30" cy="399.70" r="1.15" fill="#b3213d"/>
<line x1="208.00" y1="364.00" x2="208.00" y2="417.70" stroke="#1c1c1c" stroke-width="0.95"/>
<line x1="208.00" y1="399.20" x2="257.60" y2="399.20" stroke="#1c1c1c" stroke-width="0.95"/>
<line x1="205.60" y1="366.50" x2="208.00" y2="366.50" stroke="#1c1c1c" stroke-width="0.8"/>
<text x="203.40" y="368.20" font-size="4.8" fill="#444" text-anchor="end">2.0</text>
<line x1="205.60" y1="382.80" x2="208.00" y2="382.80" stroke="#1c1c1c" stroke-width="0.8"/>
<text x="203.40" y="384.50" font-size="4.8" fill="#444" text-anchor="end">1.5</text>
<line x1="205.60" y1="399.20" x2="208.00" y2="399.20" stroke="#1c1c1c" stroke-width="0.8"/>
<text x="203.40" y="400.90" font-size="4.8" fill="#444" text-anchor="end">1.0</text>
<line x1="205.60" y1="415.50" x2="208.00" y2="415.50" stroke="#1c1c1c" stroke-width="0.8"/>
<text x="203.40" y="417.20" font-size="4.8" fill="#444" text-anchor="end">0.5</text>
<text x="217.30" y="426.30" font-size="5.0" fill="#1e1e1e" textLength="6.90" lengthAdjust="spacingAndGlyphs">WT</text>
<text x="235.50" y="426.30" font-size="5.0" fill="#1e1e1e" textLength="20.70" lengthAdjust="spacingAndGlyphs">Gdf15-/-</text>
<text x="214.70" y="351.80" font-size="6.0" fill="#1e1e1e" textLength="37.30" lengthAdjust="spacingAndGlyphs" stroke="#1e1e1e" stroke-width="0.1">CD11b<tspan dy="-2.52" font-size="4.08">+</tspan><tspan dy="2.52">&#8203;</tspan>Ly6C<tspan dy="-2.52" font-size="4.08">+</tspan><tspan dy="2.52">&#8203;</tspan></text>
<text x="218.20" y="359.30" font-size="6.0" fill="#1e1e1e" textLength="29.40" lengthAdjust="spacingAndGlyphs" stroke="#1e1e1e" stroke-width="0.1">monocytes</text>
<text x="245.30" y="372.90" font-size="5.0" fill="#1e1e1e" text-anchor="middle">*</text>
<rect x="283.40" y="382.00" width="17.30" height="17.20" fill="#fff" stroke="#4b6ea6" stroke-width="0.9"/>
<rect x="308.10" y="390.50" width="17.70" height="8.70" fill="#fff" stroke="#b5404f" stroke-width="0.9"/>
<line x1="292.05" y1="378.40" x2="292.05" y2="385.90" stroke="#2f4f8c" stroke-width="0.8"/>
<line x1="289.45" y1="378.40" x2="294.65" y2="378.40" stroke="#2f4f8c" stroke-width="0.8"/>
<line x1="289.45" y1="385.90" x2="294.65" y2="385.90" stroke="#2f4f8c" stroke-width="0.8"/>
<circle cx="292.00" cy="372.00" r="1.15" fill="#2f4f8c"/>
<circle cx="292.00" cy="384.70" r="1.15" fill="#2f4f8c"/>
<circle cx="292.00" cy="387.60" r="1.15" fill="#2f4f8c"/>
<line x1="316.95" y1="388.00" x2="316.95" y2="393.00" stroke="#b3213d" stroke-width="0.8"/>
<line x1="314.35" y1="388.00" x2="319.55" y2="388.00" stroke="#b3213d" stroke-width="0.8"/>
<line x1="314.35" y1="393.00" x2="319.55" y2="393.00" stroke="#b3213d" stroke-width="0.8"/>
<circle cx="317.10" cy="386.20" r="1.15" fill="#b3213d"/>
<circle cx="317.10" cy="391.00" r="1.15" fill="#b3213d"/>
<circle cx="317.10" cy="395.00" r="1.15" fill="#b3213d"/>
<line x1="279.40" y1="361.60" x2="279.40" y2="414.00" stroke="#1c1c1c" stroke-width="0.95"/>
<line x1="279.40" y1="399.20" x2="329.60" y2="399.20" stroke="#1c1c1c" stroke-width="0.95"/>
<line x1="277.00" y1="364.20" x2="279.40" y2="364.20" stroke="#1c1c1c" stroke-width="0.8"/>
<text x="274.80" y="365.90" font-size="4.8" fill="#444" text-anchor="end">2.5</text>
<line x1="277.00" y1="375.80" x2="279.40" y2="375.80" stroke="#1c1c1c" stroke-width="0.8"/>
<text x="274.80" y="377.50" font-size="4.8" fill="#444" text-anchor="end">2.0</text>
<line x1="277.00" y1="387.20" x2="279.40" y2="387.20" stroke="#1c1c1c" stroke-width="0.8"/>
<text x="274.80" y="388.90" font-size="4.8" fill="#444" text-anchor="end">1.5</text>
<line x1="277.00" y1="399.20" x2="279.40" y2="399.20" stroke="#1c1c1c" stroke-width="0.8"/>
<text x="274.80" y="400.90" font-size="4.8" fill="#444" text-anchor="end">1.0</text>
<line x1="277.00" y1="411.00" x2="279.40" y2="411.00" stroke="#1c1c1c" stroke-width="0.8"/>
<text x="274.80" y="412.70" font-size="4.8" fill="#444" text-anchor="end">0.5</text>
<text x="288.60" y="426.30" font-size="5.0" fill="#1e1e1e" textLength="6.90" lengthAdjust="spacingAndGlyphs">WT</text>
<text x="307.00" y="426.30" font-size="5.0" fill="#1e1e1e" textLength="19.60" lengthAdjust="spacingAndGlyphs">Gdf15-/-</text>
<text x="273.00" y="351.50" font-size="6.0" fill="#1e1e1e" textLength="63.20" lengthAdjust="spacingAndGlyphs" stroke="#1e1e1e" stroke-width="0.1">F4/80<tspan dy="-2.52" font-size="4.08">+</tspan><tspan dy="2.52">&#8203;</tspan>Ly6C<tspan dy="-2.52" font-size="4.08">neg</tspan><tspan dy="2.52">&#8203;</tspan>CD11b<tspan dy="-2.52" font-size="4.08">neg</tspan><tspan dy="2.52">&#8203;</tspan></text>
<text x="286.00" y="359.30" font-size="6.0" fill="#1e1e1e" textLength="36.30" lengthAdjust="spacingAndGlyphs" stroke="#1e1e1e" stroke-width="0.1">macrophages</text>
<text x="309.30" y="381.40" font-size="3.6" fill="#777" textLength="15.10" lengthAdjust="spacingAndGlyphs">p=0.074</text>
<rect x="364.40" y="392.00" width="17.50" height="6.80" fill="#fff" stroke="#4b6ea6" stroke-width="0.9"/>
<rect x="388.50" y="397.90" width="17.10" height="0.90" fill="#fff" stroke="#b5404f" stroke-width="0.9"/>
<line x1="373.15" y1="390.00" x2="373.15" y2="395.50" stroke="#2f4f8c" stroke-width="0.8"/>
<line x1="370.55" y1="390.00" x2="375.75" y2="390.00" stroke="#2f4f8c" stroke-width="0.8"/>
<line x1="370.55" y1="395.50" x2="375.75" y2="395.50" stroke="#2f4f8c" stroke-width="0.8"/>
<circle cx="372.00" cy="388.50" r="1.15" fill="#2f4f8c"/>
<circle cx="369.50" cy="391.50" r="1.15" fill="#2f4f8c"/>
<circle cx="374.50" cy="393.00" r="1.15" fill="#2f4f8c"/>
<circle cx="372.00" cy="395.50" r="1.15" fill="#2f4f8c"/>
<circle cx="370.50" cy="397.00" r="1.15" fill="#2f4f8c"/>
<line x1="397.05" y1="395.40" x2="397.05" y2="402.00" stroke="#b3213d" stroke-width="0.8"/>
<line x1="394.45" y1="395.40" x2="399.65" y2="395.40" stroke="#b3213d" stroke-width="0.8"/>
<line x1="394.45" y1="402.00" x2="399.65" y2="402.00" stroke="#b3213d" stroke-width="0.8"/>
<circle cx="397.00" cy="392.00" r="1.15" fill="#b3213d"/>
<circle cx="397.00" cy="403.40" r="1.15" fill="#b3213d"/>
<circle cx="397.00" cy="404.50" r="1.15" fill="#b3213d"/>
<line x1="360.50" y1="364.60" x2="360.50" y2="418.20" stroke="#1c1c1c" stroke-width="0.95"/>
<line x1="360.50" y1="398.80" x2="409.40" y2="398.80" stroke="#1c1c1c" stroke-width="0.95"/>
<line x1="358.10" y1="366.50" x2="360.50" y2="366.50" stroke="#1c1c1c" stroke-width="0.8"/>
<text x="355.90" y="368.20" font-size="4.8" fill="#444" text-anchor="end">2.0</text>
<line x1="358.10" y1="382.60" x2="360.50" y2="382.60" stroke="#1c1c1c" stroke-width="0.8"/>
<text x="355.90" y="384.30" font-size="4.8" fill="#444" text-anchor="end">1.5</text>
<line x1="358.10" y1="398.80" x2="360.50" y2="398.80" stroke="#1c1c1c" stroke-width="0.8"/>
<text x="355.90" y="400.50" font-size="4.8" fill="#444" text-anchor="end">1.0</text>
<line x1="358.10" y1="415.40" x2="360.50" y2="415.40" stroke="#1c1c1c" stroke-width="0.8"/>
<text x="355.90" y="417.10" font-size="4.8" fill="#444" text-anchor="end">0.5</text>
<text x="368.50" y="426.30" font-size="5.0" fill="#1e1e1e" textLength="7.60" lengthAdjust="spacingAndGlyphs">WT</text>
<text x="387.20" y="426.30" font-size="5.0" fill="#1e1e1e" textLength="20.30" lengthAdjust="spacingAndGlyphs">Gdf15-/-</text>
<text x="365.70" y="351.70" font-size="6.0" fill="#1e1e1e" textLength="38.00" lengthAdjust="spacingAndGlyphs" stroke="#1e1e1e" stroke-width="0.1">F4/80<tspan dy="-2.52" font-size="4.08">+</tspan><tspan dy="2.52">&#8203;</tspan>Vcam1<tspan dy="-2.52" font-size="4.08">+</tspan><tspan dy="2.52">&#8203;</tspan></text>
<text x="378.00" y="359.30" font-size="6.0" fill="#1e1e1e" textLength="14.30" lengthAdjust="spacingAndGlyphs" stroke="#1e1e1e" stroke-width="0.1">RPMs</text>
<text x="389.80" y="387.10" font-size="3.6" fill="#777" textLength="14.90" lengthAdjust="spacingAndGlyphs">p=0.154</text>
<rect x="435.80" y="386.90" width="16.90" height="12.10" fill="#fff" stroke="#4b6ea6" stroke-width="0.9"/>
<rect x="460.00" y="399.00" width="17.70" height="2.50" fill="#fff" stroke="#b5404f" stroke-width="0.9"/>
<line x1="444.25" y1="382.30" x2="444.25" y2="391.90" stroke="#2f4f8c" stroke-width="0.8"/>
<line x1="441.65" y1="382.30" x2="446.85" y2="382.30" stroke="#2f4f8c" stroke-width="0.8"/>
<line x1="441.65" y1="391.90" x2="446.85" y2="391.90" stroke="#2f4f8c" stroke-width="0.8"/>
<circle cx="442.70" cy="377.50" r="1.15" fill="#2f4f8c"/>
<circle cx="446.00" cy="379.80" r="1.15" fill="#2f4f8c"/>
<circle cx="442.70" cy="396.20" r="1.15" fill="#2f4f8c"/>
<circle cx="446.00" cy="395.20" r="1.15" fill="#2f4f8c"/>
<line x1="468.85" y1="398.00" x2="468.85" y2="405.40" stroke="#b3213d" stroke-width="0.8"/>
<line x1="466.25" y1="398.00" x2="471.45" y2="398.00" stroke="#b3213d" stroke-width="0.8"/>
<line x1="466.25" y1="405.40" x2="471.45" y2="405.40" stroke="#b3213d" stroke-width="0.8"/>
<circle cx="469.00" cy="392.70" r="1.15" fill="#b3213d"/>
<circle cx="469.00" cy="402.90" r="1.15" fill="#b3213d"/>
<circle cx="469.00" cy="410.00" r="1.15" fill="#b3213d"/>
<line x1="432.50" y1="364.40" x2="432.50" y2="418.30" stroke="#1c1c1c" stroke-width="0.95"/>
<line x1="432.50" y1="399.00" x2="481.20" y2="399.00" stroke="#1c1c1c" stroke-width="0.95"/>
<line x1="430.10" y1="366.30" x2="432.50" y2="366.30" stroke="#1c1c1c" stroke-width="0.8"/>
<text x="427.90" y="368.00" font-size="4.8" fill="#444" text-anchor="end">2.0</text>
<line x1="430.10" y1="382.70" x2="432.50" y2="382.70" stroke="#1c1c1c" stroke-width="0.8"/>
<text x="427.90" y="384.40" font-size="4.8" fill="#444" text-anchor="end">1.5</text>
<line x1="430.10" y1="399.00" x2="432.50" y2="399.00" stroke="#1c1c1c" stroke-width="0.8"/>
<text x="427.90" y="400.70" font-size="4.8" fill="#444" text-anchor="end">1.0</text>
<line x1="430.10" y1="415.40" x2="432.50" y2="415.40" stroke="#1c1c1c" stroke-width="0.8"/>
<text x="427.90" y="417.10" font-size="4.8" fill="#444" text-anchor="end">0.5</text>
<text x="440.20" y="426.30" font-size="5.0" fill="#1e1e1e" textLength="7.70" lengthAdjust="spacingAndGlyphs">WT</text>
<text x="460.40" y="426.30" font-size="5.0" fill="#1e1e1e" textLength="16.90" lengthAdjust="spacingAndGlyphs">Gdf15<tspan dy="-2.10" font-size="3.40">-/-</tspan><tspan dy="2.10">&#8203;</tspan></text>
<text x="437.70" y="351.60" font-size="6.0" fill="#1e1e1e" textLength="38.10" lengthAdjust="spacingAndGlyphs" stroke="#1e1e1e" stroke-width="0.1">F4/80<tspan dy="-2.52" font-size="4.08">+</tspan><tspan dy="2.52">&#8203;</tspan>CD169<tspan dy="-2.52" font-size="4.08">+</tspan><tspan dy="2.52">&#8203;</tspan></text>
<text x="438.30" y="359.30" font-size="6.0" fill="#1e1e1e" textLength="36.50" lengthAdjust="spacingAndGlyphs" stroke="#1e1e1e" stroke-width="0.1">macrophages</text>
<text x="461.30" y="387.40" font-size="3.6" fill="#777" textLength="14.50" lengthAdjust="spacingAndGlyphs">p=0.063</text>
<text transform="translate(13.73,506.30) rotate(-90)" x="0" y="0" font-size="7.8" fill="#1e1e1e" stroke="#1e1e1e" stroke-width="0.12" text-anchor="middle" textLength="44.20" lengthAdjust="spacingAndGlyphs">Fold change</text>
<text transform="translate(24.63,505.50) rotate(-90)" x="0" y="0" font-size="7.8" fill="#1e1e1e" stroke="#1e1e1e" stroke-width="0.12" text-anchor="middle" textLength="91.00" lengthAdjust="spacingAndGlyphs">comparing 48hrs to 24hrs</text>
<text transform="translate(35.63,503.55) rotate(-90)" x="0" y="0" font-size="7.8" fill="#1e1e1e" stroke="#1e1e1e" stroke-width="0.12" text-anchor="middle" textLength="32.50" lengthAdjust="spacingAndGlyphs">post-PHZ</text>
<text x="64.20" y="473.40" font-size="6.0" fill="#1e1e1e" textLength="17.80" lengthAdjust="spacingAndGlyphs">CD163</text>
<rect x="58.40" y="493.00" width="10.90" height="39.50" fill="#9ba1c3"/>
<rect x="58.00" y="504.30" width="11.80" height="4.80" fill="#fff"/>
<rect x="76.20" y="528.30" width="10.60" height="4.20" fill="#d99c8c"/>
<line x1="63.85" y1="487.00" x2="63.85" y2="499.00" stroke="#2f4f8c" stroke-width="0.8"/>
<line x1="61.65" y1="487.00" x2="66.05" y2="487.00" stroke="#2f4f8c" stroke-width="0.8"/>
<line x1="61.65" y1="499.00" x2="66.05" y2="499.00" stroke="#2f4f8c" stroke-width="0.8"/>
<circle cx="62.60" cy="486.50" r="1.15" fill="#2f4f8c"/>
<circle cx="65.70" cy="487.70" r="1.15" fill="#2f4f8c"/>
<circle cx="63.40" cy="497.40" r="1.15" fill="#2f4f8c"/>
<circle cx="62.30" cy="500.50" r="1.15" fill="#2f4f8c"/>
<circle cx="65.20" cy="494.50" r="1.15" fill="#2f4f8c"/>
<line x1="81.50" y1="526.00" x2="81.50" y2="530.00" stroke="#b3213d" stroke-width="0.8"/>
<line x1="79.30" y1="526.00" x2="83.70" y2="526.00" stroke="#b3213d" stroke-width="0.8"/>
<line x1="79.30" y1="530.00" x2="83.70" y2="530.00" stroke="#b3213d" stroke-width="0.8"/>
<circle cx="79.70" cy="526.20" r="1.15" fill="#b3213d"/>
<circle cx="84.40" cy="526.70" r="1.15" fill="#b3213d"/>
<circle cx="81.80" cy="527.80" r="1.15" fill="#b3213d"/>
<circle cx="79.70" cy="530.90" r="1.15" fill="#b3213d"/>
<circle cx="82.00" cy="529.80" r="1.15" fill="#b3213d"/>
<text x="81.30" y="524.60" font-size="5.0" fill="#1e1e1e" text-anchor="middle">*</text>
<line x1="55.30" y1="478.00" x2="55.30" y2="504.00" stroke="#1c1c1c" stroke-width="0.95"/>
<line x1="55.30" y1="508.40" x2="55.30" y2="532.90" stroke="#1c1c1c" stroke-width="0.95"/>
<line x1="53.60" y1="505.20" x2="57.00" y2="503.20" stroke="#1c1c1c" stroke-width="0.7"/>
<line x1="53.60" y1="509.60" x2="57.00" y2="507.60" stroke="#1c1c1c" stroke-width="0.7"/>
<line x1="54.85" y1="532.50" x2="90.20" y2="532.50" stroke="#1c1c1c" stroke-width="0.95"/>
<line x1="52.80" y1="480.30" x2="55.30" y2="480.30" stroke="#1c1c1c" stroke-width="0.8"/>
<text x="50.50" y="482.00" font-size="4.8" fill="#444" text-anchor="end">150</text>
<line x1="52.80" y1="489.30" x2="55.30" y2="489.30" stroke="#1c1c1c" stroke-width="0.8"/>
<text x="50.50" y="491.00" font-size="4.8" fill="#444" text-anchor="end">100</text>
<line x1="52.80" y1="498.20" x2="55.30" y2="498.20" stroke="#1c1c1c" stroke-width="0.8"/>
<text x="50.50" y="499.90" font-size="4.8" fill="#444" text-anchor="end">50</text>
<line x1="52.80" y1="508.60" x2="55.30" y2="508.60" stroke="#1c1c1c" stroke-width="0.8"/>
<text x="50.50" y="510.30" font-size="4.8" fill="#444" text-anchor="end">10</text>
<line x1="52.80" y1="520.80" x2="55.30" y2="520.80" stroke="#1c1c1c" stroke-width="0.8"/>
<text x="50.50" y="522.50" font-size="4.8" fill="#444" text-anchor="end">5</text>
<line x1="52.80" y1="532.50" x2="55.30" y2="532.50" stroke="#1c1c1c" stroke-width="0.8"/>
<text x="50.50" y="534.20" font-size="4.8" fill="#444" text-anchor="end">0</text>
<line x1="63.85" y1="532.50" x2="63.85" y2="535.10" stroke="#1c1c1c" stroke-width="0.8"/>
<line x1="81.50" y1="532.50" x2="81.50" y2="535.10" stroke="#1c1c1c" stroke-width="0.8"/>
<text x="60.30" y="543.50" font-size="5.0" fill="#1e1e1e" textLength="7.00" lengthAdjust="spacingAndGlyphs">WT</text>
<text x="73.50" y="543.50" font-size="5.0" fill="#1e1e1e" textLength="17.90" lengthAdjust="spacingAndGlyphs">Gdf15<tspan dy="-2.10" font-size="3.40">-/-</tspan><tspan dy="2.10">&#8203;</tspan></text>
<rect x="111.75" y="503.65" width="11.60" height="29.35" fill="#9ba1c3" stroke="#8a90b6" stroke-width="0.5"/>
<rect x="129.55" y="519.05" width="11.30" height="13.95" fill="#d99c8c" stroke="#c98a7b" stroke-width="0.5"/>
<line x1="117.55" y1="498.00" x2="117.55" y2="510.30" stroke="#2f4f8c" stroke-width="0.8"/>
<line x1="115.35" y1="498.00" x2="119.75" y2="498.00" stroke="#2f4f8c" stroke-width="0.8"/>
<line x1="115.35" y1="510.30" x2="119.75" y2="510.30" stroke="#2f4f8c" stroke-width="0.8"/>
<circle cx="117.60" cy="487.10" r="1.15" fill="#2f4f8c"/>
<circle cx="117.60" cy="505.50" r="1.15" fill="#2f4f8c"/>
<circle cx="117.60" cy="513.50" r="1.15" fill="#2f4f8c"/>
<line x1="135.20" y1="515.00" x2="135.20" y2="522.50" stroke="#b3213d" stroke-width="0.8"/>
<line x1="133.00" y1="515.00" x2="137.40" y2="515.00" stroke="#b3213d" stroke-width="0.8"/>
<line x1="133.00" y1="522.50" x2="137.40" y2="522.50" stroke="#b3213d" stroke-width="0.8"/>
<circle cx="135.20" cy="512.50" r="1.15" fill="#b3213d"/>
<circle cx="135.20" cy="515.40" r="1.15" fill="#b3213d"/>
<circle cx="135.20" cy="519.20" r="1.15" fill="#b3213d"/>
<circle cx="135.20" cy="529.40" r="1.15" fill="#b3213d"/>
<line x1="108.75" y1="478.00" x2="108.75" y2="533.45" stroke="#1c1c1c" stroke-width="0.95"/>
<line x1="108.30" y1="533.00" x2="143.20" y2="533.00" stroke="#1c1c1c" stroke-width="0.95"/>
<line x1="106.15" y1="533.00" x2="108.75" y2="533.00" stroke="#1c1c1c" stroke-width="0.8"/>
<text x="103.75" y="534.73" font-size="4.8" fill="#444" text-anchor="end">0</text>
<line x1="106.15" y1="515.40" x2="108.75" y2="515.40" stroke="#1c1c1c" stroke-width="0.8"/>
<text x="103.75" y="517.13" font-size="4.8" fill="#444" text-anchor="end">2</text>
<line x1="106.15" y1="498.10" x2="108.75" y2="498.10" stroke="#1c1c1c" stroke-width="0.8"/>
<text x="103.75" y="499.83" font-size="4.8" fill="#444" text-anchor="end">4</text>
<line x1="106.15" y1="480.10" x2="108.75" y2="480.10" stroke="#1c1c1c" stroke-width="0.8"/>
<text x="103.75" y="481.83" font-size="4.8" fill="#444" text-anchor="end">6</text>
<line x1="117.55" y1="533.00" x2="117.55" y2="535.60" stroke="#1c1c1c" stroke-width="0.8"/>
<line x1="135.20" y1="533.00" x2="135.20" y2="535.60" stroke="#1c1c1c" stroke-width="0.8"/>
<text x="113.60" y="543.50" font-size="5.0" fill="#1e1e1e" textLength="7.20" lengthAdjust="spacingAndGlyphs">WT</text>
<text x="128.80" y="543.50" font-size="5.0" fill="#1e1e1e" textLength="13.80" lengthAdjust="spacingAndGlyphs">Gdf15<tspan dy="-2.10" font-size="3.40">-/-</tspan><tspan dy="2.10">&#8203;</tspan></text>
<text x="116.60" y="472.80" font-size="6.0" fill="#1e1e1e" textLength="19.00" lengthAdjust="spacingAndGlyphs">Hmox1</text>
<text x="126.70" y="506.80" font-size="3.6" fill="#777" textLength="13.80" lengthAdjust="spacingAndGlyphs">p=0.076</text>
<rect x="165.65" y="502.55" width="11.60" height="30.45" fill="#9ba1c3" stroke="#8a90b6" stroke-width="0.5"/>
<rect x="183.65" y="520.55" width="10.50" height="12.45" fill="#d99c8c" stroke="#c98a7b" stroke-width="0.5"/>
<line x1="171.45" y1="496.00" x2="171.45" y2="509.70" stroke="#2f4f8c" stroke-width="0.8"/>
<line x1="169.25" y1="496.00" x2="173.65" y2="496.00" stroke="#2f4f8c" stroke-width="0.8"/>
<line x1="169.25" y1="509.70" x2="173.65" y2="509.70" stroke="#2f4f8c" stroke-width="0.8"/>
<circle cx="171.20" cy="483.30" r="1.15" fill="#2f4f8c"/>
<circle cx="171.20" cy="504.40" r="1.15" fill="#2f4f8c"/>
<circle cx="171.20" cy="509.70" r="1.15" fill="#2f4f8c"/>
<circle cx="171.20" cy="514.60" r="1.15" fill="#2f4f8c"/>
<line x1="188.90" y1="516.50" x2="188.90" y2="524.50" stroke="#b3213d" stroke-width="0.8"/>
<line x1="186.70" y1="516.50" x2="191.10" y2="516.50" stroke="#b3213d" stroke-width="0.8"/>
<line x1="186.70" y1="524.50" x2="191.10" y2="524.50" stroke="#b3213d" stroke-width="0.8"/>
<circle cx="186.00" cy="516.70" r="1.15" fill="#b3213d"/>
<circle cx="192.30" cy="515.60" r="1.15" fill="#b3213d"/>
<circle cx="188.70" cy="530.90" r="1.15" fill="#b3213d"/>
<line x1="162.70" y1="478.00" x2="162.70" y2="533.45" stroke="#1c1c1c" stroke-width="0.95"/>
<line x1="162.25" y1="533.00" x2="197.60" y2="533.00" stroke="#1c1c1c" stroke-width="0.95"/>
<line x1="160.10" y1="533.00" x2="162.70" y2="533.00" stroke="#1c1c1c" stroke-width="0.8"/>
<text x="157.70" y="534.73" font-size="4.8" fill="#444" text-anchor="end">0</text>
<line x1="160.10" y1="519.70" x2="162.70" y2="519.70" stroke="#1c1c1c" stroke-width="0.8"/>
<text x="157.70" y="521.43" font-size="4.8" fill="#444" text-anchor="end">2</text>
<line x1="160.10" y1="506.50" x2="162.70" y2="506.50" stroke="#1c1c1c" stroke-width="0.8"/>
<text x="157.70" y="508.23" font-size="4.8" fill="#444" text-anchor="end">4</text>
<line x1="160.10" y1="493.40" x2="162.70" y2="493.40" stroke="#1c1c1c" stroke-width="0.8"/>
<text x="157.70" y="495.13" font-size="4.8" fill="#444" text-anchor="end">6</text>
<line x1="160.10" y1="480.10" x2="162.70" y2="480.10" stroke="#1c1c1c" stroke-width="0.8"/>
<text x="157.70" y="481.83" font-size="4.8" fill="#444" text-anchor="end">8</text>
<line x1="171.45" y1="533.00" x2="171.45" y2="535.60" stroke="#1c1c1c" stroke-width="0.8"/>
<line x1="188.90" y1="533.00" x2="188.90" y2="535.60" stroke="#1c1c1c" stroke-width="0.8"/>
<text x="166.90" y="543.50" font-size="5.0" fill="#1e1e1e" textLength="7.40" lengthAdjust="spacingAndGlyphs">WT</text>
<text x="180.70" y="543.50" font-size="5.0" fill="#1e1e1e" textLength="16.90" lengthAdjust="spacingAndGlyphs">Gdf15<tspan dy="-2.10" font-size="3.40">-/-</tspan><tspan dy="2.10">&#8203;</tspan></text>
<text x="174.30" y="472.80" font-size="6.0" fill="#1e1e1e" textLength="11.70" lengthAdjust="spacingAndGlyphs">Spic</text>
<text x="180.70" y="511.00" font-size="3.6" fill="#777" textLength="15.40" lengthAdjust="spacingAndGlyphs">p=0.064</text>
<text x="232.80" y="463.00" font-size="5.2" fill="#1e1e1e" textLength="54.10" lengthAdjust="spacingAndGlyphs">Time post PHZ challenge</text>
<line x1="231.20" y1="467.40" x2="282.40" y2="467.40" stroke="#1c1c1c" stroke-width="0.7"/>
<path d="M282 465.8 L285.6 467.4 L282 469 Z" fill="#1c1c1c"/>
<text x="255.80" y="474.60" font-size="5.2" fill="#1e1e1e" textLength="12.40" lengthAdjust="spacingAndGlyphs">24hrs</text>
<text x="302.80" y="474.60" font-size="5.2" fill="#1e1e1e" textLength="12.40" lengthAdjust="spacingAndGlyphs">48hrs</text>
<text x="222.00" y="478.90" font-size="5.2" fill="#a8283c" textLength="16.00" lengthAdjust="spacingAndGlyphs">BLOOD</text>
<text x="225.00" y="493.20" font-size="5.2" fill="#1e1e1e" textLength="6.60" lengthAdjust="spacingAndGlyphs">WT</text>
<text x="255.80" y="515.40" font-size="5.2" fill="#1e1e1e" textLength="12.40" lengthAdjust="spacingAndGlyphs">24hrs</text>
<text x="302.80" y="515.40" font-size="5.2" fill="#1e1e1e" textLength="12.40" lengthAdjust="spacingAndGlyphs">48hrs</text>
<text x="222.00" y="518.00" font-size="5.2" fill="#a8283c" textLength="16.00" lengthAdjust="spacingAndGlyphs">BLOOD</text>
<text x="214.20" y="531.80" font-size="5.2" fill="#1e1e1e" textLength="17.00" lengthAdjust="spacingAndGlyphs">Gdf15<tspan dy="-2.18" font-size="3.54">-/-</tspan><tspan dy="2.18">&#8203;</tspan></text>
<path d="M237.7 479.0 L282.4 479.0 L282.4 502.7 L237.7 502.7 C235.9 498.7 235.9 483.0 237.7 479.0Z" fill="url(#v1)" stroke="#c86e64" stroke-width="0.6"/>
<ellipse cx="282.4" cy="490.9" rx="2.4" ry="11.8" fill="#eeb8b0" stroke="#c86e64" stroke-width="0.6"/>
<path d="M288.5 479.0 L333.0 479.0 L333.0 502.7 L288.5 502.7 C286.7 498.7 286.7 483.0 288.5 479.0Z" fill="url(#v2)" stroke="#d08c84" stroke-width="0.6"/>
<ellipse cx="333.0" cy="490.9" rx="2.4" ry="11.8" fill="#f8ddd8" stroke="#d08c84" stroke-width="0.6"/>
<path d="M237.7 518.1 L282.4 518.1 L282.4 541.8 L237.7 541.8 C235.9 537.8 235.9 522.1 237.7 518.1Z" fill="url(#v1)" stroke="#c86e64" stroke-width="0.6"/>
<ellipse cx="282.4" cy="530.0" rx="2.4" ry="11.8" fill="#eeb8b0" stroke="#c86e64" stroke-width="0.6"/>
<path d="M288.7 518.1 L333.0 518.1 L333.0 541.8 L288.7 541.8 C286.9 537.8 286.9 522.1 288.7 518.1Z" fill="url(#v4)" stroke="#d89c94" stroke-width="0.6"/>
<ellipse cx="333.0" cy="530.0" rx="2.4" ry="11.8" fill="#fbe6e3" stroke="#d89c94" stroke-width="0.6"/>
<ellipse cx="242.6" cy="485.5" rx="3.0" ry="2.55" transform="rotate(0 242.6 485.5)" fill="url(#rbc)"/>
<ellipse cx="260.4" cy="483.0" rx="3.0" ry="2.55" transform="rotate(0 260.4 483.0)" fill="url(#rbc)"/>
<ellipse cx="273.0" cy="485.9" rx="3.0" ry="2.55" transform="rotate(0 273.0 485.9)" fill="url(#rbc)"/>
<ellipse cx="245.3" cy="498.8" rx="3.0" ry="2.55" transform="rotate(0 245.3 498.8)" fill="url(#rbc)"/>
<ellipse cx="264.7" cy="499.9" rx="3.0" ry="2.55" transform="rotate(0 264.7 499.9)" fill="url(#rbc)"/>
<ellipse cx="275.5" cy="498.0" rx="3.0" ry="2.55" transform="rotate(0 275.5 498.0)" fill="url(#rbc)"/>
<rect x="237.4" y="489.1" width="7.2" height="7.2" rx="2.88" fill="url(#mono)" stroke="#7458b0" stroke-width="0.4"/>
<ellipse cx="240.7" cy="491.4" rx="1.80" ry="1.08" fill="#e2d8f6" fill-opacity="0.75"/>
<path d="M239.2 491.8 Q239.4 494.7 241.0 494.5 Q242.6 494.5 242.8 492.0" fill="none" stroke="#6646a4" stroke-width="0.94" stroke-opacity="0.6" stroke-linecap="round"/>
<rect x="244.9" y="485.4" width="7.2" height="7.2" rx="2.88" fill="url(#mono)" stroke="#7458b0" stroke-width="0.4"/>
<ellipse cx="248.2" cy="487.7" rx="1.80" ry="1.08" fill="#e2d8f6" fill-opacity="0.75"/>
<path d="M246.7 488.1 Q246.9 491.0 248.5 490.8 Q250.1 490.8 250.3 488.3" fill="none" stroke="#6646a4" stroke-width="0.94" stroke-opacity="0.6" stroke-linecap="round"/>
<rect x="248.2" y="482.3" width="7.2" height="7.2" rx="2.88" fill="url(#mono)" stroke="#7458b0" stroke-width="0.4"/>
<ellipse cx="251.5" cy="484.6" rx="1.80" ry="1.08" fill="#e2d8f6" fill-opacity="0.75"/>
<path d="M250.0 485.0 Q250.2 487.9 251.8 487.7 Q253.4 487.7 253.6 485.2" fill="none" stroke="#6646a4" stroke-width="0.94" stroke-opacity="0.6" stroke-linecap="round"/>
<rect x="252.4" y="490.4" width="7.2" height="7.2" rx="2.88" fill="url(#mono)" stroke="#7458b0" stroke-width="0.4"/>
<ellipse cx="255.7" cy="492.7" rx="1.80" ry="1.08" fill="#e2d8f6" fill-opacity="0.75"/>
<path d="M254.2 493.1 Q254.4 496.0 256.0 495.8 Q257.6 495.8 257.8 493.3" fill="none" stroke="#6646a4" stroke-width="0.94" stroke-opacity="0.6" stroke-linecap="round"/>
<rect x="259.4" y="485.9" width="7.2" height="7.2" rx="2.88" fill="url(#mono)" stroke="#7458b0" stroke-width="0.4"/>
<ellipse cx="262.7" cy="488.2" rx="1.80" ry="1.08" fill="#e2d8f6" fill-opacity="0.75"/>
<path d="M261.2 488.6 Q261.4 491.5 263.0 491.3 Q264.6 491.3 264.8 488.8" fill="none" stroke="#6646a4" stroke-width="0.94" stroke-opacity="0.6" stroke-linecap="round"/>
<rect x="262.7" y="489.1" width="7.2" height="7.2" rx="2.88" fill="url(#mono)" stroke="#7458b0" stroke-width="0.4"/>
<ellipse cx="266.0" cy="491.4" rx="1.80" ry="1.08" fill="#e2d8f6" fill-opacity="0.75"/>
<path d="M264.5 491.8 Q264.7 494.7 266.3 494.5 Q267.9 494.5 268.1 492.0" fill="none" stroke="#6646a4" stroke-width="0.94" stroke-opacity="0.6" stroke-linecap="round"/>
<ellipse cx="292.4" cy="483.8" rx="3.0" ry="2.55" transform="rotate(0 292.4 483.8)" fill="url(#rbc)"/>
<ellipse cx="323.8" cy="484.1" rx="3.0" ry="2.55" transform="rotate(0 323.8 484.1)" fill="url(#rbc)"/>
<ellipse cx="316.5" cy="496.5" rx="3.0" ry="2.55" transform="rotate(0 316.5 496.5)" fill="url(#rbc)"/>
<ellipse cx="326.5" cy="495.2" rx="3.0" ry="2.55" transform="rotate(0 326.5 495.2)" fill="url(#rbc)"/>
<rect x="295.5" y="485.4" width="7.2" height="7.2" rx="2.88" fill="url(#mono)" stroke="#7458b0" stroke-width="0.4"/>
<ellipse cx="298.8" cy="487.7" rx="1.80" ry="1.08" fill="#e2d8f6" fill-opacity="0.75"/>
<path d="M297.3 488.1 Q297.5 491.0 299.1 490.8 Q300.7 490.8 300.9 488.3" fill="none" stroke="#6646a4" stroke-width="0.94" stroke-opacity="0.6" stroke-linecap="round"/>
<rect x="302.5" y="490.5" width="7.2" height="7.2" rx="2.88" fill="url(#mono)" stroke="#7458b0" stroke-width="0.4"/>
<ellipse cx="305.8" cy="492.8" rx="1.80" ry="1.08" fill="#e2d8f6" fill-opacity="0.75"/>
<path d="M304.3 493.2 Q304.5 496.1 306.1 495.9 Q307.7 495.9 307.9 493.4" fill="none" stroke="#6646a4" stroke-width="0.94" stroke-opacity="0.6" stroke-linecap="round"/>
<rect x="310.6" y="485.9" width="7.2" height="7.2" rx="2.88" fill="url(#mono)" stroke="#7458b0" stroke-width="0.4"/>
<ellipse cx="313.9" cy="488.2" rx="1.80" ry="1.08" fill="#e2d8f6" fill-opacity="0.75"/>
<path d="M312.4 488.6 Q312.6 491.5 314.2 491.3 Q315.8 491.3 316.0 488.8" fill="none" stroke="#6646a4" stroke-width="0.94" stroke-opacity="0.6" stroke-linecap="round"/>
<ellipse cx="254.7" cy="521.8" rx="3.0" ry="2.55" transform="rotate(0 254.7 521.8)" fill="url(#rbc)"/>
<ellipse cx="269.5" cy="521.8" rx="3.0" ry="2.55" transform="rotate(0 269.5 521.8)" fill="url(#rbc)"/>
<ellipse cx="276.9" cy="523.7" rx="3.0" ry="2.55" transform="rotate(0 276.9 523.7)" fill="url(#rbc)"/>
<ellipse cx="240.7" cy="530.7" rx="3.0" ry="2.55" transform="rotate(0 240.7 530.7)" fill="url(#rbc)"/>
<ellipse cx="260.9" cy="536.8" rx="3.0" ry="2.55" transform="rotate(0 260.9 536.8)" fill="url(#rbc)"/>
<ellipse cx="273.3" cy="538.8" rx="3.0" ry="2.55" transform="rotate(0 273.3 538.8)" fill="url(#rbc)"/>
<rect x="246.6" y="523.9" width="7.2" height="7.2" rx="2.88" fill="url(#mono)" stroke="#7458b0" stroke-width="0.4"/>
<ellipse cx="249.9" cy="526.2" rx="1.80" ry="1.08" fill="#e2d8f6" fill-opacity="0.75"/>
<path d="M248.4 526.6 Q248.6 529.5 250.2 529.3 Q251.8 529.3 252.0 526.8" fill="none" stroke="#6646a4" stroke-width="0.94" stroke-opacity="0.6" stroke-linecap="round"/>
<rect x="258.9" y="522.8" width="7.2" height="7.2" rx="2.88" fill="url(#mono)" stroke="#7458b0" stroke-width="0.4"/>
<ellipse cx="262.2" cy="525.1" rx="1.80" ry="1.08" fill="#e2d8f6" fill-opacity="0.75"/>
<path d="M260.7 525.5 Q260.9 528.4 262.5 528.2 Q264.1 528.2 264.3 525.7" fill="none" stroke="#6646a4" stroke-width="0.94" stroke-opacity="0.6" stroke-linecap="round"/>
<rect x="249.8" y="530.3" width="7.2" height="7.2" rx="2.88" fill="url(#mono)" stroke="#7458b0" stroke-width="0.4"/>
<ellipse cx="253.1" cy="532.6" rx="1.80" ry="1.08" fill="#e2d8f6" fill-opacity="0.75"/>
<path d="M251.6 533.0 Q251.8 535.9 253.4 535.7 Q255.0 535.7 255.2 533.2" fill="none" stroke="#6646a4" stroke-width="0.94" stroke-opacity="0.6" stroke-linecap="round"/>
<rect x="243.3" y="532.5" width="7.2" height="7.2" rx="2.88" fill="url(#mono)" stroke="#7458b0" stroke-width="0.4"/>
<ellipse cx="246.6" cy="534.8" rx="1.80" ry="1.08" fill="#e2d8f6" fill-opacity="0.75"/>
<path d="M245.1 535.2 Q245.3 538.1 246.9 537.9 Q248.5 537.9 248.7 535.4" fill="none" stroke="#6646a4" stroke-width="0.94" stroke-opacity="0.6" stroke-linecap="round"/>
<rect x="264.9" y="528.7" width="7.2" height="7.2" rx="2.88" fill="url(#mono)" stroke="#7458b0" stroke-width="0.4"/>
<ellipse cx="268.2" cy="531.0" rx="1.80" ry="1.08" fill="#e2d8f6" fill-opacity="0.75"/>
<path d="M266.7 531.4 Q266.9 534.3 268.5 534.1 Q270.1 534.1 270.3 531.6" fill="none" stroke="#6646a4" stroke-width="0.94" stroke-opacity="0.6" stroke-linecap="round"/>
<ellipse cx="305.5" cy="521.8" rx="3.0" ry="2.55" transform="rotate(0 305.5 521.8)" fill="url(#rbc)"/>
<ellipse cx="324.9" cy="523.5" rx="3.0" ry="2.55" transform="rotate(0 324.9 523.5)" fill="url(#rbc)"/>
<rect x="289.0" y="523.9" width="7.2" height="7.2" rx="2.88" fill="url(#mono)" stroke="#7458b0" stroke-width="0.4"/>
<ellipse cx="292.3" cy="526.2" rx="1.80" ry="1.08" fill="#e2d8f6" fill-opacity="0.75"/>
<path d="M290.8 526.6 Q291.0 529.5 292.6 529.3 Q294.2 529.3 294.4 526.8" fill="none" stroke="#6646a4" stroke-width="0.94" stroke-opacity="0.6" stroke-linecap="round"/>
<rect x="297.1" y="523.9" width="7.2" height="7.2" rx="2.88" fill="url(#mono)" stroke="#7458b0" stroke-width="0.4"/>
<ellipse cx="300.4" cy="526.2" rx="1.80" ry="1.08" fill="#e2d8f6" fill-opacity="0.75"/>
<path d="M298.9 526.6 Q299.1 529.5 300.7 529.3 Q302.3 529.3 302.5 526.8" fill="none" stroke="#6646a4" stroke-width="0.94" stroke-opacity="0.6" stroke-linecap="round"/>
<rect x="309.5" y="522.2" width="7.2" height="7.2" rx="2.88" fill="url(#mono)" stroke="#7458b0" stroke-width="0.4"/>
<ellipse cx="312.8" cy="524.5" rx="1.80" ry="1.08" fill="#e2d8f6" fill-opacity="0.75"/>
<path d="M311.3 524.9 Q311.5 527.8 313.1 527.6 Q314.7 527.6 314.9 525.1" fill="none" stroke="#6646a4" stroke-width="0.94" stroke-opacity="0.6" stroke-linecap="round"/>
<rect x="300.9" y="529.8" width="7.2" height="7.2" rx="2.88" fill="url(#mono)" stroke="#7458b0" stroke-width="0.4"/>
<ellipse cx="304.2" cy="532.1" rx="1.80" ry="1.08" fill="#e2d8f6" fill-opacity="0.75"/>
<path d="M302.7 532.5 Q302.9 535.4 304.5 535.2 Q306.1 535.2 306.3 532.7" fill="none" stroke="#6646a4" stroke-width="0.94" stroke-opacity="0.6" stroke-linecap="round"/>
<rect x="293.9" y="532.5" width="7.2" height="7.2" rx="2.88" fill="url(#mono)" stroke="#7458b0" stroke-width="0.4"/>
<ellipse cx="297.2" cy="534.8" rx="1.80" ry="1.08" fill="#e2d8f6" fill-opacity="0.75"/>
<path d="M295.7 535.2 Q295.9 538.1 297.5 537.9 Q299.1 537.9 299.3 535.4" fill="none" stroke="#6646a4" stroke-width="0.94" stroke-opacity="0.6" stroke-linecap="round"/>
<rect x="307.9" y="531.9" width="7.2" height="7.2" rx="2.88" fill="url(#mono)" stroke="#7458b0" stroke-width="0.4"/>
<ellipse cx="311.2" cy="534.2" rx="1.80" ry="1.08" fill="#e2d8f6" fill-opacity="0.75"/>
<path d="M309.7 534.6 Q309.9 537.5 311.5 537.3 Q313.1 537.3 313.3 534.8" fill="none" stroke="#6646a4" stroke-width="0.94" stroke-opacity="0.6" stroke-linecap="round"/>
<rect x="315.9" y="528.7" width="7.2" height="7.2" rx="2.88" fill="url(#mono)" stroke="#7458b0" stroke-width="0.4"/>
<ellipse cx="319.2" cy="531.0" rx="1.80" ry="1.08" fill="#e2d8f6" fill-opacity="0.75"/>
<path d="M317.7 531.4 Q317.9 534.3 319.5 534.1 Q321.1 534.1 321.3 531.6" fill="none" stroke="#6646a4" stroke-width="0.94" stroke-opacity="0.6" stroke-linecap="round"/>
<rect x="321.9" y="534.3" width="7.2" height="7.2" rx="2.88" fill="url(#mono)" stroke="#7458b0" stroke-width="0.4"/>
<ellipse cx="325.2" cy="536.6" rx="1.80" ry="1.08" fill="#e2d8f6" fill-opacity="0.75"/>
<path d="M323.7 537.0 Q323.9 539.9 325.5 539.7 Q327.1 539.7 327.3 537.2" fill="none" stroke="#6646a4" stroke-width="0.94" stroke-opacity="0.6" stroke-linecap="round"/>
<ellipse cx="226.1" cy="553.2" rx="3.0" ry="2.4" transform="rotate(-20 226.1 553.2)" fill="url(#rbc)"/>
<text x="231.80" y="555.00" font-size="4.8" fill="#1e1e1e" textLength="10.20" lengthAdjust="spacingAndGlyphs">RBC</text>
<path d="M253.6 553.6L255.8 553.5M253.6 553.6L254.7 556.0M253.6 553.6L251.4 555.4M253.6 553.6L251.3 553.7M253.6 553.6L252.7 551.6M253.6 553.6L255.4 551.3" stroke="#5a4aa6" stroke-width="1.86" stroke-linecap="round" fill="none"/>
<circle cx="253.6" cy="553.6" r="1.43" fill="#5a4aa6"/>
<path d="M253.6 553.6L255.8 553.5M253.6 553.6L254.7 556.0M253.6 553.6L251.4 555.4M253.6 553.6L251.3 553.7M253.6 553.6L252.7 551.6M253.6 553.6L255.4 551.3" stroke="#b42c2c" stroke-width="1.43" stroke-linecap="round" fill="none"/>
<circle cx="253.6" cy="553.6" r="1.21" fill="#b42c2c"/>
<circle cx="253.6" cy="553.6" r="0.68" fill="#5a52a8"/>
<path d="M259.6 552.4L261.2 554.6M259.6 552.4L258.9 554.7M259.6 552.4L257.1 553.4M259.6 552.4L257.5 550.8M259.6 552.4L260.4 549.8M259.6 552.4L261.8 551.3" stroke="#5a4aa6" stroke-width="1.86" stroke-linecap="round" fill="none"/>
<circle cx="259.6" cy="552.4" r="1.43" fill="#5a4aa6"/>
<path d="M259.6 552.4L261.2 554.6M259.6 552.4L258.9 554.7M259.6 552.4L257.1 553.4M259.6 552.4L257.5 550.8M259.6 552.4L260.4 549.8M259.6 552.4L261.8 551.3" stroke="#b42c2c" stroke-width="1.43" stroke-linecap="round" fill="none"/>
<circle cx="259.6" cy="552.4" r="1.21" fill="#b42c2c"/>
<circle cx="259.6" cy="552.4" r="0.68" fill="#5a52a8"/>
<text x="265.00" y="555.00" font-size="4.8" fill="#1e1e1e" textLength="43.40" lengthAdjust="spacingAndGlyphs">F4/80<tspan dy="-2.02" font-size="3.26">+</tspan><tspan dy="2.02">&#8203;</tspan>Vcam1<tspan dy="-2.02" font-size="3.26">+</tspan><tspan dy="2.02">&#8203;</tspan> RPM</text>
<rect x="223.0" y="564.0" width="6.2" height="6.2" rx="2.48" fill="url(#mono)" stroke="#7458b0" stroke-width="0.4"/>
<ellipse cx="225.8" cy="565.8" rx="1.55" ry="0.93" fill="#e2d8f6" fill-opacity="0.75"/>
<path d="M224.5 566.3 Q224.7 568.8 226.1 568.6 Q227.5 568.6 227.7 566.5" fill="none" stroke="#6646a4" stroke-width="0.81" stroke-opacity="0.6" stroke-linecap="round"/>
<text x="232.40" y="568.90" font-size="4.8" fill="#1e1e1e" textLength="53.90" lengthAdjust="spacingAndGlyphs">CD11b<tspan dy="-2.02" font-size="3.26">+</tspan><tspan dy="2.02">&#8203;</tspan>Ly6C<tspan dy="-2.02" font-size="3.26">+</tspan><tspan dy="2.02">&#8203;</tspan> monocyte</text>
<text x="366.10" y="462.00" font-size="5.2" fill="#1e1e1e" textLength="54.90" lengthAdjust="spacingAndGlyphs">Time post PHZ challenge</text>
<line x1="364.50" y1="465.60" x2="415.60" y2="465.60" stroke="#1c1c1c" stroke-width="0.7"/>
<path d="M415.2 464 L418.8 465.6 L415.2 467.2 Z" fill="#1c1c1c"/>
<text x="388.30" y="473.70" font-size="5.2" fill="#1e1e1e" textLength="12.70" lengthAdjust="spacingAndGlyphs">24hrs</text>
<text x="435.90" y="473.70" font-size="5.2" fill="#1e1e1e" textLength="12.70" lengthAdjust="spacingAndGlyphs">48hrs</text>
<text x="359.80" y="487.30" font-size="5.2" fill="#a8283c" textLength="16.80" lengthAdjust="spacingAndGlyphs">SPLEEN</text>
<text x="363.00" y="495.80" font-size="5.2" fill="#1e1e1e" textLength="7.20" lengthAdjust="spacingAndGlyphs">WT</text>
<text x="388.30" y="522.20" font-size="5.2" fill="#1e1e1e" textLength="12.70" lengthAdjust="spacingAndGlyphs">24hrs</text>
<text x="435.90" y="522.20" font-size="5.2" fill="#1e1e1e" textLength="12.70" lengthAdjust="spacingAndGlyphs">48hrs</text>
<text x="359.80" y="530.20" font-size="5.2" fill="#a8283c" textLength="16.80" lengthAdjust="spacingAndGlyphs">SPLEEN</text>
<text x="356.60" y="539.70" font-size="5.2" fill="#1e1e1e" textLength="17.40" lengthAdjust="spacingAndGlyphs">Gdf15<tspan dy="-2.18" font-size="3.54">-/-</tspan><tspan dy="2.18">&#8203;</tspan></text>
<g transform="translate(374.0,477.8)"><path d="M0.5 27.4 C0.2 21 7 18.8 13 15.6 C19.5 12.2 21.5 5.8 27.6 2.3 C33.5 -0.9 40 0.2 42.2 7 C44 13.5 42.5 22 36.5 28.5 C30.5 34.5 21 36.2 12 35.8 C5 35.5 0.8 32.5 0.5 27.4 Z" fill="url(#spl)" stroke="#8c7379" stroke-width="0.6"/><ellipse cx="5.2" cy="29.5" rx="3.6" ry="5.4" transform="rotate(-35 5.2 29.5)" fill="#d3c2c5" fill-opacity="0.6"/><path d="M11.5 8.2 C15.5 6 20.5 9 21 13.5 C21.4 17.5 19.5 19.8 17.5 21" fill="none" stroke="#e88c6c" stroke-width="0.75"/><path d="M12.2 10 C15.5 8.5 19.2 11.5 19.5 15 C19.7 17.8 18 20 16 21" fill="none" stroke="#e88c6c" stroke-width="0.55"/><path d="M11.3 8.4 C12.4 12 12.2 17 13.2 21.5" fill="none" stroke="#7f9ad8" stroke-width="0.75"/><path d="M12.3 9.5 C16.2 10.5 18 15 16.6 21" fill="none" stroke="#7f9ad8" stroke-width="0.55"/></g>
<g transform="translate(421.6,477.8)"><path d="M0.5 27.4 C0.2 21 7 18.8 13 15.6 C19.5 12.2 21.5 5.8 27.6 2.3 C33.5 -0.9 40 0.2 42.2 7 C44 13.5 42.5 22 36.5 28.5 C30.5 34.5 21 36.2 12 35.8 C5 35.5 0.8 32.5 0.5 27.4 Z" fill="url(#spl)" stroke="#8c7379" stroke-width="0.6"/><ellipse cx="5.2" cy="29.5" rx="3.6" ry="5.4" transform="rotate(-35 5.2 29.5)" fill="#d3c2c5" fill-opacity="0.6"/><path d="M11.5 8.2 C15.5 6 20.5 9 21 13.5 C21.4 17.5 19.5 19.8 17.5 21" fill="none" stroke="#e88c6c" stroke-width="0.75"/><path d="M12.2 10 C15.5 8.5 19.2 11.5 19.5 15 C19.7 17.8 18 20 16 21" fill="none" stroke="#e88c6c" stroke-width="0.55"/><path d="M11.3 8.4 C12.4 12 12.2 17 13.2 21.5" fill="none" stroke="#7f9ad8" stroke-width="0.75"/><path d="M12.3 9.5 C16.2 10.5 18 15 16.6 21" fill="none" stroke="#7f9ad8" stroke-width="0.55"/></g>
<g transform="translate(374.0,523.3)"><path d="M0.5 27.4 C0.2 21 7 18.8 13 15.6 C19.5 12.2 21.5 5.8 27.6 2.3 C33.5 -0.9 40 0.2 42.2 7 C44 13.5 42.5 22 36.5 28.5 C30.5 34.5 21 36.2 12 35.8 C5 35.5 0.8 32.5 0.5 27.4 Z" fill="url(#spl)" stroke="#8c7379" stroke-width="0.6"/><ellipse cx="5.2" cy="29.5" rx="3.6" ry="5.4" transform="rotate(-35 5.2 29.5)" fill="#d3c2c5" fill-opacity="0.6"/><path d="M11.5 8.2 C15.5 6 20.5 9 21 13.5 C21.4 17.5 19.5 19.8 17.5 21" fill="none" stroke="#e88c6c" stroke-width="0.75"/><path d="M12.2 10 C15.5 8.5 19.2 11.5 19.5 15 C19.7 17.8 18 20 16 21" fill="none" stroke="#e88c6c" stroke-width="0.55"/><path d="M11.3 8.4 C12.4 12 12.2 17 13.2 21.5" fill="none" stroke="#7f9ad8" stroke-width="0.75"/><path d="M12.3 9.5 C16.2 10.5 18 15 16.6 21" fill="none" stroke="#7f9ad8" stroke-width="0.55"/></g>
<g transform="translate(421.6,523.3)"><path d="M0.5 27.4 C0.2 21 7 18.8 13 15.6 C19.5 12.2 21.5 5.8 27.6 2.3 C33.5 -0.9 40 0.2 42.2 7 C44 13.5 42.5 22 36.5 28.5 C30.5 34.5 21 36.2 12 35.8 C5 35.5 0.8 32.5 0.5 27.4 Z" fill="url(#spl)" stroke="#8c7379" stroke-width="0.6"/><ellipse cx="5.2" cy="29.5" rx="3.6" ry="5.4" transform="rotate(-35 5.2 29.5)" fill="#d3c2c5" fill-opacity="0.6"/><path d="M11.5 8.2 C15.5 6 20.5 9 21 13.5 C21.4 17.5 19.5 19.8 17.5 21" fill="none" stroke="#e88c6c" stroke-width="0.75"/><path d="M12.2 10 C15.5 8.5 19.2 11.5 19.5 15 C19.7 17.8 18 20 16 21" fill="none" stroke="#e88c6c" stroke-width="0.55"/><path d="M11.3 8.4 C12.4 12 12.2 17 13.2 21.5" fill="none" stroke="#7f9ad8" stroke-width="0.75"/><path d="M12.3 9.5 C16.2 10.5 18 15 16.6 21" fill="none" stroke="#7f9ad8" stroke-width="0.55"/></g>
<path d="M396.5 497.5L400.3 498.7M396.5 497.5L398.4 501.6M396.5 497.5L394.6 501.5M396.5 497.5L392.9 496.3M396.5 497.5L395.9 493.6M396.5 497.5L399.8 494.2" stroke="#5a4aa6" stroke-width="3.00" stroke-linecap="round" fill="none"/>
<circle cx="396.5" cy="497.5" r="2.30" fill="#5a4aa6"/>
<path d="M396.5 497.5L400.3 498.7M396.5 497.5L398.4 501.6M396.5 497.5L394.6 501.5M396.5 497.5L392.9 496.3M396.5 497.5L395.9 493.6M396.5 497.5L399.8 494.2" stroke="#b42c2c" stroke-width="2.30" stroke-linecap="round" fill="none"/>
<circle cx="396.5" cy="497.5" r="1.95" fill="#b42c2c"/>
<circle cx="396.5" cy="497.5" r="1.10" fill="#5a52a8"/>
<path d="M389.5 502.0L392.4 504.7M389.5 502.0L388.8 505.4M389.5 502.0L385.7 503.8M389.5 502.0L385.5 500.5M389.5 502.0L390.2 497.3M389.5 502.0L392.7 499.7" stroke="#5a4aa6" stroke-width="3.00" stroke-linecap="round" fill="none"/>
<circle cx="389.5" cy="502.0" r="2.30" fill="#5a4aa6"/>
<path d="M389.5 502.0L392.4 504.7M389.5 502.0L388.8 505.4M389.5 502.0L385.7 503.8M389.5 502.0L385.5 500.5M389.5 502.0L390.2 497.3M389.5 502.0L392.7 499.7" stroke="#b42c2c" stroke-width="2.30" stroke-linecap="round" fill="none"/>
<circle cx="389.5" cy="502.0" r="1.95" fill="#b42c2c"/>
<circle cx="389.5" cy="502.0" r="1.10" fill="#5a52a8"/>
<path d="M398.5 507.3L400.2 511.4M398.5 507.3L397.6 511.5M398.5 507.3L394.1 507.9M398.5 507.3L396.7 503.5M398.5 507.3L400.6 504.4M398.5 507.3L402.3 507.4" stroke="#5a4aa6" stroke-width="3.00" stroke-linecap="round" fill="none"/>
<circle cx="398.5" cy="507.3" r="2.30" fill="#5a4aa6"/>
<path d="M398.5 507.3L400.2 511.4M398.5 507.3L397.6 511.5M398.5 507.3L394.1 507.9M398.5 507.3L396.7 503.5M398.5 507.3L400.6 504.4M398.5 507.3L402.3 507.4" stroke="#b42c2c" stroke-width="2.30" stroke-linecap="round" fill="none"/>
<circle cx="398.5" cy="507.3" r="1.95" fill="#b42c2c"/>
<circle cx="398.5" cy="507.3" r="1.10" fill="#5a52a8"/>
<path d="M390.0 508.0L391.2 512.1M390.0 508.0L387.8 511.0M390.0 508.0L385.7 505.8M390.0 508.0L389.4 503.4M390.0 508.0L392.9 505.9M390.0 508.0L393.8 509.2" stroke="#5a4aa6" stroke-width="3.00" stroke-linecap="round" fill="none"/>
<circle cx="390.0" cy="508.0" r="2.30" fill="#5a4aa6"/>
<path d="M390.0 508.0L391.2 512.1M390.0 508.0L387.8 511.0M390.0 508.0L385.7 505.8M390.0 508.0L389.4 503.4M390.0 508.0L392.9 505.9M390.0 508.0L393.8 509.2" stroke="#b42c2c" stroke-width="2.30" stroke-linecap="round" fill="none"/>
<circle cx="390.0" cy="508.0" r="1.95" fill="#b42c2c"/>
<circle cx="390.0" cy="508.0" r="1.10" fill="#5a52a8"/>
<path d="M457.1 492.2L461.0 492.0M457.1 492.2L458.8 496.5M457.1 492.2L455.1 495.6M457.1 492.2L453.0 491.7M457.1 492.2L455.7 488.8M457.1 492.2L459.2 488.0" stroke="#5a4aa6" stroke-width="3.00" stroke-linecap="round" fill="none"/>
<circle cx="457.1" cy="492.2" r="2.30" fill="#5a4aa6"/>
<path d="M457.1 492.2L461.0 492.0M457.1 492.2L458.8 496.5M457.1 492.2L455.1 495.6M457.1 492.2L453.0 491.7M457.1 492.2L455.7 488.8M457.1 492.2L459.2 488.0" stroke="#b42c2c" stroke-width="2.30" stroke-linecap="round" fill="none"/>
<circle cx="457.1" cy="492.2" r="1.95" fill="#b42c2c"/>
<circle cx="457.1" cy="492.2" r="1.10" fill="#5a52a8"/>
<path d="M443.9 497.8L447.3 499.7M443.9 497.8L443.0 501.4M443.9 497.8L440.9 500.0M443.9 497.8L440.5 495.8M443.9 497.8L443.6 493.6M443.9 497.8L448.0 495.1" stroke="#5a4aa6" stroke-width="3.00" stroke-linecap="round" fill="none"/>
<circle cx="443.9" cy="497.8" r="2.30" fill="#5a4aa6"/>
<path d="M443.9 497.8L447.3 499.7M443.9 497.8L443.0 501.4M443.9 497.8L440.9 500.0M443.9 497.8L440.5 495.8M443.9 497.8L443.6 493.6M443.9 497.8L448.0 495.1" stroke="#b42c2c" stroke-width="2.30" stroke-linecap="round" fill="none"/>
<circle cx="443.9" cy="497.8" r="1.95" fill="#b42c2c"/>
<circle cx="443.9" cy="497.8" r="1.10" fill="#5a52a8"/>
<path d="M454.3 500.9L455.4 505.2M454.3 500.9L451.0 504.3M454.3 500.9L450.9 499.8M454.3 500.9L453.1 497.5M454.3 500.9L456.2 497.3M454.3 500.9L457.9 502.2" stroke="#5a4aa6" stroke-width="3.00" stroke-linecap="round" fill="none"/>
<circle cx="454.3" cy="500.9" r="2.30" fill="#5a4aa6"/>
<path d="M454.3 500.9L455.4 505.2M454.3 500.9L451.0 504.3M454.3 500.9L450.9 499.8M454.3 500.9L453.1 497.5M454.3 500.9L456.2 497.3M454.3 500.9L457.9 502.2" stroke="#b42c2c" stroke-width="2.30" stroke-linecap="round" fill="none"/>
<circle cx="454.3" cy="500.9" r="1.95" fill="#b42c2c"/>
<circle cx="454.3" cy="500.9" r="1.10" fill="#5a52a8"/>
<path d="M437.0 502.3L435.6 506.7M437.0 502.3L433.3 504.6M437.0 502.3L433.7 499.4M437.0 502.3L437.3 498.9M437.0 502.3L440.7 499.6M437.0 502.3L439.8 504.2" stroke="#5a4aa6" stroke-width="3.00" stroke-linecap="round" fill="none"/>
<circle cx="437.0" cy="502.3" r="2.30" fill="#5a4aa6"/>
<path d="M437.0 502.3L435.6 506.7M437.0 502.3L433.3 504.6M437.0 502.3L433.7 499.4M437.0 502.3L437.3 498.9M437.0 502.3L440.7 499.6M437.0 502.3L439.8 504.2" stroke="#b42c2c" stroke-width="2.30" stroke-linecap="round" fill="none"/>
<circle cx="437.0" cy="502.3" r="1.95" fill="#b42c2c"/>
<circle cx="437.0" cy="502.3" r="1.10" fill="#5a52a8"/>
<path d="M446.0 507.1L442.9 510.0M446.0 507.1L442.3 505.9M446.0 507.1L445.0 502.4M446.0 507.1L447.6 504.0M446.0 507.1L450.8 507.7M446.0 507.1L446.7 510.7" stroke="#5a4aa6" stroke-width="3.00" stroke-linecap="round" fill="none"/>
<circle cx="446.0" cy="507.1" r="2.30" fill="#5a4aa6"/>
<path d="M446.0 507.1L442.9 510.0M446.0 507.1L442.3 505.9M446.0 507.1L445.0 502.4M446.0 507.1L447.6 504.0M446.0 507.1L450.8 507.7M446.0 507.1L446.7 510.7" stroke="#b42c2c" stroke-width="2.30" stroke-linecap="round" fill="none"/>
<circle cx="446.0" cy="507.1" r="1.95" fill="#b42c2c"/>
<circle cx="446.0" cy="507.1" r="1.10" fill="#5a52a8"/>
<path d="M437.7 508.2L433.3 510.3M437.7 508.2L435.0 504.6M437.7 508.2L438.1 504.1M437.7 508.2L441.5 505.7M437.7 508.2L440.4 511.2M437.7 508.2L437.5 512.8" stroke="#5a4aa6" stroke-width="3.00" stroke-linecap="round" fill="none"/>
<circle cx="437.7" cy="508.2" r="2.30" fill="#5a4aa6"/>
<path d="M437.7 508.2L433.3 510.3M437.7 508.2L435.0 504.6M437.7 508.2L438.1 504.1M437.7 508.2L441.5 505.7M437.7 508.2L440.4 511.2M437.7 508.2L437.5 512.8" stroke="#b42c2c" stroke-width="2.30" stroke-linecap="round" fill="none"/>
<circle cx="437.7" cy="508.2" r="1.95" fill="#b42c2c"/>
<circle cx="437.7" cy="508.2" r="1.10" fill="#5a52a8"/>
<path d="M395.5 544.9L400.3 545.6M395.5 544.9L397.5 548.2M395.5 544.9L393.5 549.3M395.5 544.9L391.1 544.6M395.5 544.9L392.7 540.9M395.5 544.9L398.7 541.3" stroke="#5a4aa6" stroke-width="3.00" stroke-linecap="round" fill="none"/>
<circle cx="395.5" cy="544.9" r="2.30" fill="#5a4aa6"/>
<path d="M395.5 544.9L400.3 545.6M395.5 544.9L397.5 548.2M395.5 544.9L393.5 549.3M395.5 544.9L391.1 544.6M395.5 544.9L392.7 540.9M395.5 544.9L398.7 541.3" stroke="#b42c2c" stroke-width="2.30" stroke-linecap="round" fill="none"/>
<circle cx="395.5" cy="544.9" r="1.95" fill="#b42c2c"/>
<circle cx="395.5" cy="544.9" r="1.10" fill="#5a52a8"/>
<path d="M395.5 551.8L399.1 553.7M395.5 551.8L395.4 556.4M395.5 551.8L390.8 552.5M395.5 551.8L392.3 548.1M395.5 551.8L396.9 548.6M395.5 551.8L398.8 549.7" stroke="#5a4aa6" stroke-width="3.00" stroke-linecap="round" fill="none"/>
<circle cx="395.5" cy="551.8" r="2.30" fill="#5a4aa6"/>
<path d="M395.5 551.8L399.1 553.7M395.5 551.8L395.4 556.4M395.5 551.8L390.8 552.5M395.5 551.8L392.3 548.1M395.5 551.8L396.9 548.6M395.5 551.8L398.8 549.7" stroke="#b42c2c" stroke-width="2.30" stroke-linecap="round" fill="none"/>
<circle cx="395.5" cy="551.8" r="1.95" fill="#b42c2c"/>
<circle cx="395.5" cy="551.8" r="1.10" fill="#5a52a8"/>
<path d="M443.0 551.8L446.6 552.4M443.0 551.8L444.2 555.1M443.0 551.8L440.0 553.8M443.0 551.8L438.6 551.5M443.0 551.8L441.2 547.5M443.0 551.8L445.0 548.7" stroke="#5a4aa6" stroke-width="3.00" stroke-linecap="round" fill="none"/>
<circle cx="443.0" cy="551.8" r="2.30" fill="#5a4aa6"/>
<path d="M443.0 551.8L446.6 552.4M443.0 551.8L444.2 555.1M443.0 551.8L440.0 553.8M443.0 551.8L438.6 551.5M443.0 551.8L441.2 547.5M443.0 551.8L445.0 548.7" stroke="#b42c2c" stroke-width="2.30" stroke-linecap="round" fill="none"/>
<circle cx="443.0" cy="551.8" r="1.95" fill="#b42c2c"/>
<circle cx="443.0" cy="551.8" r="1.10" fill="#5a52a8"/>
<rect x="396.7" y="483.9" width="7.2" height="7.2" rx="2.88" fill="url(#mono)" stroke="#7458b0" stroke-width="0.4"/>
<ellipse cx="400.0" cy="486.2" rx="1.80" ry="1.08" fill="#e2d8f6" fill-opacity="0.75"/>
<path d="M398.5 486.6 Q398.7 489.5 400.3 489.3 Q401.9 489.3 402.1 486.8" fill="none" stroke="#6646a4" stroke-width="0.94" stroke-opacity="0.6" stroke-linecap="round"/>
<rect x="403.9" y="489.6" width="7.2" height="7.2" rx="2.88" fill="url(#mono)" stroke="#7458b0" stroke-width="0.4"/>
<ellipse cx="407.2" cy="491.9" rx="1.80" ry="1.08" fill="#e2d8f6" fill-opacity="0.75"/>
<path d="M405.7 492.3 Q405.9 495.2 407.5 495.0 Q409.1 495.0 409.3 492.5" fill="none" stroke="#6646a4" stroke-width="0.94" stroke-opacity="0.6" stroke-linecap="round"/>
<rect x="402.0" y="497.3" width="7.2" height="7.2" rx="2.88" fill="url(#mono)" stroke="#7458b0" stroke-width="0.4"/>
<ellipse cx="405.3" cy="499.6" rx="1.80" ry="1.08" fill="#e2d8f6" fill-opacity="0.75"/>
<path d="M403.8 500.0 Q404.0 502.9 405.6 502.7 Q407.2 502.7 407.4 500.2" fill="none" stroke="#6646a4" stroke-width="0.94" stroke-opacity="0.6" stroke-linecap="round"/>
<rect x="444.2" y="483.9" width="7.2" height="7.2" rx="2.88" fill="url(#mono)" stroke="#7458b0" stroke-width="0.4"/>
<ellipse cx="447.5" cy="486.2" rx="1.80" ry="1.08" fill="#e2d8f6" fill-opacity="0.75"/>
<path d="M446.0 486.6 Q446.2 489.5 447.8 489.3 Q449.4 489.3 449.6 486.8" fill="none" stroke="#6646a4" stroke-width="0.94" stroke-opacity="0.6" stroke-linecap="round"/>
<rect x="395.7" y="530.6" width="7.2" height="7.2" rx="2.88" fill="url(#mono)" stroke="#7458b0" stroke-width="0.4"/>
<ellipse cx="399.0" cy="532.9" rx="1.80" ry="1.08" fill="#e2d8f6" fill-opacity="0.75"/>
<path d="M397.5 533.3 Q397.7 536.2 399.3 536.0 Q400.9 536.0 401.1 533.5" fill="none" stroke="#6646a4" stroke-width="0.94" stroke-opacity="0.6" stroke-linecap="round"/>
<rect x="402.4" y="535.1" width="7.2" height="7.2" rx="2.88" fill="url(#mono)" stroke="#7458b0" stroke-width="0.4"/>
<ellipse cx="405.7" cy="537.4" rx="1.80" ry="1.08" fill="#e2d8f6" fill-opacity="0.75"/>
<path d="M404.2 537.8 Q404.4 540.7 406.0 540.5 Q407.6 540.5 407.8 538.0" fill="none" stroke="#6646a4" stroke-width="0.94" stroke-opacity="0.6" stroke-linecap="round"/>
<rect x="450.4" y="527.9" width="7.2" height="7.2" rx="2.88" fill="url(#mono)" stroke="#7458b0" stroke-width="0.4"/>
<ellipse cx="453.7" cy="530.2" rx="1.80" ry="1.08" fill="#e2d8f6" fill-opacity="0.75"/>
<path d="M452.2 530.6 Q452.4 533.5 454.0 533.3 Q455.6 533.3 455.8 530.8" fill="none" stroke="#6646a4" stroke-width="0.94" stroke-opacity="0.6" stroke-linecap="round"/>
<rect x="443.7" y="531.2" width="7.2" height="7.2" rx="2.88" fill="url(#mono)" stroke="#7458b0" stroke-width="0.4"/>
<ellipse cx="447.0" cy="533.5" rx="1.80" ry="1.08" fill="#e2d8f6" fill-opacity="0.75"/>
<path d="M445.5 533.9 Q445.7 536.8 447.3 536.6 Q448.9 536.6 449.1 534.1" fill="none" stroke="#6646a4" stroke-width="0.94" stroke-opacity="0.6" stroke-linecap="round"/>
<rect x="450.0" y="535.6" width="7.2" height="7.2" rx="2.88" fill="url(#mono)" stroke="#7458b0" stroke-width="0.4"/>
<ellipse cx="453.3" cy="537.9" rx="1.80" ry="1.08" fill="#e2d8f6" fill-opacity="0.75"/>
<path d="M451.8 538.3 Q452.0 541.2 453.6 541.0 Q455.2 541.0 455.4 538.5" fill="none" stroke="#6646a4" stroke-width="0.94" stroke-opacity="0.6" stroke-linecap="round"/>
<rect x="451.4" y="542.8" width="7.2" height="7.2" rx="2.88" fill="url(#mono)" stroke="#7458b0" stroke-width="0.4"/>
<ellipse cx="454.7" cy="545.1" rx="1.80" ry="1.08" fill="#e2d8f6" fill-opacity="0.75"/>
<path d="M453.2 545.5 Q453.4 548.4 455.0 548.2 Q456.6 548.2 456.8 545.7" fill="none" stroke="#6646a4" stroke-width="0.94" stroke-opacity="0.6" stroke-linecap="round"/>
<rect x="0" y="1" width="520" height="1" fill="#ababab"/>
<rect x="0" y="576" width="520" height="1" fill="#d0d0d0"/>
<rect x="1" y="0" width="1" height="578" fill="#9e9e9e"/>
<rect x="518" y="0" width="1" height="578" fill="#a2a2a2"/>
<rect x="0" y="0" width="520" height="1" fill="#474747"/>
<rect x="0" y="577" width="520" height="1" fill="#080808"/>
<rect x="0" y="0" width="1" height="578" fill="#464646"/>
<rect x="519" y="0" width="1" height="578" fill="#484848"/>
</svg></body></html>
